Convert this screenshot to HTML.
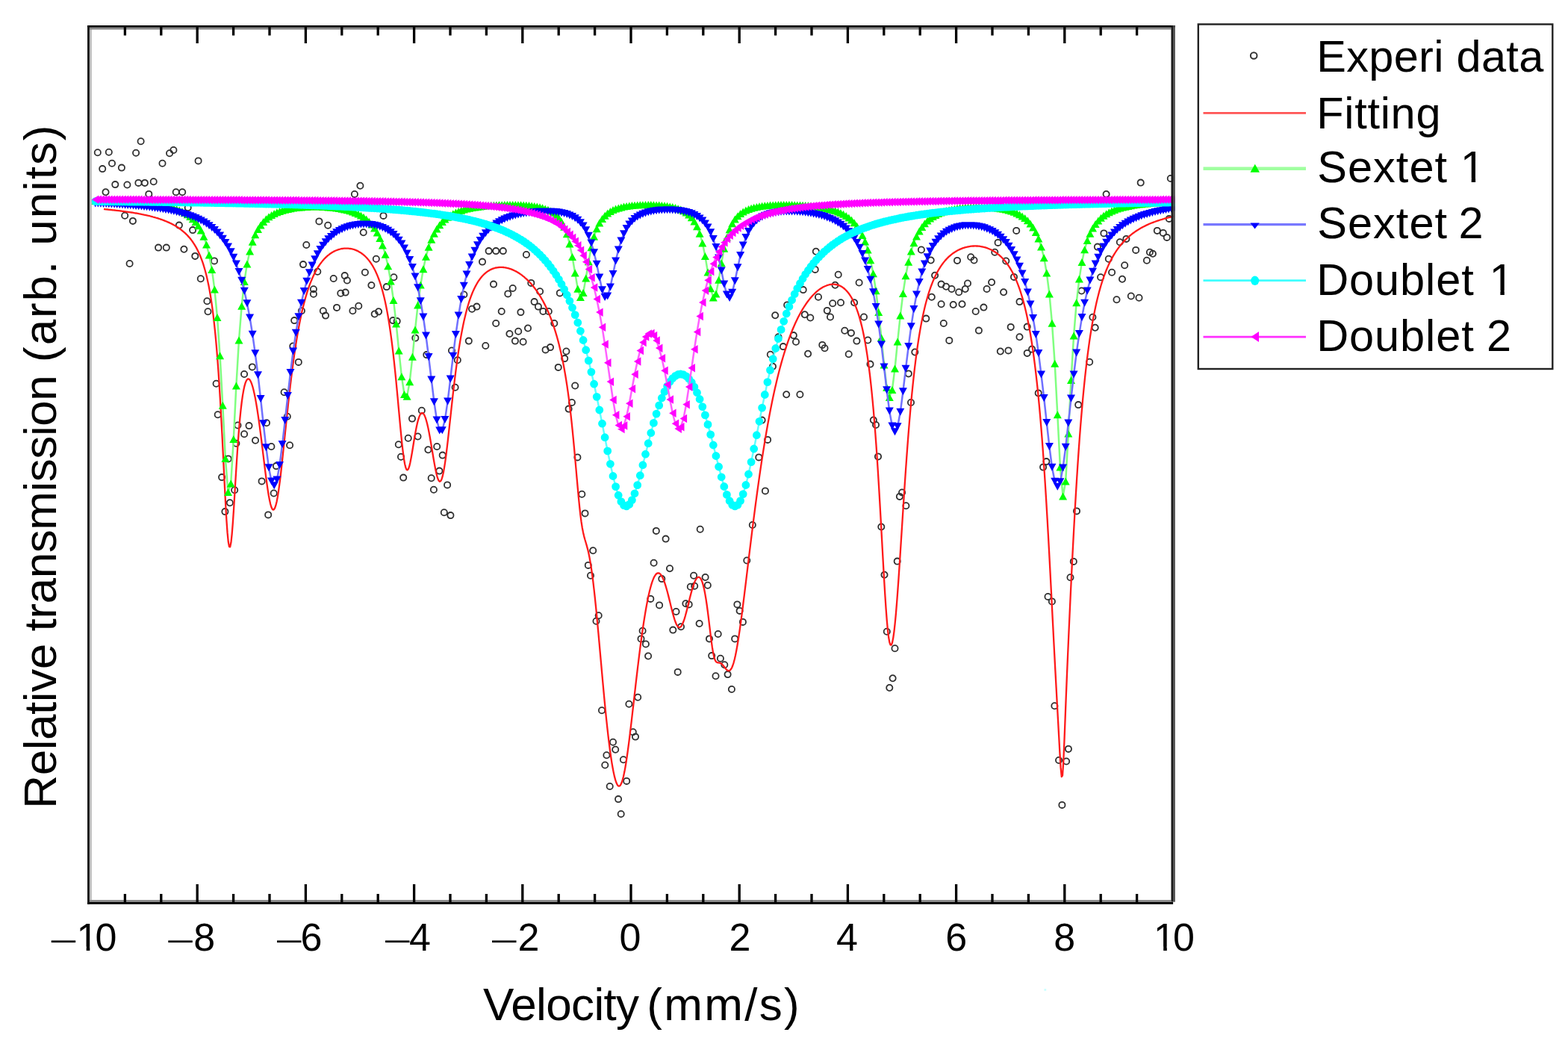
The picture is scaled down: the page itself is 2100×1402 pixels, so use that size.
<!DOCTYPE html><html><head><meta charset="utf-8"><style>html,body{margin:0;padding:0;background:#fff;}svg{display:block;}</style></head><body><svg width="2100" height="1402" viewBox="0 0 2100 1402">
<defs><clipPath id="pa"><rect x="119.8" y="36.7" width="1454" height="1171.3"/></clipPath></defs>
<rect width="100%" height="100%" fill="#fff"/>
<g clip-path="url(#pa)">
<path d="M134.9 204.2a4.1 4.1 0 1 0 -8.2 0a4.1 4.1 0 1 0 8.2 0zM149.9 203.8a4.1 4.1 0 1 0 -8.2 0a4.1 4.1 0 1 0 8.2 0zM192.7 189.3a4.1 4.1 0 1 0 -8.2 0a4.1 4.1 0 1 0 8.2 0zM186.2 204.7a4.1 4.1 0 1 0 -8.2 0a4.1 4.1 0 1 0 8.2 0zM231.2 205.3a4.1 4.1 0 1 0 -8.2 0a4.1 4.1 0 1 0 8.2 0zM236.5 201a4.1 4.1 0 1 0 -8.2 0a4.1 4.1 0 1 0 8.2 0zM221.6 218.8a4.1 4.1 0 1 0 -8.2 0a4.1 4.1 0 1 0 8.2 0zM269.7 215.4a4.1 4.1 0 1 0 -8.2 0a4.1 4.1 0 1 0 8.2 0zM154.1 218.8a4.1 4.1 0 1 0 -8.2 0a4.1 4.1 0 1 0 8.2 0zM141.3 226.1a4.1 4.1 0 1 0 -8.2 0a4.1 4.1 0 1 0 8.2 0zM167 224.6a4.1 4.1 0 1 0 -8.2 0a4.1 4.1 0 1 0 8.2 0zM158.4 247.1a4.1 4.1 0 1 0 -8.2 0a4.1 4.1 0 1 0 8.2 0zM174.5 247.5a4.1 4.1 0 1 0 -8.2 0a4.1 4.1 0 1 0 8.2 0zM189.5 244.9a4.1 4.1 0 1 0 -8.2 0a4.1 4.1 0 1 0 8.2 0zM198 244.9a4.1 4.1 0 1 0 -8.2 0a4.1 4.1 0 1 0 8.2 0zM209.8 243.2a4.1 4.1 0 1 0 -8.2 0a4.1 4.1 0 1 0 8.2 0zM145.6 257.3a4.1 4.1 0 1 0 -8.2 0a4.1 4.1 0 1 0 8.2 0zM239.8 257.3a4.1 4.1 0 1 0 -8.2 0a4.1 4.1 0 1 0 8.2 0zM248.3 257.3a4.1 4.1 0 1 0 -8.2 0a4.1 4.1 0 1 0 8.2 0zM203.4 259.9a4.1 4.1 0 1 0 -8.2 0a4.1 4.1 0 1 0 8.2 0zM171.3 288.8a4.1 4.1 0 1 0 -8.2 0a4.1 4.1 0 1 0 8.2 0zM182 295.9a4.1 4.1 0 1 0 -8.2 0a4.1 4.1 0 1 0 8.2 0zM244 301.6a4.1 4.1 0 1 0 -8.2 0a4.1 4.1 0 1 0 8.2 0zM262.2 308.1a4.1 4.1 0 1 0 -8.2 0a4.1 4.1 0 1 0 8.2 0zM255.8 278.1a4.1 4.1 0 1 0 -8.2 0a4.1 4.1 0 1 0 8.2 0zM216.2 331.6a4.1 4.1 0 1 0 -8.2 0a4.1 4.1 0 1 0 8.2 0zM226.9 331.6a4.1 4.1 0 1 0 -8.2 0a4.1 4.1 0 1 0 8.2 0zM250.5 333.7a4.1 4.1 0 1 0 -8.2 0a4.1 4.1 0 1 0 8.2 0zM265.4 342.9a4.1 4.1 0 1 0 -8.2 0a4.1 4.1 0 1 0 8.2 0zM291.1 349.4a4.1 4.1 0 1 0 -8.2 0a4.1 4.1 0 1 0 8.2 0zM177.7 353a4.1 4.1 0 1 0 -8.2 0a4.1 4.1 0 1 0 8.2 0zM272.9 373.3a4.1 4.1 0 1 0 -8.2 0a4.1 4.1 0 1 0 8.2 0zM281.5 403.3a4.1 4.1 0 1 0 -8.2 0a4.1 4.1 0 1 0 8.2 0zM282.6 417.2a4.1 4.1 0 1 0 -8.2 0a4.1 4.1 0 1 0 8.2 0zM293.7 513.8a4.1 4.1 0 1 0 -8.2 0a4.1 4.1 0 1 0 8.2 0zM295.8 555.2a4.1 4.1 0 1 0 -8.2 0a4.1 4.1 0 1 0 8.2 0zM331.2 501a4.1 4.1 0 1 0 -8.2 0a4.1 4.1 0 1 0 8.2 0zM341.9 491.4a4.1 4.1 0 1 0 -8.2 0a4.1 4.1 0 1 0 8.2 0zM396.4 463.5a4.1 4.1 0 1 0 -8.2 0a4.1 4.1 0 1 0 8.2 0zM403.9 484.9a4.1 4.1 0 1 0 -8.2 0a4.1 4.1 0 1 0 8.2 0zM384.7 525.2a4.1 4.1 0 1 0 -8.2 0a4.1 4.1 0 1 0 8.2 0zM388.9 557.7a4.1 4.1 0 1 0 -8.2 0a4.1 4.1 0 1 0 8.2 0zM322.6 569.5a4.1 4.1 0 1 0 -8.2 0a4.1 4.1 0 1 0 8.2 0zM337.6 570.1a4.1 4.1 0 1 0 -8.2 0a4.1 4.1 0 1 0 8.2 0zM331.2 581.3a4.1 4.1 0 1 0 -8.2 0a4.1 4.1 0 1 0 8.2 0zM346.1 589.8a4.1 4.1 0 1 0 -8.2 0a4.1 4.1 0 1 0 8.2 0zM320.5 593.7a4.1 4.1 0 1 0 -8.2 0a4.1 4.1 0 1 0 8.2 0zM367.5 598a4.1 4.1 0 1 0 -8.2 0a4.1 4.1 0 1 0 8.2 0zM392.2 596.2a4.1 4.1 0 1 0 -8.2 0a4.1 4.1 0 1 0 8.2 0zM361.1 566.3a4.1 4.1 0 1 0 -8.2 0a4.1 4.1 0 1 0 8.2 0zM309.8 614.4a4.1 4.1 0 1 0 -8.2 0a4.1 4.1 0 1 0 8.2 0zM301.2 639.1a4.1 4.1 0 1 0 -8.2 0a4.1 4.1 0 1 0 8.2 0zM318.3 656.2a4.1 4.1 0 1 0 -8.2 0a4.1 4.1 0 1 0 8.2 0zM311.9 673.3a4.1 4.1 0 1 0 -8.2 0a4.1 4.1 0 1 0 8.2 0zM305.5 685.1a4.1 4.1 0 1 0 -8.2 0a4.1 4.1 0 1 0 8.2 0zM354.7 644.4a4.1 4.1 0 1 0 -8.2 0a4.1 4.1 0 1 0 8.2 0zM374 624.1a4.1 4.1 0 1 0 -8.2 0a4.1 4.1 0 1 0 8.2 0zM370.8 660.5a4.1 4.1 0 1 0 -8.2 0a4.1 4.1 0 1 0 8.2 0zM363.3 689.4a4.1 4.1 0 1 0 -8.2 0a4.1 4.1 0 1 0 8.2 0zM431.5 296.4a4.1 4.1 0 1 0 -8.2 0a4.1 4.1 0 1 0 8.2 0zM443.3 301.7a4.1 4.1 0 1 0 -8.2 0a4.1 4.1 0 1 0 8.2 0zM414.4 328a4.1 4.1 0 1 0 -8.2 0a4.1 4.1 0 1 0 8.2 0zM410.1 354.1a4.1 4.1 0 1 0 -8.2 0a4.1 4.1 0 1 0 8.2 0zM429.4 363.8a4.1 4.1 0 1 0 -8.2 0a4.1 4.1 0 1 0 8.2 0zM424 387.3a4.1 4.1 0 1 0 -8.2 0a4.1 4.1 0 1 0 8.2 0zM424 393.7a4.1 4.1 0 1 0 -8.2 0a4.1 4.1 0 1 0 8.2 0zM450.8 373a4.1 4.1 0 1 0 -8.2 0a4.1 4.1 0 1 0 8.2 0zM465.8 369.1a4.1 4.1 0 1 0 -8.2 0a4.1 4.1 0 1 0 8.2 0zM469 375.5a4.1 4.1 0 1 0 -8.2 0a4.1 4.1 0 1 0 8.2 0zM460.4 392.7a4.1 4.1 0 1 0 -8.2 0a4.1 4.1 0 1 0 8.2 0zM466.8 391.6a4.1 4.1 0 1 0 -8.2 0a4.1 4.1 0 1 0 8.2 0zM436.9 416.2a4.1 4.1 0 1 0 -8.2 0a4.1 4.1 0 1 0 8.2 0zM440.1 422.6a4.1 4.1 0 1 0 -8.2 0a4.1 4.1 0 1 0 8.2 0zM455.1 411.9a4.1 4.1 0 1 0 -8.2 0a4.1 4.1 0 1 0 8.2 0zM476.5 416.2a4.1 4.1 0 1 0 -8.2 0a4.1 4.1 0 1 0 8.2 0zM408 416.2a4.1 4.1 0 1 0 -8.2 0a4.1 4.1 0 1 0 8.2 0zM398.3 429.1a4.1 4.1 0 1 0 -8.2 0a4.1 4.1 0 1 0 8.2 0zM479 260a4.1 4.1 0 1 0 -8.2 0a4.1 4.1 0 1 0 8.2 0zM486.5 248.8a4.1 4.1 0 1 0 -8.2 0a4.1 4.1 0 1 0 8.2 0zM517.6 288.9a4.1 4.1 0 1 0 -8.2 0a4.1 4.1 0 1 0 8.2 0zM490.8 311.3a4.1 4.1 0 1 0 -8.2 0a4.1 4.1 0 1 0 8.2 0zM507.9 346.7a4.1 4.1 0 1 0 -8.2 0a4.1 4.1 0 1 0 8.2 0zM531.5 371.3a4.1 4.1 0 1 0 -8.2 0a4.1 4.1 0 1 0 8.2 0zM521.9 384.1a4.1 4.1 0 1 0 -8.2 0a4.1 4.1 0 1 0 8.2 0zM493 364.8a4.1 4.1 0 1 0 -8.2 0a4.1 4.1 0 1 0 8.2 0zM501.5 382a4.1 4.1 0 1 0 -8.2 0a4.1 4.1 0 1 0 8.2 0zM484.4 409.8a4.1 4.1 0 1 0 -8.2 0a4.1 4.1 0 1 0 8.2 0zM505.8 420.5a4.1 4.1 0 1 0 -8.2 0a4.1 4.1 0 1 0 8.2 0zM511.2 417.3a4.1 4.1 0 1 0 -8.2 0a4.1 4.1 0 1 0 8.2 0zM530.4 429.1a4.1 4.1 0 1 0 -8.2 0a4.1 4.1 0 1 0 8.2 0zM535.8 430.1a4.1 4.1 0 1 0 -8.2 0a4.1 4.1 0 1 0 8.2 0zM560.4 452.6a4.1 4.1 0 1 0 -8.2 0a4.1 4.1 0 1 0 8.2 0zM575.4 475.1a4.1 4.1 0 1 0 -8.2 0a4.1 4.1 0 1 0 8.2 0zM568.9 549.7a4.1 4.1 0 1 0 -8.2 0a4.1 4.1 0 1 0 8.2 0zM556.1 560.6a4.1 4.1 0 1 0 -8.2 0a4.1 4.1 0 1 0 8.2 0zM550.8 586.7a4.1 4.1 0 1 0 -8.2 0a4.1 4.1 0 1 0 8.2 0zM563.6 584.5a4.1 4.1 0 1 0 -8.2 0a4.1 4.1 0 1 0 8.2 0zM537.9 595.2a4.1 4.1 0 1 0 -8.2 0a4.1 4.1 0 1 0 8.2 0zM541.1 611.7a4.1 4.1 0 1 0 -8.2 0a4.1 4.1 0 1 0 8.2 0zM577.5 602.3a4.1 4.1 0 1 0 -8.2 0a4.1 4.1 0 1 0 8.2 0zM589.3 598a4.1 4.1 0 1 0 -8.2 0a4.1 4.1 0 1 0 8.2 0zM596.8 609.6a4.1 4.1 0 1 0 -8.2 0a4.1 4.1 0 1 0 8.2 0zM592.5 630.6a4.1 4.1 0 1 0 -8.2 0a4.1 4.1 0 1 0 8.2 0zM581.8 640.2a4.1 4.1 0 1 0 -8.2 0a4.1 4.1 0 1 0 8.2 0zM544.3 639.6a4.1 4.1 0 1 0 -8.2 0a4.1 4.1 0 1 0 8.2 0zM585 655.8a4.1 4.1 0 1 0 -8.2 0a4.1 4.1 0 1 0 8.2 0zM603.2 649.4a4.1 4.1 0 1 0 -8.2 0a4.1 4.1 0 1 0 8.2 0zM598.9 686.2a4.1 4.1 0 1 0 -8.2 0a4.1 4.1 0 1 0 8.2 0zM607.5 690.1a4.1 4.1 0 1 0 -8.2 0a4.1 4.1 0 1 0 8.2 0zM609.1 469.5a4.1 4.1 0 1 0 -8.2 0a4.1 4.1 0 1 0 8.2 0zM613.7 518.7a4.1 4.1 0 1 0 -8.2 0a4.1 4.1 0 1 0 8.2 0zM658.7 336.1a4.1 4.1 0 1 0 -8.2 0a4.1 4.1 0 1 0 8.2 0zM668.3 336.1a4.1 4.1 0 1 0 -8.2 0a4.1 4.1 0 1 0 8.2 0zM677.9 336.1a4.1 4.1 0 1 0 -8.2 0a4.1 4.1 0 1 0 8.2 0zM709 341a4.1 4.1 0 1 0 -8.2 0a4.1 4.1 0 1 0 8.2 0zM650.1 350.6a4.1 4.1 0 1 0 -8.2 0a4.1 4.1 0 1 0 8.2 0zM665.1 380.6a4.1 4.1 0 1 0 -8.2 0a4.1 4.1 0 1 0 8.2 0zM684.4 393.4a4.1 4.1 0 1 0 -8.2 0a4.1 4.1 0 1 0 8.2 0zM690.8 386a4.1 4.1 0 1 0 -8.2 0a4.1 4.1 0 1 0 8.2 0zM715.4 378.9a4.1 4.1 0 1 0 -8.2 0a4.1 4.1 0 1 0 8.2 0zM727.2 390.2a4.1 4.1 0 1 0 -8.2 0a4.1 4.1 0 1 0 8.2 0zM719.7 404.1a4.1 4.1 0 1 0 -8.2 0a4.1 4.1 0 1 0 8.2 0zM725 410.6a4.1 4.1 0 1 0 -8.2 0a4.1 4.1 0 1 0 8.2 0zM731.5 417a4.1 4.1 0 1 0 -8.2 0a4.1 4.1 0 1 0 8.2 0zM738.9 417a4.1 4.1 0 1 0 -8.2 0a4.1 4.1 0 1 0 8.2 0zM746.4 433a4.1 4.1 0 1 0 -8.2 0a4.1 4.1 0 1 0 8.2 0zM753.9 392.4a4.1 4.1 0 1 0 -8.2 0a4.1 4.1 0 1 0 8.2 0zM636.2 413.8a4.1 4.1 0 1 0 -8.2 0a4.1 4.1 0 1 0 8.2 0zM642.6 410.6a4.1 4.1 0 1 0 -8.2 0a4.1 4.1 0 1 0 8.2 0zM625.5 394.5a4.1 4.1 0 1 0 -8.2 0a4.1 4.1 0 1 0 8.2 0zM675.8 417a4.1 4.1 0 1 0 -8.2 0a4.1 4.1 0 1 0 8.2 0zM701.5 418.1a4.1 4.1 0 1 0 -8.2 0a4.1 4.1 0 1 0 8.2 0zM668.3 433a4.1 4.1 0 1 0 -8.2 0a4.1 4.1 0 1 0 8.2 0zM686.5 447a4.1 4.1 0 1 0 -8.2 0a4.1 4.1 0 1 0 8.2 0zM698.3 443.7a4.1 4.1 0 1 0 -8.2 0a4.1 4.1 0 1 0 8.2 0zM711.1 439.5a4.1 4.1 0 1 0 -8.2 0a4.1 4.1 0 1 0 8.2 0zM694 456.6a4.1 4.1 0 1 0 -8.2 0a4.1 4.1 0 1 0 8.2 0zM704.7 457.7a4.1 4.1 0 1 0 -8.2 0a4.1 4.1 0 1 0 8.2 0zM631.9 456.6a4.1 4.1 0 1 0 -8.2 0a4.1 4.1 0 1 0 8.2 0zM654.4 463a4.1 4.1 0 1 0 -8.2 0a4.1 4.1 0 1 0 8.2 0zM734.7 468.4a4.1 4.1 0 1 0 -8.2 0a4.1 4.1 0 1 0 8.2 0zM741.1 465.1a4.1 4.1 0 1 0 -8.2 0a4.1 4.1 0 1 0 8.2 0zM762.5 470.5a4.1 4.1 0 1 0 -8.2 0a4.1 4.1 0 1 0 8.2 0zM760.3 480.1a4.1 4.1 0 1 0 -8.2 0a4.1 4.1 0 1 0 8.2 0zM751.8 491.9a4.1 4.1 0 1 0 -8.2 0a4.1 4.1 0 1 0 8.2 0zM774.3 516.5a4.1 4.1 0 1 0 -8.2 0a4.1 4.1 0 1 0 8.2 0zM770 539a4.1 4.1 0 1 0 -8.2 0a4.1 4.1 0 1 0 8.2 0zM765.7 547.6a4.1 4.1 0 1 0 -8.2 0a4.1 4.1 0 1 0 8.2 0zM616.9 482.3a4.1 4.1 0 1 0 -8.2 0a4.1 4.1 0 1 0 8.2 0zM777.5 612.4a4.1 4.1 0 1 0 -8.2 0a4.1 4.1 0 1 0 8.2 0zM783.4 661.7a4.1 4.1 0 1 0 -8.2 0a4.1 4.1 0 1 0 8.2 0zM787.6 687.4a4.1 4.1 0 1 0 -8.2 0a4.1 4.1 0 1 0 8.2 0zM798.3 737.2a4.1 4.1 0 1 0 -8.2 0a4.1 4.1 0 1 0 8.2 0zM791.9 756.9a4.1 4.1 0 1 0 -8.2 0a4.1 4.1 0 1 0 8.2 0zM795.1 770.8a4.1 4.1 0 1 0 -8.2 0a4.1 4.1 0 1 0 8.2 0zM805.8 824.3a4.1 4.1 0 1 0 -8.2 0a4.1 4.1 0 1 0 8.2 0zM802.6 831.8a4.1 4.1 0 1 0 -8.2 0a4.1 4.1 0 1 0 8.2 0zM882.9 710.9a4.1 4.1 0 1 0 -8.2 0a4.1 4.1 0 1 0 8.2 0zM895.7 721.6a4.1 4.1 0 1 0 -8.2 0a4.1 4.1 0 1 0 8.2 0zM879.7 753.7a4.1 4.1 0 1 0 -8.2 0a4.1 4.1 0 1 0 8.2 0zM901.1 761.2a4.1 4.1 0 1 0 -8.2 0a4.1 4.1 0 1 0 8.2 0zM890.4 775.1a4.1 4.1 0 1 0 -8.2 0a4.1 4.1 0 1 0 8.2 0zM933.2 770.8a4.1 4.1 0 1 0 -8.2 0a4.1 4.1 0 1 0 8.2 0zM934.3 784.7a4.1 4.1 0 1 0 -8.2 0a4.1 4.1 0 1 0 8.2 0zM928.9 785.8a4.1 4.1 0 1 0 -8.2 0a4.1 4.1 0 1 0 8.2 0zM941.8 708.8a4.1 4.1 0 1 0 -8.2 0a4.1 4.1 0 1 0 8.2 0zM875.4 801.9a4.1 4.1 0 1 0 -8.2 0a4.1 4.1 0 1 0 8.2 0zM887.2 810.4a4.1 4.1 0 1 0 -8.2 0a4.1 4.1 0 1 0 8.2 0zM922.5 808.3a4.1 4.1 0 1 0 -8.2 0a4.1 4.1 0 1 0 8.2 0zM926.8 809.4a4.1 4.1 0 1 0 -8.2 0a4.1 4.1 0 1 0 8.2 0zM909.6 819a4.1 4.1 0 1 0 -8.2 0a4.1 4.1 0 1 0 8.2 0zM905.4 843.6a4.1 4.1 0 1 0 -8.2 0a4.1 4.1 0 1 0 8.2 0zM916.1 839.3a4.1 4.1 0 1 0 -8.2 0a4.1 4.1 0 1 0 8.2 0zM940.7 835a4.1 4.1 0 1 0 -8.2 0a4.1 4.1 0 1 0 8.2 0zM864.7 844.7a4.1 4.1 0 1 0 -8.2 0a4.1 4.1 0 1 0 8.2 0zM862.6 855.4a4.1 4.1 0 1 0 -8.2 0a4.1 4.1 0 1 0 8.2 0zM869 862.5a4.1 4.1 0 1 0 -8.2 0a4.1 4.1 0 1 0 8.2 0zM872.2 878.5a4.1 4.1 0 1 0 -8.2 0a4.1 4.1 0 1 0 8.2 0zM911.8 899.9a4.1 4.1 0 1 0 -8.2 0a4.1 4.1 0 1 0 8.2 0zM858.3 933.8a4.1 4.1 0 1 0 -8.2 0a4.1 4.1 0 1 0 8.2 0zM846.5 942.7a4.1 4.1 0 1 0 -8.2 0a4.1 4.1 0 1 0 8.2 0zM810.1 951.3a4.1 4.1 0 1 0 -8.2 0a4.1 4.1 0 1 0 8.2 0zM851.9 980.2a4.1 4.1 0 1 0 -8.2 0a4.1 4.1 0 1 0 8.2 0zM855.1 986.6a4.1 4.1 0 1 0 -8.2 0a4.1 4.1 0 1 0 8.2 0zM825.1 993.7a4.1 4.1 0 1 0 -8.2 0a4.1 4.1 0 1 0 8.2 0zM828.3 1003.7a4.1 4.1 0 1 0 -8.2 0a4.1 4.1 0 1 0 8.2 0zM816.5 1011.2a4.1 4.1 0 1 0 -8.2 0a4.1 4.1 0 1 0 8.2 0zM839 1017.2a4.1 4.1 0 1 0 -8.2 0a4.1 4.1 0 1 0 8.2 0zM814.4 1024.5a4.1 4.1 0 1 0 -8.2 0a4.1 4.1 0 1 0 8.2 0zM843.3 1045.9a4.1 4.1 0 1 0 -8.2 0a4.1 4.1 0 1 0 8.2 0zM820.8 1053a4.1 4.1 0 1 0 -8.2 0a4.1 4.1 0 1 0 8.2 0zM832.2 1070.1a4.1 4.1 0 1 0 -8.2 0a4.1 4.1 0 1 0 8.2 0zM835.8 1090a4.1 4.1 0 1 0 -8.2 0a4.1 4.1 0 1 0 8.2 0zM1024.7 562.6a4.1 4.1 0 1 0 -8.2 0a4.1 4.1 0 1 0 8.2 0zM1032.2 588.9a4.1 4.1 0 1 0 -8.2 0a4.1 4.1 0 1 0 8.2 0zM1020.4 612.4a4.1 4.1 0 1 0 -8.2 0a4.1 4.1 0 1 0 8.2 0zM1029 657.4a4.1 4.1 0 1 0 -8.2 0a4.1 4.1 0 1 0 8.2 0zM1011.9 703a4.1 4.1 0 1 0 -8.2 0a4.1 4.1 0 1 0 8.2 0zM1004.4 750.5a4.1 4.1 0 1 0 -8.2 0a4.1 4.1 0 1 0 8.2 0zM948.7 773a4.1 4.1 0 1 0 -8.2 0a4.1 4.1 0 1 0 8.2 0zM951.9 783.7a4.1 4.1 0 1 0 -8.2 0a4.1 4.1 0 1 0 8.2 0zM991.5 809.4a4.1 4.1 0 1 0 -8.2 0a4.1 4.1 0 1 0 8.2 0zM994.7 817.9a4.1 4.1 0 1 0 -8.2 0a4.1 4.1 0 1 0 8.2 0zM999 832.9a4.1 4.1 0 1 0 -8.2 0a4.1 4.1 0 1 0 8.2 0zM965.8 849a4.1 4.1 0 1 0 -8.2 0a4.1 4.1 0 1 0 8.2 0zM954.1 855.4a4.1 4.1 0 1 0 -8.2 0a4.1 4.1 0 1 0 8.2 0zM988.3 855.4a4.1 4.1 0 1 0 -8.2 0a4.1 4.1 0 1 0 8.2 0zM957.3 878.1a4.1 4.1 0 1 0 -8.2 0a4.1 4.1 0 1 0 8.2 0zM969 881.7a4.1 4.1 0 1 0 -8.2 0a4.1 4.1 0 1 0 8.2 0zM974.4 890.3a4.1 4.1 0 1 0 -8.2 0a4.1 4.1 0 1 0 8.2 0zM962.6 905.3a4.1 4.1 0 1 0 -8.2 0a4.1 4.1 0 1 0 8.2 0zM978.7 903.1a4.1 4.1 0 1 0 -8.2 0a4.1 4.1 0 1 0 8.2 0zM984 923a4.1 4.1 0 1 0 -8.2 0a4.1 4.1 0 1 0 8.2 0zM1096.9 336.7a4.1 4.1 0 1 0 -8.2 0a4.1 4.1 0 1 0 8.2 0zM1095.8 360.9a4.1 4.1 0 1 0 -8.2 0a4.1 4.1 0 1 0 8.2 0zM1126.8 367.8a4.1 4.1 0 1 0 -8.2 0a4.1 4.1 0 1 0 8.2 0zM1122.6 381.7a4.1 4.1 0 1 0 -8.2 0a4.1 4.1 0 1 0 8.2 0zM1154.7 378.5a4.1 4.1 0 1 0 -8.2 0a4.1 4.1 0 1 0 8.2 0zM1079.8 388.1a4.1 4.1 0 1 0 -8.2 0a4.1 4.1 0 1 0 8.2 0zM1100.1 397.7a4.1 4.1 0 1 0 -8.2 0a4.1 4.1 0 1 0 8.2 0zM1119.3 406.3a4.1 4.1 0 1 0 -8.2 0a4.1 4.1 0 1 0 8.2 0zM1130.1 405.2a4.1 4.1 0 1 0 -8.2 0a4.1 4.1 0 1 0 8.2 0zM1111.9 415.9a4.1 4.1 0 1 0 -8.2 0a4.1 4.1 0 1 0 8.2 0zM1116.1 424.5a4.1 4.1 0 1 0 -8.2 0a4.1 4.1 0 1 0 8.2 0zM1148.2 405.2a4.1 4.1 0 1 0 -8.2 0a4.1 4.1 0 1 0 8.2 0zM1081.9 421.3a4.1 4.1 0 1 0 -8.2 0a4.1 4.1 0 1 0 8.2 0zM1089.4 425.5a4.1 4.1 0 1 0 -8.2 0a4.1 4.1 0 1 0 8.2 0zM1161.1 424.5a4.1 4.1 0 1 0 -8.2 0a4.1 4.1 0 1 0 8.2 0zM1058.3 408.4a4.1 4.1 0 1 0 -8.2 0a4.1 4.1 0 1 0 8.2 0zM1042.3 422.3a4.1 4.1 0 1 0 -8.2 0a4.1 4.1 0 1 0 8.2 0zM1135.4 442.7a4.1 4.1 0 1 0 -8.2 0a4.1 4.1 0 1 0 8.2 0zM1144 445.9a4.1 4.1 0 1 0 -8.2 0a4.1 4.1 0 1 0 8.2 0zM1151.5 456.6a4.1 4.1 0 1 0 -8.2 0a4.1 4.1 0 1 0 8.2 0zM1166.4 455.5a4.1 4.1 0 1 0 -8.2 0a4.1 4.1 0 1 0 8.2 0zM1066.9 449.1a4.1 4.1 0 1 0 -8.2 0a4.1 4.1 0 1 0 8.2 0zM1070.1 457.7a4.1 4.1 0 1 0 -8.2 0a4.1 4.1 0 1 0 8.2 0zM1046.6 451.2a4.1 4.1 0 1 0 -8.2 0a4.1 4.1 0 1 0 8.2 0zM1053 464.1a4.1 4.1 0 1 0 -8.2 0a4.1 4.1 0 1 0 8.2 0zM1105.4 461.9a4.1 4.1 0 1 0 -8.2 0a4.1 4.1 0 1 0 8.2 0zM1108.6 466.2a4.1 4.1 0 1 0 -8.2 0a4.1 4.1 0 1 0 8.2 0zM1086.2 473.7a4.1 4.1 0 1 0 -8.2 0a4.1 4.1 0 1 0 8.2 0zM1140.8 474.3a4.1 4.1 0 1 0 -8.2 0a4.1 4.1 0 1 0 8.2 0zM1035.9 474.8a4.1 4.1 0 1 0 -8.2 0a4.1 4.1 0 1 0 8.2 0zM1169.6 487.6a4.1 4.1 0 1 0 -8.2 0a4.1 4.1 0 1 0 8.2 0zM1039.1 490.8a4.1 4.1 0 1 0 -8.2 0a4.1 4.1 0 1 0 8.2 0zM1057.3 528.3a4.1 4.1 0 1 0 -8.2 0a4.1 4.1 0 1 0 8.2 0zM1075.5 528.3a4.1 4.1 0 1 0 -8.2 0a4.1 4.1 0 1 0 8.2 0zM1173.9 562.5a4.1 4.1 0 1 0 -8.2 0a4.1 4.1 0 1 0 8.2 0zM1177.1 569a4.1 4.1 0 1 0 -8.2 0a4.1 4.1 0 1 0 8.2 0zM1180.1 611.4a4.1 4.1 0 1 0 -8.2 0a4.1 4.1 0 1 0 8.2 0zM1212.2 659.5a4.1 4.1 0 1 0 -8.2 0a4.1 4.1 0 1 0 8.2 0zM1209 664.9a4.1 4.1 0 1 0 -8.2 0a4.1 4.1 0 1 0 8.2 0zM1217.5 677.3a4.1 4.1 0 1 0 -8.2 0a4.1 4.1 0 1 0 8.2 0zM1184.4 705.5a4.1 4.1 0 1 0 -8.2 0a4.1 4.1 0 1 0 8.2 0zM1205.8 751.6a4.1 4.1 0 1 0 -8.2 0a4.1 4.1 0 1 0 8.2 0zM1188.6 769.8a4.1 4.1 0 1 0 -8.2 0a4.1 4.1 0 1 0 8.2 0zM1191.9 845.7a4.1 4.1 0 1 0 -8.2 0a4.1 4.1 0 1 0 8.2 0zM1202.6 868.3a4.1 4.1 0 1 0 -8.2 0a4.1 4.1 0 1 0 8.2 0zM1199.7 908.2a4.1 4.1 0 1 0 -8.2 0a4.1 4.1 0 1 0 8.2 0zM1195.4 921a4.1 4.1 0 1 0 -8.2 0a4.1 4.1 0 1 0 8.2 0zM1238 334.5a4.1 4.1 0 1 0 -8.2 0a4.1 4.1 0 1 0 8.2 0zM1250.8 348.5a4.1 4.1 0 1 0 -8.2 0a4.1 4.1 0 1 0 8.2 0zM1286.1 348.9a4.1 4.1 0 1 0 -8.2 0a4.1 4.1 0 1 0 8.2 0zM1304.3 344.2a4.1 4.1 0 1 0 -8.2 0a4.1 4.1 0 1 0 8.2 0zM1308.6 348.5a4.1 4.1 0 1 0 -8.2 0a4.1 4.1 0 1 0 8.2 0zM1256.2 368.8a4.1 4.1 0 1 0 -8.2 0a4.1 4.1 0 1 0 8.2 0zM1264.7 380.6a4.1 4.1 0 1 0 -8.2 0a4.1 4.1 0 1 0 8.2 0zM1271.2 383.8a4.1 4.1 0 1 0 -8.2 0a4.1 4.1 0 1 0 8.2 0zM1278.6 387a4.1 4.1 0 1 0 -8.2 0a4.1 4.1 0 1 0 8.2 0zM1288.3 391.3a4.1 4.1 0 1 0 -8.2 0a4.1 4.1 0 1 0 8.2 0zM1296.8 387a4.1 4.1 0 1 0 -8.2 0a4.1 4.1 0 1 0 8.2 0zM1300.1 379.5a4.1 4.1 0 1 0 -8.2 0a4.1 4.1 0 1 0 8.2 0zM1325.7 387a4.1 4.1 0 1 0 -8.2 0a4.1 4.1 0 1 0 8.2 0zM1332.2 378a4.1 4.1 0 1 0 -8.2 0a4.1 4.1 0 1 0 8.2 0zM1348.2 391.3a4.1 4.1 0 1 0 -8.2 0a4.1 4.1 0 1 0 8.2 0zM1365.3 308.9a4.1 4.1 0 1 0 -8.2 0a4.1 4.1 0 1 0 8.2 0zM1340.7 324.9a4.1 4.1 0 1 0 -8.2 0a4.1 4.1 0 1 0 8.2 0zM1336.4 337.8a4.1 4.1 0 1 0 -8.2 0a4.1 4.1 0 1 0 8.2 0zM1351.4 349.5a4.1 4.1 0 1 0 -8.2 0a4.1 4.1 0 1 0 8.2 0zM1362.1 370.9a4.1 4.1 0 1 0 -8.2 0a4.1 4.1 0 1 0 8.2 0zM1369.6 404.1a4.1 4.1 0 1 0 -8.2 0a4.1 4.1 0 1 0 8.2 0zM1251.9 397.7a4.1 4.1 0 1 0 -8.2 0a4.1 4.1 0 1 0 8.2 0zM1264.7 407.3a4.1 4.1 0 1 0 -8.2 0a4.1 4.1 0 1 0 8.2 0zM1280.8 408a4.1 4.1 0 1 0 -8.2 0a4.1 4.1 0 1 0 8.2 0zM1292.6 407.3a4.1 4.1 0 1 0 -8.2 0a4.1 4.1 0 1 0 8.2 0zM1310.8 417a4.1 4.1 0 1 0 -8.2 0a4.1 4.1 0 1 0 8.2 0zM1321.5 411.6a4.1 4.1 0 1 0 -8.2 0a4.1 4.1 0 1 0 8.2 0zM1244.4 426.6a4.1 4.1 0 1 0 -8.2 0a4.1 4.1 0 1 0 8.2 0zM1267.9 433a4.1 4.1 0 1 0 -8.2 0a4.1 4.1 0 1 0 8.2 0zM1315 442.6a4.1 4.1 0 1 0 -8.2 0a4.1 4.1 0 1 0 8.2 0zM1357.8 437.9a4.1 4.1 0 1 0 -8.2 0a4.1 4.1 0 1 0 8.2 0zM1369.6 451.2a4.1 4.1 0 1 0 -8.2 0a4.1 4.1 0 1 0 8.2 0zM1275.4 455.9a4.1 4.1 0 1 0 -8.2 0a4.1 4.1 0 1 0 8.2 0zM1343.9 470.5a4.1 4.1 0 1 0 -8.2 0a4.1 4.1 0 1 0 8.2 0zM1354.6 469.4a4.1 4.1 0 1 0 -8.2 0a4.1 4.1 0 1 0 8.2 0zM1229.4 471.5a4.1 4.1 0 1 0 -8.2 0a4.1 4.1 0 1 0 8.2 0zM1220.9 500.4a4.1 4.1 0 1 0 -8.2 0a4.1 4.1 0 1 0 8.2 0zM1224.1 539a4.1 4.1 0 1 0 -8.2 0a4.1 4.1 0 1 0 8.2 0zM1531.8 244.6a4.1 4.1 0 1 0 -8.2 0a4.1 4.1 0 1 0 8.2 0zM1485.7 260a4.1 4.1 0 1 0 -8.2 0a4.1 4.1 0 1 0 8.2 0zM1482.5 312.4a4.1 4.1 0 1 0 -8.2 0a4.1 4.1 0 1 0 8.2 0zM1474 330.6a4.1 4.1 0 1 0 -8.2 0a4.1 4.1 0 1 0 8.2 0zM1512.5 319.9a4.1 4.1 0 1 0 -8.2 0a4.1 4.1 0 1 0 8.2 0zM1503.9 324.2a4.1 4.1 0 1 0 -8.2 0a4.1 4.1 0 1 0 8.2 0zM1525.3 334.9a4.1 4.1 0 1 0 -8.2 0a4.1 4.1 0 1 0 8.2 0zM1488.9 346.7a4.1 4.1 0 1 0 -8.2 0a4.1 4.1 0 1 0 8.2 0zM1510.3 355.2a4.1 4.1 0 1 0 -8.2 0a4.1 4.1 0 1 0 8.2 0zM1493.2 364.8a4.1 4.1 0 1 0 -8.2 0a4.1 4.1 0 1 0 8.2 0zM1478.2 371.3a4.1 4.1 0 1 0 -8.2 0a4.1 4.1 0 1 0 8.2 0zM1507.1 373.8a4.1 4.1 0 1 0 -8.2 0a4.1 4.1 0 1 0 8.2 0zM1452.6 389.5a4.1 4.1 0 1 0 -8.2 0a4.1 4.1 0 1 0 8.2 0zM1499.6 401.2a4.1 4.1 0 1 0 -8.2 0a4.1 4.1 0 1 0 8.2 0zM1518.9 396.5a4.1 4.1 0 1 0 -8.2 0a4.1 4.1 0 1 0 8.2 0zM1529.6 398.7a4.1 4.1 0 1 0 -8.2 0a4.1 4.1 0 1 0 8.2 0zM1467.5 424.8a4.1 4.1 0 1 0 -8.2 0a4.1 4.1 0 1 0 8.2 0zM1470.8 438.7a4.1 4.1 0 1 0 -8.2 0a4.1 4.1 0 1 0 8.2 0zM1379.8 437.6a4.1 4.1 0 1 0 -8.2 0a4.1 4.1 0 1 0 8.2 0zM1379.8 472.9a4.1 4.1 0 1 0 -8.2 0a4.1 4.1 0 1 0 8.2 0zM1386.2 467.6a4.1 4.1 0 1 0 -8.2 0a4.1 4.1 0 1 0 8.2 0zM1463.3 484.7a4.1 4.1 0 1 0 -8.2 0a4.1 4.1 0 1 0 8.2 0zM1394.8 526.4a4.1 4.1 0 1 0 -8.2 0a4.1 4.1 0 1 0 8.2 0zM1448.3 542.1a4.1 4.1 0 1 0 -8.2 0a4.1 4.1 0 1 0 8.2 0zM1405.5 618.1a4.1 4.1 0 1 0 -8.2 0a4.1 4.1 0 1 0 8.2 0zM1401.2 625.6a4.1 4.1 0 1 0 -8.2 0a4.1 4.1 0 1 0 8.2 0zM1446.1 684.4a4.1 4.1 0 1 0 -8.2 0a4.1 4.1 0 1 0 8.2 0zM1441.9 751.9a4.1 4.1 0 1 0 -8.2 0a4.1 4.1 0 1 0 8.2 0zM1437.6 773.3a4.1 4.1 0 1 0 -8.2 0a4.1 4.1 0 1 0 8.2 0zM1407.6 799a4.1 4.1 0 1 0 -8.2 0a4.1 4.1 0 1 0 8.2 0zM1413 805.4a4.1 4.1 0 1 0 -8.2 0a4.1 4.1 0 1 0 8.2 0zM1416.5 945.3a4.1 4.1 0 1 0 -8.2 0a4.1 4.1 0 1 0 8.2 0zM1435 1002.9a4.1 4.1 0 1 0 -8.2 0a4.1 4.1 0 1 0 8.2 0zM1422.2 1018a4.1 4.1 0 1 0 -8.2 0a4.1 4.1 0 1 0 8.2 0zM1432.2 1019.5a4.1 4.1 0 1 0 -8.2 0a4.1 4.1 0 1 0 8.2 0zM1426.5 1077.9a4.1 4.1 0 1 0 -8.2 0a4.1 4.1 0 1 0 8.2 0zM1571.9 239a4.1 4.1 0 1 0 -8.2 0a4.1 4.1 0 1 0 8.2 0zM1569.9 292.9a4.1 4.1 0 1 0 -8.2 0a4.1 4.1 0 1 0 8.2 0zM1553.9 308.9a4.1 4.1 0 1 0 -8.2 0a4.1 4.1 0 1 0 8.2 0zM1561.9 311.9a4.1 4.1 0 1 0 -8.2 0a4.1 4.1 0 1 0 8.2 0zM1566.9 317.9a4.1 4.1 0 1 0 -8.2 0a4.1 4.1 0 1 0 8.2 0zM1544 337.8a4.1 4.1 0 1 0 -8.2 0a4.1 4.1 0 1 0 8.2 0zM1548 339.8a4.1 4.1 0 1 0 -8.2 0a4.1 4.1 0 1 0 8.2 0zM1540 348.8a4.1 4.1 0 1 0 -8.2 0a4.1 4.1 0 1 0 8.2 0z" fill="none" stroke="#303030" stroke-width="1.8"/>
<polyline points="139,280.1 140.2,280.2 141.4,280.3 142.6,280.4 143.8,280.5 145,280.6 146.2,280.8 147.4,280.9 148.6,281 149.8,281.1 151,281.3 152.2,281.4 153.4,281.5 154.6,281.6 155.8,281.8 157,281.9 158.2,282.1 159.4,282.2 160.6,282.4 161.8,282.5 163,282.7 164.2,282.8 165.4,283 166.6,283.1 167.8,283.3 169,283.5 170.2,283.6 171.4,283.8 172.6,284 173.8,284.1 175,284.3 176.2,284.5 177.4,284.7 178.6,284.9 179.8,285.1 181,285.3 182.2,285.5 183.4,285.7 184.6,285.9 185.8,286.2 187,286.4 188.2,286.6 189.4,286.8 190.6,287.1 191.8,287.3 193,287.6 194.2,287.8 195.4,288.1 196.6,288.4 197.8,288.7 199,288.9 200.2,289.2 201.4,289.5 202.6,289.8 203.8,290.1 205,290.5 206.2,290.8 207.4,291.1 208.6,291.5 209.8,291.8 211,292.2 212.2,292.6 213.4,293 214.6,293.4 215.8,293.8 217,294.2 218.2,294.7 219.4,295.1 220.6,295.6 221.8,296.1 223,296.5 224.2,297.1 225.4,297.6 226.6,298.1 227.8,298.7 229,299.3 230.2,299.9 231.4,300.5 232.6,301.2 233.8,301.8 235,302.5 236.2,303.3 237.4,304 238.6,304.8 239.8,305.6 241,306.5 242.2,307.4 243.4,308.3 244.6,309.3 245.8,310.3 247,311.3 248.2,312.4 249.4,313.6 250.6,314.8 251.8,316.1 253,317.4 254.2,318.8 255.4,320.3 256.6,321.9 257.8,323.5 259,325.3 260.2,327.1 261.4,329.1 262.6,331.1 263.8,333.4 265,335.7 266.2,338.2 267.4,340.9 268.6,343.8 269.8,346.9 271,350.2 272.2,353.7 273.4,357.6 274.6,361.7 275.8,366.2 277,371.1 278.2,376.4 279.4,382.1 280.6,388.4 281.8,395.3 283,402.9 284.2,411.2 285.4,420.4 286.6,430.5 287.8,441.6 289,453.9 290.2,467.5 291.4,482.5 292.6,499 293.8,517.1 295,536.8 296.2,558.1 297.4,580.8 298.6,604.6 299.8,628.9 301,653.1 302.2,676.2 303.4,696.8 304.6,713.7 305.8,725.8 307,732.1 308.2,732.3 309.4,726.6 310.6,715.7 311.8,700.6 313,682.8 314.2,663.4 315.4,643.5 316.6,624.1 317.8,605.7 319,588.8 320.2,573.5 321.4,559.9 322.6,548.1 323.8,538 325,529.6 326.2,522.7 327.4,517.1 328.6,512.9 329.8,510 331,508.1 332.2,507.3 333.4,507.6 334.6,508.7 335.8,510.8 337,513.6 338.2,517.3 339.4,521.8 340.6,527 341.8,532.8 343,539.4 344.2,546.5 345.4,554.3 346.6,562.6 347.8,571.3 349,580.5 350.2,590 351.4,599.7 352.6,609.6 353.8,619.4 355,629.1 356.2,638.5 357.4,647.4 358.6,655.7 359.8,663.2 361,669.6 362.2,675 363.4,679 364.6,681.6 365.8,682.7 367,682.2 368.2,680.2 369.4,676.7 370.6,671.7 371.8,665.4 373,657.9 374.2,649.3 375.4,639.8 376.6,629.5 377.8,618.7 379,607.5 380.2,596.1 381.4,584.5 382.6,572.9 383.8,561.4 385,550.1 386.2,539 387.4,528.3 388.6,517.9 389.8,507.8 391,498.2 392.2,489 393.4,480.2 394.6,471.8 395.8,463.8 397,456.2 398.2,449 399.4,442.2 400.6,435.7 401.8,429.6 403,423.8 404.2,418.3 405.4,413.1 406.6,408.3 407.8,403.6 409,399.2 410.2,395.1 411.4,391.2 412.6,387.5 413.8,384 415,380.7 416.2,377.6 417.4,374.7 418.6,371.9 419.8,369.2 421,366.7 422.2,364.4 423.4,362.1 424.6,360 425.8,358 427,356.2 428.2,354.4 429.4,352.7 430.6,351.1 431.8,349.6 433,348.2 434.2,346.8 435.4,345.6 436.6,344.4 437.8,343.3 439,342.2 440.2,341.3 441.4,340.3 442.6,339.5 443.8,338.7 445,337.9 446.2,337.3 447.4,336.6 448.6,336 449.8,335.5 451,335 452.2,334.6 453.4,334.2 454.6,333.8 455.8,333.5 457,333.2 458.2,333 459.4,332.8 460.6,332.7 461.8,332.6 463,332.6 464.2,332.6 465.4,332.6 466.6,332.7 467.8,332.8 469,333 470.2,333.2 471.4,333.4 472.6,333.7 473.8,334 475,334.4 476.2,334.9 477.4,335.4 478.6,335.9 479.8,336.5 481,337.2 482.2,337.9 483.4,338.6 484.6,339.5 485.8,340.4 487,341.4 488.2,342.4 489.4,343.5 490.6,344.7 491.8,346 493,347.4 494.2,348.9 495.4,350.5 496.6,352.2 497.8,354 499,355.9 500.2,358 501.4,360.2 502.6,362.6 503.8,365.2 505,367.9 506.2,370.9 507.4,374 508.6,377.4 509.8,381 511,385 512.2,389.2 513.4,393.7 514.6,398.6 515.8,403.8 517,409.5 518.2,415.6 519.4,422.2 520.6,429.2 521.8,436.9 523,445.1 524.2,453.9 525.4,463.3 526.6,473.4 527.8,484.1 529,495.5 530.2,507.4 531.4,519.8 532.6,532.7 533.8,545.8 535,558.9 536.2,571.8 537.4,584.1 538.6,595.6 539.8,605.9 541,614.6 542.2,621.5 543.4,626.3 544.6,628.9 545.8,629.4 547,627.8 548.2,624.4 549.4,619.4 550.6,613.3 551.8,606.5 553,599.2 554.2,591.8 555.4,584.6 556.6,577.9 557.8,571.7 559,566.3 560.2,561.8 561.4,558.1 562.6,555.4 563.8,553.7 565,552.9 566.2,553.1 567.4,554.3 568.6,556.4 569.8,559.4 571,563.2 572.2,567.8 573.4,573.1 574.6,579 575.8,585.5 577,592.4 578.2,599.6 579.4,606.8 580.6,614 581.8,620.9 583,627.3 584.2,633.1 585.4,637.8 586.6,641.5 587.8,643.9 589,644.8 590.2,644.1 591.4,642 592.6,638.2 593.8,633 595,626.4 596.2,618.6 597.4,609.8 598.6,600.2 599.8,589.9 601,579.2 602.2,568.3 603.4,557.3 604.6,546.3 605.8,535.5 607,524.9 608.2,514.7 609.4,504.8 610.6,495.4 611.8,486.4 613,477.8 614.2,469.7 615.4,462.1 616.6,454.9 617.8,448.1 619,441.7 620.2,435.7 621.4,430.1 622.6,424.9 623.8,419.9 625,415.3 626.2,411 627.4,407 628.6,403.2 629.8,399.7 631,396.4 632.2,393.3 633.4,390.4 634.6,387.7 635.8,385.2 637,382.9 638.2,380.7 639.4,378.6 640.6,376.7 641.8,375 643,373.3 644.2,371.8 645.4,370.3 646.6,369 647.8,367.8 649,366.6 650.2,365.6 651.4,364.6 652.6,363.7 653.8,362.9 655,362.2 656.2,361.5 657.4,360.9 658.6,360.4 659.8,359.9 661,359.4 662.2,359.1 663.4,358.7 664.6,358.5 665.8,358.3 667,358.1 668.2,358 669.4,357.9 670.6,357.9 671.8,357.9 673,357.9 674.2,358 675.4,358.2 676.6,358.3 677.8,358.5 679,358.8 680.2,359.1 681.4,359.4 682.6,359.8 683.8,360.2 685,360.6 686.2,361.1 687.4,361.6 688.6,362.2 689.8,362.8 691,363.4 692.2,364 693.4,364.7 694.6,365.5 695.8,366.3 697,367.1 698.2,367.9 699.4,368.8 700.6,369.8 701.8,370.7 703,371.8 704.2,372.8 705.4,373.9 706.6,375.1 707.8,376.3 709,377.5 710.2,378.8 711.4,380.1 712.6,381.5 713.8,383 715,384.5 716.2,386 717.4,387.6 718.6,389.3 719.8,391 721,392.8 722.2,394.7 723.4,396.6 724.6,398.6 725.8,400.7 727,402.8 728.2,405.1 729.4,407.4 730.6,409.8 731.8,412.3 733,414.9 734.2,417.6 735.4,420.4 736.6,423.4 737.8,426.4 739,429.6 740.2,433 741.4,436.4 742.6,440.1 743.8,443.9 745,447.9 746.2,452 747.4,456.4 748.6,461 749.8,465.9 751,471 752.2,476.4 753.4,482.1 754.6,488.1 755.8,494.5 757,501.3 758.2,508.6 759.4,516.3 760.6,524.6 761.8,533.4 763,542.9 764.2,552.9 765.4,563.7 766.6,575.2 767.8,587.3 769,600.1 770.2,613.3 771.4,627 772.6,640.7 773.8,654.2 775,667.1 776.2,679.1 777.4,689.8 778.6,699 779.8,706.7 781,712.9 782.2,718.1 783.4,722.5 784.6,726.5 785.8,730.6 787,735.1 788.2,740.1 789.4,745.9 790.6,752.6 791.8,760.1 793,768.5 794.2,777.7 795.4,787.8 796.6,798.6 797.8,810.1 799,822.2 800.2,834.8 801.4,847.7 802.6,860.9 803.8,874.3 805,887.7 806.2,901.2 807.4,914.4 808.6,927.4 809.8,940.1 811,952.3 812.2,964 813.4,975.2 814.6,985.8 815.8,995.7 817,1005 818.2,1013.5 819.4,1021.3 820.6,1028.3 821.8,1034.6 823,1039.9 824.2,1044.4 825.4,1048 826.6,1050.6 827.8,1052.2 829,1052.7 830.2,1052.2 831.4,1050.6 832.6,1048 833.8,1044.4 835,1039.7 836.2,1034.1 837.4,1027.7 838.6,1020.5 839.8,1012.5 841,1003.9 842.2,994.8 843.4,985.3 844.6,975.4 845.8,965.3 847,954.9 848.2,944.5 849.4,934 850.6,923.6 851.8,913.2 853,903 854.2,892.9 855.4,883.1 856.6,873.5 857.8,864.2 859,855.3 860.2,846.6 861.4,838.4 862.6,830.5 863.8,823.1 865,816 866.2,809.4 867.4,803.2 868.6,797.5 869.8,792.3 871,787.5 872.2,783.2 873.4,779.4 874.6,776.1 875.8,773.3 877,771.1 878.2,769.4 879.4,768.1 880.6,767.5 881.8,767.3 883,767.7 884.2,768.6 885.4,770 886.6,771.9 887.8,774.3 889,777.1 890.2,780.4 891.4,784.1 892.6,788.2 893.8,792.5 895,797.1 896.2,801.9 897.4,806.8 898.6,811.7 899.8,816.5 901,821.1 902.2,825.4 903.4,829.3 904.6,832.8 905.8,835.7 907,837.9 908.2,839.4 909.4,840.1 910.6,840.1 911.8,839.2 913,837.6 914.2,835.3 915.4,832.3 916.6,828.8 917.8,824.8 919,820.4 920.2,815.7 921.4,810.9 922.6,806 923.8,801.1 925,796.4 926.2,791.9 927.4,787.8 928.6,784 929.8,780.6 931,777.8 932.2,775.6 933.4,773.9 934.6,773 935.8,772.7 937,773.2 938.2,774.5 939.4,776.6 940.6,779.7 941.8,783.7 943,788.6 944.2,794.6 945.4,801.5 946.6,809.5 947.8,818.3 949,827.8 950.2,837.8 951.4,847.8 952.6,857.5 953.8,866.2 955,873.6 956.2,879.2 957.4,883.2 958.6,885.6 959.8,886.8 961,887.3 962.2,887.4 963.4,887.5 964.6,887.8 965.8,888.5 967,889.5 968.2,890.8 969.4,892.2 970.6,893.8 971.8,895.3 973,896.7 974.2,897.6 975.4,898.2 976.6,898.2 977.8,897.5 979,896.1 980.2,894 981.4,891 982.6,887.3 983.8,882.8 985,877.5 986.2,871.5 987.4,864.8 988.6,857.5 989.8,849.7 991,841.5 992.2,832.8 993.4,823.8 994.6,814.5 995.8,805 997,795.4 998.2,785.6 999.4,775.8 1000.6,765.9 1001.8,756 1003,746.2 1004.2,736.3 1005.4,726.6 1006.6,716.9 1007.8,707.4 1009,697.9 1010.2,688.6 1011.4,679.4 1012.6,670.4 1013.8,661.5 1015,652.8 1016.2,644.3 1017.4,635.9 1018.6,627.7 1019.8,619.7 1021,611.8 1022.2,604.1 1023.4,596.7 1024.6,589.4 1025.8,582.2 1027,575.3 1028.2,568.5 1029.4,562 1030.6,555.5 1031.8,549.3 1033,543.2 1034.2,537.3 1035.4,531.6 1036.6,526 1037.8,520.6 1039,515.4 1040.2,510.3 1041.4,505.3 1042.6,500.5 1043.8,495.8 1045,491.3 1046.2,486.9 1047.4,482.6 1048.6,478.5 1049.8,474.5 1051,470.6 1052.2,466.8 1053.4,463.2 1054.6,459.6 1055.8,456.2 1057,452.8 1058.2,449.6 1059.4,446.5 1060.6,443.5 1061.8,440.5 1063,437.7 1064.2,435 1065.4,432.3 1066.6,429.7 1067.8,427.2 1069,424.8 1070.2,422.5 1071.4,420.2 1072.6,418.1 1073.8,416 1075,413.9 1076.2,412 1077.4,410.1 1078.6,408.3 1079.8,406.5 1081,404.8 1082.2,403.2 1083.4,401.6 1084.6,400.1 1085.8,398.7 1087,397.3 1088.2,395.9 1089.4,394.7 1090.6,393.5 1091.8,392.3 1093,391.2 1094.2,390.1 1095.4,389.1 1096.6,388.2 1097.8,387.3 1099,386.5 1100.2,385.7 1101.4,385 1102.6,384.3 1103.8,383.7 1105,383.2 1106.2,382.7 1107.4,382.2 1108.6,381.8 1109.8,381.5 1111,381.2 1112.2,381 1113.4,380.8 1114.6,380.7 1115.8,380.7 1117,380.7 1118.2,380.8 1119.4,381 1120.6,381.2 1121.8,381.6 1123,381.9 1124.2,382.4 1125.4,382.9 1126.6,383.6 1127.8,384.3 1129,385.1 1130.2,386 1131.4,387 1132.6,388.2 1133.8,389.4 1135,390.8 1136.2,392.2 1137.4,393.8 1138.6,395.6 1139.8,397.5 1141,399.6 1142.2,401.8 1143.4,404.3 1144.6,406.9 1145.8,409.7 1147,412.8 1148.2,416.1 1149.4,419.6 1150.6,423.5 1151.8,427.6 1153,432.1 1154.2,436.9 1155.4,442.1 1156.6,447.7 1157.8,453.8 1159,460.4 1160.2,467.5 1161.4,475.1 1162.6,483.4 1163.8,492.3 1165,502 1166.2,512.5 1167.4,523.8 1168.6,536 1169.8,549.1 1171,563.3 1172.2,578.5 1173.4,594.8 1174.6,612.2 1175.8,630.7 1177,650.2 1178.2,670.6 1179.4,691.8 1180.6,713.4 1181.8,735.3 1183,756.9 1184.2,777.8 1185.4,797.5 1186.6,815.4 1187.8,831.1 1189,844 1190.2,853.8 1191.4,860.4 1192.6,863.6 1193.8,863.6 1195,860.5 1196.2,854.6 1197.4,846.1 1198.6,835.4 1199.8,822.8 1201,808.4 1202.2,792.7 1203.4,775.9 1204.6,758.2 1205.8,740 1207,721.4 1208.2,702.7 1209.4,684 1210.6,665.6 1211.8,647.5 1213,630 1214.2,613.1 1215.4,596.8 1216.6,581.3 1217.8,566.5 1219,552.4 1220.2,539.1 1221.4,526.6 1222.6,514.8 1223.8,503.6 1225,493.2 1226.2,483.4 1227.4,474.1 1228.6,465.5 1229.8,457.4 1231,449.8 1232.2,442.6 1233.4,435.9 1234.6,429.6 1235.8,423.7 1237,418.2 1238.2,413 1239.4,408.1 1240.6,403.5 1241.8,399.2 1243,395.1 1244.2,391.2 1245.4,387.6 1246.6,384.2 1247.8,381 1249,377.9 1250.2,375 1251.4,372.3 1252.6,369.7 1253.8,367.3 1255,365 1256.2,362.8 1257.4,360.7 1258.6,358.8 1259.8,356.9 1261,355.1 1262.2,353.5 1263.4,351.9 1264.6,350.4 1265.8,348.9 1267,347.6 1268.2,346.3 1269.4,345.1 1270.6,343.9 1271.8,342.8 1273,341.8 1274.2,340.8 1275.4,339.9 1276.6,339 1277.8,338.2 1279,337.4 1280.2,336.7 1281.4,336 1282.6,335.3 1283.8,334.7 1285,334.1 1286.2,333.6 1287.4,333.1 1288.6,332.6 1289.8,332.2 1291,331.8 1292.2,331.4 1293.4,331.1 1294.6,330.8 1295.8,330.5 1297,330.3 1298.2,330.1 1299.4,329.9 1300.6,329.7 1301.8,329.6 1303,329.5 1304.2,329.5 1305.4,329.4 1306.6,329.4 1307.8,329.5 1309,329.5 1310.2,329.6 1311.4,329.7 1312.6,329.9 1313.8,330.1 1315,330.3 1316.2,330.5 1317.4,330.8 1318.6,331.1 1319.8,331.4 1321,331.8 1322.2,332.2 1323.4,332.7 1324.6,333.2 1325.8,333.7 1327,334.2 1328.2,334.8 1329.4,335.5 1330.6,336.2 1331.8,336.9 1333,337.6 1334.2,338.5 1335.4,339.3 1336.6,340.3 1337.8,341.2 1339,342.3 1340.2,343.4 1341.4,344.5 1342.6,345.7 1343.8,347 1345,348.3 1346.2,349.8 1347.4,351.3 1348.6,352.9 1349.8,354.5 1351,356.3 1352.2,358.1 1353.4,360.1 1354.6,362.2 1355.8,364.3 1357,366.6 1358.2,369 1359.4,371.6 1360.6,374.3 1361.8,377.1 1363,380.1 1364.2,383.3 1365.4,386.7 1366.6,390.2 1367.8,394 1369,397.9 1370.2,402.1 1371.4,406.6 1372.6,411.3 1373.8,416.3 1375,421.6 1376.2,427.2 1377.4,433.2 1378.6,439.6 1379.8,446.3 1381,453.5 1382.2,461.1 1383.4,469.2 1384.6,477.9 1385.8,487.1 1387,496.8 1388.2,507.3 1389.4,518.3 1390.6,530.1 1391.8,542.7 1393,556 1394.2,570.1 1395.4,585.2 1396.6,601 1397.8,617.9 1399,635.6 1400.2,654.2 1401.4,673.8 1402.6,694.2 1403.8,715.4 1405,737.3 1406.2,759.9 1407.4,782.9 1408.6,806.2 1409.8,829.6 1411,853 1412.2,876 1413.4,898.6 1414.6,920.8 1415.8,942.7 1417,964.4 1418.2,986.3 1419.4,1008.2 1420.6,1027.9 1421.8,1040.2 1423,1038.4 1424.2,1020.9 1425.4,993.3 1426.6,962.4 1427.8,931.9 1429,902.6 1430.2,874.7 1431.4,847.7 1432.6,821.5 1433.8,796 1435,771.3 1436.2,747.3 1437.4,724.1 1438.6,701.8 1439.8,680.4 1441,659.9 1442.2,640.4 1443.4,621.9 1444.6,604.3 1445.8,587.7 1447,572 1448.2,557.3 1449.4,543.3 1450.6,530.2 1451.8,517.9 1453,506.2 1454.2,495.3 1455.4,485 1456.6,475.4 1457.8,466.3 1459,457.7 1460.2,449.7 1461.4,442.1 1462.6,434.9 1463.8,428.2 1465,421.9 1466.2,415.9 1467.4,410.2 1468.6,404.8 1469.8,399.8 1471,395 1472.2,390.4 1473.4,386.1 1474.6,382 1475.8,378.2 1477,374.5 1478.2,371 1479.4,367.7 1480.6,364.5 1481.8,361.5 1483,358.6 1484.2,355.9 1485.4,353.3 1486.6,350.8 1487.8,348.4 1489,346.1 1490.2,343.9 1491.4,341.9 1492.6,339.9 1493.8,338 1495,336.1 1496.2,334.4 1497.4,332.7 1498.6,331.1 1499.8,329.5 1501,328 1502.2,326.6 1503.4,325.2 1504.6,323.9 1505.8,322.6 1507,321.4 1508.2,320.2 1509.4,319 1510.6,317.9 1511.8,316.8 1513,315.8 1514.2,314.8 1515.4,313.9 1516.6,312.9 1517.8,312 1519,311.2 1520.2,310.3 1521.4,309.5 1522.6,308.7 1523.8,307.9 1525,307.2 1526.2,306.5 1527.4,305.8 1528.6,305.1 1529.8,304.4 1531,303.8 1532.2,303.2 1533.4,302.6 1534.6,302 1535.8,301.4 1537,300.9 1538.2,300.3 1539.4,299.8 1540.6,299.3 1541.8,298.8 1543,298.3 1544.2,297.9 1545.4,297.4 1546.6,297 1547.8,296.5 1549,296.1 1550.2,295.7 1551.4,295.3 1552.6,294.9 1553.8,294.5 1555,294.1 1556.2,293.8 1557.4,293.4 1558.6,293.1 1559.8,292.7 1561,292.4 1562.2,292.1 1563.4,291.7 1564.6,291.4 1565.8,291.1 1567,290.8 1568.2,290.5 1569.4,290.3 1570.6,290 1571.8,289.7" fill="none" stroke="#ff1a1a" stroke-width="2.3" stroke-linejoin="round"/>
<polyline points="127.7,269.1 131.3,269.2 134.9,269.3 138.6,269.4 142.2,269.5 145.8,269.6 149.4,269.8 153.1,269.9 156.7,270 160.3,270.2 164,270.3 167.6,270.5 171.2,270.7 174.8,270.9 178.5,271.1 182.1,271.4 185.7,271.6 189.4,271.9 193,272.2 196.6,272.6 200.3,272.9 203.9,273.3 207.5,273.8 211.1,274.3 214.8,274.9 218.4,275.5 222,276.2 225.7,277 229.3,277.9 232.9,278.9 236.6,280.1 240.2,281.5 243.8,283.1 247.4,285 251.1,287.3 254.7,290 258.3,293.3 262,297.3 265.6,302.3 269.2,308.6 272.9,316.8 276.5,327.4 280.1,341.6 283.8,360.9 287.4,387.6 291,424.9 294.6,476.3 298.3,542.7 301.9,613.8 305.5,659.1 309.2,647.5 312.8,588.1 316.4,516.4 320,455.4 323.7,409.7 327.3,376.9 330.9,353.4 334.6,336.4 338.2,323.8 341.8,314.3 345.5,307 349.1,301.4 352.7,296.9 356.4,293.3 360,290.3 363.6,287.9 367.2,285.9 370.9,284.3 374.5,282.9 378.1,281.7 381.8,280.8 385.4,279.9 389,279.2 392.6,278.6 396.3,278.1 399.9,277.7 403.5,277.4 407.2,277.1 410.8,277 414.4,276.8 418.1,276.7 421.7,276.7 425.3,276.7 428.9,276.8 432.6,277 436.2,277.1 439.8,277.4 443.5,277.7 447.1,278.1 450.7,278.5 454.4,279.1 458,279.7 461.6,280.5 465.2,281.3 468.9,282.3 472.5,283.5 476.1,284.9 479.8,286.5 483.4,288.4 487,290.7 490.7,293.4 494.3,296.7 497.9,300.6 501.5,305.5 505.2,311.5 508.8,319 512.4,328.5 516.1,340.7 519.7,356.3 523.3,376.4 527,401.9 530.6,433.4 534.2,469.4 537.9,504.2 541.5,528 545.1,530.8 548.7,511.2 552.4,477.8 556,441.5 559.6,408.6 563.3,381.6 566.9,360.3 570.5,343.7 574.1,330.8 577.8,320.7 581.4,312.7 585,306.4 588.7,301.2 592.3,297 595.9,293.6 599.6,290.7 603.2,288.3 606.8,286.2 610.4,284.5 614.1,283 617.7,281.7 621.3,280.6 625,279.6 628.6,278.8 632.2,278.1 635.9,277.4 639.5,276.9 643.1,276.4 646.8,275.9 650.4,275.6 654,275.2 657.6,274.9 661.3,274.7 664.9,274.5 668.5,274.3 672.2,274.2 675.8,274.1 679.4,274.1 683,274 686.7,274 690.3,274.1 693.9,274.2 697.6,274.3 701.2,274.5 704.8,274.8 708.5,275.1 712.1,275.5 715.7,276 719.3,276.6 723,277.3 726.6,278.2 730.2,279.4 733.9,280.8 737.5,282.6 741.1,284.8 744.8,287.8 748.4,291.6 752,296.8 755.6,303.7 759.3,313.3 762.9,326.4 766.5,344 770.2,365.6 773.8,386.8 777.4,398.1 781.1,391.9 784.7,372.5 788.3,350.3 791.9,331.3 795.6,316.8 799.2,306.3 802.8,298.6 806.5,292.9 810.1,288.7 813.7,285.5 817.4,283.1 821,281.1 824.6,279.6 828.2,278.4 831.9,277.4 835.5,276.6 839.1,276 842.8,275.5 846.4,275 850,274.7 853.7,274.5 857.3,274.3 860.9,274.2 864.5,274.1 868.2,274.1 871.8,274.1 875.4,274.2 879.1,274.4 882.7,274.6 886.3,274.9 890,275.3 893.6,275.8 897.2,276.4 900.8,277.1 904.5,278 908.1,279.2 911.7,280.6 915.4,282.3 919,284.6 922.6,287.5 926.3,291.3 929.9,296.4 933.5,303.3 937.1,312.7 940.8,325.6 944.4,343 948,364.5 951.7,386.2 955.3,398.5 958.9,393.5 962.6,374.7 966.2,352.3 969.8,332.8 973.4,318 977.1,307.2 980.7,299.3 984.3,293.5 988,289.2 991.6,285.9 995.2,283.4 998.9,281.4 1002.5,279.9 1006.1,278.7 1009.7,277.7 1013.4,276.9 1017,276.2 1020.6,275.7 1024.3,275.2 1027.9,274.9 1031.5,274.6 1035.2,274.4 1038.8,274.2 1042.4,274.1 1046,274 1049.7,274 1053.3,274 1056.9,274 1060.6,274.1 1064.2,274.2 1067.8,274.4 1071.5,274.5 1075.1,274.7 1078.7,275 1082.3,275.3 1086,275.6 1089.6,276 1093.2,276.5 1096.9,277 1100.5,277.6 1104.1,278.3 1107.8,279 1111.4,279.9 1115,280.9 1118.7,282.1 1122.3,283.4 1125.9,285 1129.5,286.8 1133.2,289 1136.8,291.5 1140.4,294.6 1144.1,298.2 1147.7,302.7 1151.3,308.2 1155,315 1158.6,323.5 1162.2,334.4 1165.8,348.3 1169.5,366.3 1173.1,389.2 1176.7,418.1 1180.4,452.3 1184,488.6 1187.6,518.8 1191.2,531.9 1194.9,521.9 1198.5,493.5 1202.1,457.5 1205.8,422.6 1209.4,393 1213,369.3 1216.7,350.8 1220.3,336.4 1223.9,325.2 1227.5,316.4 1231.2,309.5 1234.8,303.9 1238.4,299.3 1242.1,295.6 1245.7,292.5 1249.3,290 1253,287.9 1256.6,286.1 1260.2,284.5 1263.9,283.2 1267.5,282.1 1271.1,281.2 1274.7,280.4 1278.4,279.7 1282,279.1 1285.6,278.6 1289.3,278.2 1292.9,277.8 1296.5,277.6 1300.2,277.4 1303.8,277.2 1307.4,277.1 1311,277.1 1314.7,277.1 1318.3,277.2 1321.9,277.4 1325.6,277.6 1329.2,277.9 1332.8,278.2 1336.5,278.7 1340.1,279.2 1343.7,279.8 1347.3,280.6 1351,281.5 1354.6,282.6 1358.2,283.8 1361.9,285.4 1365.5,287.2 1369.1,289.4 1372.8,292.1 1376.4,295.3 1380,299.4 1383.6,304.5 1387.3,311 1390.9,319.4 1394.5,330.4 1398.2,345.2 1401.8,365.5 1405.4,393.5 1409,432.8 1412.7,486.8 1416.3,555.3 1419.9,625.5 1423.6,664.5 1427.2,644.6 1430.8,580.6 1434.5,508.9 1438.1,449.4 1441.7,405.3 1445.4,373.6 1449,350.9 1452.6,334.3 1456.2,322 1459.9,312.7 1463.5,305.5 1467.1,299.9 1470.8,295.4 1474.4,291.7 1478,288.7 1481.7,286.3 1485.3,284.2 1488.9,282.4 1492.5,280.9 1496.2,279.6 1499.8,278.5 1503.4,277.5 1507.1,276.7 1510.7,275.9 1514.3,275.2 1518,274.6 1521.6,274.1 1525.2,273.6 1528.8,273.2 1532.5,272.8 1536.1,272.4 1539.7,272.1 1543.4,271.8 1547,271.5 1550.6,271.3 1554.2,271.1 1557.9,270.8 1561.5,270.7 1565.1,270.5 1568.8,270.3 1572.4,270.1" fill="none" stroke="#80ff80" stroke-width="2.5"/><path d="M122.2 274.1h11l-5.5 -10zM125.8 274.2h11l-5.5 -10zM129.4 274.3h11l-5.5 -10zM133.1 274.4h11l-5.5 -10zM136.7 274.5h11l-5.5 -10zM140.3 274.6h11l-5.5 -10zM143.9 274.8h11l-5.5 -10zM147.6 274.9h11l-5.5 -10zM151.2 275h11l-5.5 -10zM154.8 275.2h11l-5.5 -10zM158.5 275.3h11l-5.5 -10zM162.1 275.5h11l-5.5 -10zM165.7 275.7h11l-5.5 -10zM169.3 275.9h11l-5.5 -10zM173 276.1h11l-5.5 -10zM176.6 276.4h11l-5.5 -10zM180.2 276.6h11l-5.5 -10zM183.9 276.9h11l-5.5 -10zM187.5 277.2h11l-5.5 -10zM191.1 277.6h11l-5.5 -10zM194.8 277.9h11l-5.5 -10zM198.4 278.3h11l-5.5 -10zM202 278.8h11l-5.5 -10zM205.6 279.3h11l-5.5 -10zM209.3 279.9h11l-5.5 -10zM212.9 280.5h11l-5.5 -10zM216.5 281.2h11l-5.5 -10zM220.2 282h11l-5.5 -10zM223.8 282.9h11l-5.5 -10zM227.4 283.9h11l-5.5 -10zM231.1 285.1h11l-5.5 -10zM234.7 286.5h11l-5.5 -10zM238.3 288.1h11l-5.5 -10zM241.9 290h11l-5.5 -10zM245.6 292.3h11l-5.5 -10zM249.2 295h11l-5.5 -10zM252.8 298.3h11l-5.5 -10zM256.5 302.3h11l-5.5 -10zM260.1 307.3h11l-5.5 -10zM263.7 313.6h11l-5.5 -10zM267.4 321.8h11l-5.5 -10zM271 332.4h11l-5.5 -10zM274.6 346.6h11l-5.5 -10zM278.2 365.9h11l-5.5 -10zM281.9 392.6h11l-5.5 -10zM285.5 429.9h11l-5.5 -10zM289.1 481.3h11l-5.5 -10zM292.8 547.7h11l-5.5 -10zM296.4 618.8h11l-5.5 -10zM300 664.1h11l-5.5 -10zM303.7 652.5h11l-5.5 -10zM307.3 593.1h11l-5.5 -10zM310.9 521.4h11l-5.5 -10zM314.5 460.4h11l-5.5 -10zM318.2 414.7h11l-5.5 -10zM321.8 381.9h11l-5.5 -10zM325.4 358.4h11l-5.5 -10zM329.1 341.4h11l-5.5 -10zM332.7 328.8h11l-5.5 -10zM336.3 319.3h11l-5.5 -10zM340 312h11l-5.5 -10zM343.6 306.4h11l-5.5 -10zM347.2 301.9h11l-5.5 -10zM350.9 298.3h11l-5.5 -10zM354.5 295.3h11l-5.5 -10zM358.1 292.9h11l-5.5 -10zM361.7 290.9h11l-5.5 -10zM365.4 289.3h11l-5.5 -10zM369 287.9h11l-5.5 -10zM372.6 286.7h11l-5.5 -10zM376.3 285.8h11l-5.5 -10zM379.9 284.9h11l-5.5 -10zM383.5 284.2h11l-5.5 -10zM387.1 283.6h11l-5.5 -10zM390.8 283.1h11l-5.5 -10zM394.4 282.7h11l-5.5 -10zM398 282.4h11l-5.5 -10zM401.7 282.1h11l-5.5 -10zM405.3 282h11l-5.5 -10zM408.9 281.8h11l-5.5 -10zM412.6 281.7h11l-5.5 -10zM416.2 281.7h11l-5.5 -10zM419.8 281.7h11l-5.5 -10zM423.4 281.8h11l-5.5 -10zM427.1 282h11l-5.5 -10zM430.7 282.1h11l-5.5 -10zM434.3 282.4h11l-5.5 -10zM438 282.7h11l-5.5 -10zM441.6 283.1h11l-5.5 -10zM445.2 283.5h11l-5.5 -10zM448.9 284.1h11l-5.5 -10zM452.5 284.7h11l-5.5 -10zM456.1 285.5h11l-5.5 -10zM459.8 286.3h11l-5.5 -10zM463.4 287.3h11l-5.5 -10zM467 288.5h11l-5.5 -10zM470.6 289.9h11l-5.5 -10zM474.3 291.5h11l-5.5 -10zM477.9 293.4h11l-5.5 -10zM481.5 295.7h11l-5.5 -10zM485.2 298.4h11l-5.5 -10zM488.8 301.7h11l-5.5 -10zM492.4 305.6h11l-5.5 -10zM496 310.5h11l-5.5 -10zM499.7 316.5h11l-5.5 -10zM503.3 324h11l-5.5 -10zM506.9 333.5h11l-5.5 -10zM510.6 345.7h11l-5.5 -10zM514.2 361.3h11l-5.5 -10zM517.8 381.4h11l-5.5 -10zM521.5 406.9h11l-5.5 -10zM525.1 438.4h11l-5.5 -10zM528.7 474.4h11l-5.5 -10zM532.4 509.2h11l-5.5 -10zM536 533h11l-5.5 -10zM539.6 535.8h11l-5.5 -10zM543.2 516.2h11l-5.5 -10zM546.9 482.8h11l-5.5 -10zM550.5 446.5h11l-5.5 -10zM554.1 413.6h11l-5.5 -10zM557.8 386.6h11l-5.5 -10zM561.4 365.3h11l-5.5 -10zM565 348.7h11l-5.5 -10zM568.6 335.8h11l-5.5 -10zM572.3 325.7h11l-5.5 -10zM575.9 317.7h11l-5.5 -10zM579.5 311.4h11l-5.5 -10zM583.2 306.2h11l-5.5 -10zM586.8 302h11l-5.5 -10zM590.4 298.6h11l-5.5 -10zM594.1 295.7h11l-5.5 -10zM597.7 293.3h11l-5.5 -10zM601.3 291.2h11l-5.5 -10zM604.9 289.5h11l-5.5 -10zM608.6 288h11l-5.5 -10zM612.2 286.7h11l-5.5 -10zM615.8 285.6h11l-5.5 -10zM619.5 284.6h11l-5.5 -10zM623.1 283.8h11l-5.5 -10zM626.7 283.1h11l-5.5 -10zM630.4 282.4h11l-5.5 -10zM634 281.9h11l-5.5 -10zM637.6 281.4h11l-5.5 -10zM641.2 280.9h11l-5.5 -10zM644.9 280.6h11l-5.5 -10zM648.5 280.2h11l-5.5 -10zM652.1 279.9h11l-5.5 -10zM655.8 279.7h11l-5.5 -10zM659.4 279.5h11l-5.5 -10zM663 279.3h11l-5.5 -10zM666.7 279.2h11l-5.5 -10zM670.3 279.1h11l-5.5 -10zM673.9 279.1h11l-5.5 -10zM677.5 279h11l-5.5 -10zM681.2 279h11l-5.5 -10zM684.8 279.1h11l-5.5 -10zM688.4 279.2h11l-5.5 -10zM692.1 279.3h11l-5.5 -10zM695.7 279.5h11l-5.5 -10zM699.3 279.8h11l-5.5 -10zM703 280.1h11l-5.5 -10zM706.6 280.5h11l-5.5 -10zM710.2 281h11l-5.5 -10zM713.8 281.6h11l-5.5 -10zM717.5 282.3h11l-5.5 -10zM721.1 283.2h11l-5.5 -10zM724.7 284.4h11l-5.5 -10zM728.4 285.8h11l-5.5 -10zM732 287.6h11l-5.5 -10zM735.6 289.8h11l-5.5 -10zM739.3 292.8h11l-5.5 -10zM742.9 296.6h11l-5.5 -10zM746.5 301.8h11l-5.5 -10zM750.1 308.7h11l-5.5 -10zM753.8 318.3h11l-5.5 -10zM757.4 331.4h11l-5.5 -10zM761 349h11l-5.5 -10zM764.7 370.6h11l-5.5 -10zM768.3 391.8h11l-5.5 -10zM771.9 403.1h11l-5.5 -10zM775.6 396.9h11l-5.5 -10zM779.2 377.5h11l-5.5 -10zM782.8 355.3h11l-5.5 -10zM786.4 336.3h11l-5.5 -10zM790.1 321.8h11l-5.5 -10zM793.7 311.3h11l-5.5 -10zM797.3 303.6h11l-5.5 -10zM801 297.9h11l-5.5 -10zM804.6 293.7h11l-5.5 -10zM808.2 290.5h11l-5.5 -10zM811.9 288.1h11l-5.5 -10zM815.5 286.1h11l-5.5 -10zM819.1 284.6h11l-5.5 -10zM822.8 283.4h11l-5.5 -10zM826.4 282.4h11l-5.5 -10zM830 281.6h11l-5.5 -10zM833.6 281h11l-5.5 -10zM837.3 280.5h11l-5.5 -10zM840.9 280h11l-5.5 -10zM844.5 279.7h11l-5.5 -10zM848.2 279.5h11l-5.5 -10zM851.8 279.3h11l-5.5 -10zM855.4 279.2h11l-5.5 -10zM859 279.1h11l-5.5 -10zM862.7 279.1h11l-5.5 -10zM866.3 279.1h11l-5.5 -10zM869.9 279.2h11l-5.5 -10zM873.6 279.4h11l-5.5 -10zM877.2 279.6h11l-5.5 -10zM880.8 279.9h11l-5.5 -10zM884.5 280.3h11l-5.5 -10zM888.1 280.8h11l-5.5 -10zM891.7 281.4h11l-5.5 -10zM895.3 282.1h11l-5.5 -10zM899 283h11l-5.5 -10zM902.6 284.2h11l-5.5 -10zM906.2 285.6h11l-5.5 -10zM909.9 287.3h11l-5.5 -10zM913.5 289.6h11l-5.5 -10zM917.1 292.5h11l-5.5 -10zM920.8 296.3h11l-5.5 -10zM924.4 301.4h11l-5.5 -10zM928 308.3h11l-5.5 -10zM931.6 317.7h11l-5.5 -10zM935.3 330.6h11l-5.5 -10zM938.9 348h11l-5.5 -10zM942.5 369.5h11l-5.5 -10zM946.2 391.2h11l-5.5 -10zM949.8 403.5h11l-5.5 -10zM953.4 398.5h11l-5.5 -10zM957.1 379.7h11l-5.5 -10zM960.7 357.3h11l-5.5 -10zM964.3 337.8h11l-5.5 -10zM967.9 323h11l-5.5 -10zM971.6 312.2h11l-5.5 -10zM975.2 304.3h11l-5.5 -10zM978.8 298.5h11l-5.5 -10zM982.5 294.2h11l-5.5 -10zM986.1 290.9h11l-5.5 -10zM989.7 288.4h11l-5.5 -10zM993.4 286.4h11l-5.5 -10zM997 284.9h11l-5.5 -10zM1000.6 283.7h11l-5.5 -10zM1004.2 282.7h11l-5.5 -10zM1007.9 281.9h11l-5.5 -10zM1011.5 281.2h11l-5.5 -10zM1015.1 280.7h11l-5.5 -10zM1018.8 280.2h11l-5.5 -10zM1022.4 279.9h11l-5.5 -10zM1026 279.6h11l-5.5 -10zM1029.7 279.4h11l-5.5 -10zM1033.3 279.2h11l-5.5 -10zM1036.9 279.1h11l-5.5 -10zM1040.5 279h11l-5.5 -10zM1044.2 279h11l-5.5 -10zM1047.8 279h11l-5.5 -10zM1051.4 279h11l-5.5 -10zM1055.1 279.1h11l-5.5 -10zM1058.7 279.2h11l-5.5 -10zM1062.3 279.4h11l-5.5 -10zM1066 279.5h11l-5.5 -10zM1069.6 279.7h11l-5.5 -10zM1073.2 280h11l-5.5 -10zM1076.8 280.3h11l-5.5 -10zM1080.5 280.6h11l-5.5 -10zM1084.1 281h11l-5.5 -10zM1087.7 281.5h11l-5.5 -10zM1091.4 282h11l-5.5 -10zM1095 282.6h11l-5.5 -10zM1098.6 283.3h11l-5.5 -10zM1102.3 284h11l-5.5 -10zM1105.9 284.9h11l-5.5 -10zM1109.5 285.9h11l-5.5 -10zM1113.2 287.1h11l-5.5 -10zM1116.8 288.4h11l-5.5 -10zM1120.4 290h11l-5.5 -10zM1124 291.8h11l-5.5 -10zM1127.7 294h11l-5.5 -10zM1131.3 296.5h11l-5.5 -10zM1134.9 299.6h11l-5.5 -10zM1138.6 303.2h11l-5.5 -10zM1142.2 307.7h11l-5.5 -10zM1145.8 313.2h11l-5.5 -10zM1149.5 320h11l-5.5 -10zM1153.1 328.5h11l-5.5 -10zM1156.7 339.4h11l-5.5 -10zM1160.3 353.3h11l-5.5 -10zM1164 371.3h11l-5.5 -10zM1167.6 394.2h11l-5.5 -10zM1171.2 423.1h11l-5.5 -10zM1174.9 457.3h11l-5.5 -10zM1178.5 493.6h11l-5.5 -10zM1182.1 523.8h11l-5.5 -10zM1185.8 536.9h11l-5.5 -10zM1189.4 526.9h11l-5.5 -10zM1193 498.5h11l-5.5 -10zM1196.6 462.5h11l-5.5 -10zM1200.3 427.6h11l-5.5 -10zM1203.9 398h11l-5.5 -10zM1207.5 374.3h11l-5.5 -10zM1211.2 355.8h11l-5.5 -10zM1214.8 341.4h11l-5.5 -10zM1218.4 330.2h11l-5.5 -10zM1222 321.4h11l-5.5 -10zM1225.7 314.5h11l-5.5 -10zM1229.3 308.9h11l-5.5 -10zM1232.9 304.3h11l-5.5 -10zM1236.6 300.6h11l-5.5 -10zM1240.2 297.5h11l-5.5 -10zM1243.8 295h11l-5.5 -10zM1247.5 292.9h11l-5.5 -10zM1251.1 291.1h11l-5.5 -10zM1254.7 289.5h11l-5.5 -10zM1258.4 288.2h11l-5.5 -10zM1262 287.1h11l-5.5 -10zM1265.6 286.2h11l-5.5 -10zM1269.2 285.4h11l-5.5 -10zM1272.9 284.7h11l-5.5 -10zM1276.5 284.1h11l-5.5 -10zM1280.1 283.6h11l-5.5 -10zM1283.8 283.2h11l-5.5 -10zM1287.4 282.8h11l-5.5 -10zM1291 282.6h11l-5.5 -10zM1294.7 282.4h11l-5.5 -10zM1298.3 282.2h11l-5.5 -10zM1301.9 282.1h11l-5.5 -10zM1305.5 282.1h11l-5.5 -10zM1309.2 282.1h11l-5.5 -10zM1312.8 282.2h11l-5.5 -10zM1316.4 282.4h11l-5.5 -10zM1320.1 282.6h11l-5.5 -10zM1323.7 282.9h11l-5.5 -10zM1327.3 283.2h11l-5.5 -10zM1331 283.7h11l-5.5 -10zM1334.6 284.2h11l-5.5 -10zM1338.2 284.8h11l-5.5 -10zM1341.8 285.6h11l-5.5 -10zM1345.5 286.5h11l-5.5 -10zM1349.1 287.6h11l-5.5 -10zM1352.7 288.8h11l-5.5 -10zM1356.4 290.4h11l-5.5 -10zM1360 292.2h11l-5.5 -10zM1363.6 294.4h11l-5.5 -10zM1367.2 297.1h11l-5.5 -10zM1370.9 300.3h11l-5.5 -10zM1374.5 304.4h11l-5.5 -10zM1378.1 309.5h11l-5.5 -10zM1381.8 316h11l-5.5 -10zM1385.4 324.4h11l-5.5 -10zM1389 335.4h11l-5.5 -10zM1392.7 350.2h11l-5.5 -10zM1396.3 370.5h11l-5.5 -10zM1399.9 398.5h11l-5.5 -10zM1403.5 437.8h11l-5.5 -10zM1407.2 491.8h11l-5.5 -10zM1410.8 560.3h11l-5.5 -10zM1414.4 630.5h11l-5.5 -10zM1418.1 669.5h11l-5.5 -10zM1421.7 649.6h11l-5.5 -10zM1425.3 585.6h11l-5.5 -10zM1429 513.9h11l-5.5 -10zM1432.6 454.4h11l-5.5 -10zM1436.2 410.3h11l-5.5 -10zM1439.9 378.6h11l-5.5 -10zM1443.5 355.9h11l-5.5 -10zM1447.1 339.3h11l-5.5 -10zM1450.7 327h11l-5.5 -10zM1454.4 317.7h11l-5.5 -10zM1458 310.5h11l-5.5 -10zM1461.6 304.9h11l-5.5 -10zM1465.3 300.4h11l-5.5 -10zM1468.9 296.7h11l-5.5 -10zM1472.5 293.7h11l-5.5 -10zM1476.2 291.3h11l-5.5 -10zM1479.8 289.2h11l-5.5 -10zM1483.4 287.4h11l-5.5 -10zM1487 285.9h11l-5.5 -10zM1490.7 284.6h11l-5.5 -10zM1494.3 283.5h11l-5.5 -10zM1497.9 282.5h11l-5.5 -10zM1501.6 281.7h11l-5.5 -10zM1505.2 280.9h11l-5.5 -10zM1508.8 280.2h11l-5.5 -10zM1512.5 279.6h11l-5.5 -10zM1516.1 279.1h11l-5.5 -10zM1519.7 278.6h11l-5.5 -10zM1523.3 278.2h11l-5.5 -10zM1527 277.8h11l-5.5 -10zM1530.6 277.4h11l-5.5 -10zM1534.2 277.1h11l-5.5 -10zM1537.9 276.8h11l-5.5 -10zM1541.5 276.5h11l-5.5 -10zM1545.1 276.3h11l-5.5 -10zM1548.8 276.1h11l-5.5 -10zM1552.4 275.8h11l-5.5 -10zM1556 275.7h11l-5.5 -10zM1559.6 275.5h11l-5.5 -10zM1563.3 275.3h11l-5.5 -10zM1566.9 275.1h11l-5.5 -10z" fill="#00ff00"/>
<polyline points="127.7,272.5 131.3,272.6 134.9,272.8 138.6,273 142.2,273.1 145.8,273.3 149.4,273.5 153.1,273.8 156.7,274 160.3,274.2 164,274.5 167.6,274.7 171.2,275 174.8,275.3 178.5,275.6 182.1,275.9 185.7,276.2 189.4,276.6 193,276.9 196.6,277.3 200.3,277.8 203.9,278.2 207.5,278.7 211.1,279.2 214.8,279.8 218.4,280.3 222,281 225.7,281.6 229.3,282.3 232.9,283.1 236.6,283.9 240.2,284.8 243.8,285.8 247.4,286.9 251.1,288 254.7,289.3 258.3,290.6 262,292.1 265.6,293.8 269.2,295.6 272.9,297.6 276.5,299.8 280.1,302.2 283.8,305 287.4,308.1 291,311.5 294.6,315.4 298.3,319.8 301.9,324.9 305.5,330.6 309.2,337.2 312.8,344.8 316.4,353.6 320,363.9 323.7,375.8 327.3,389.8 330.9,406.2 334.6,425.4 338.2,447.7 341.8,473.3 345.5,502.3 349.1,534.1 352.7,567.3 356.4,599.2 360,626.3 363.6,644.5 367.2,650.3 370.9,642.6 374.5,623 378.1,595 381.8,562.9 385.4,530.1 389,498.9 392.6,470.6 396.3,445.7 399.9,424.2 403.5,405.8 407.2,390.1 410.8,376.7 414.4,365.3 418.1,355.6 421.7,347.3 425.3,340.2 428.9,334.1 432.6,328.8 436.2,324.2 439.8,320.3 443.5,316.9 447.1,313.9 450.7,311.3 454.4,309.1 458,307.2 461.6,305.6 465.2,304.2 468.9,303.1 472.5,302.2 476.1,301.5 479.8,300.9 483.4,300.6 487,300.4 490.7,300.5 494.3,300.7 497.9,301.1 501.5,301.7 505.2,302.6 508.8,303.7 512.4,305.1 516.1,306.7 519.7,308.8 523.3,311.2 527,314.1 530.6,317.6 534.2,321.7 537.9,326.6 541.5,332.5 545.1,339.5 548.7,348 552.4,358.1 556,370.4 559.6,385.3 563.3,403.2 566.9,424.5 570.5,449.6 574.1,478 577.8,508.5 581.4,538.2 585,562.5 588.7,576.4 592.3,576.3 595.9,562.1 599.6,537.4 603.2,507.5 606.8,476.7 610.4,448 614.1,422.6 617.7,401 621.3,382.8 625,367.6 628.6,355 632.2,344.5 635.9,335.7 639.5,328.3 643.1,322.1 646.8,316.7 650.4,312.2 654,308.3 657.6,304.9 661.3,302 664.9,299.5 668.5,297.2 672.2,295.3 675.8,293.6 679.4,292.1 683,290.7 686.7,289.5 690.3,288.5 693.9,287.6 697.6,286.8 701.2,286 704.8,285.4 708.5,284.9 712.1,284.5 715.7,284.1 719.3,283.8 723,283.6 726.6,283.5 730.2,283.4 733.9,283.4 737.5,283.6 741.1,283.8 744.8,284.1 748.4,284.6 752,285.2 755.6,286.1 759.3,287.1 762.9,288.4 766.5,290.1 770.2,292.2 773.8,294.8 777.4,298.2 781.1,302.6 784.7,308.3 788.3,315.8 791.9,325.6 795.6,338.2 799.2,353.8 802.8,371.5 806.5,388.2 810.1,398.1 813.7,396.6 817.4,384.4 821,367 824.6,349.4 828.2,334.4 831.9,322.4 835.5,313.2 839.1,306.1 842.8,300.6 846.4,296.4 850,293.1 853.7,290.5 857.3,288.4 860.9,286.7 864.5,285.4 868.2,284.3 871.8,283.4 875.4,282.7 879.1,282.2 882.7,281.8 886.3,281.5 890,281.4 893.6,281.3 897.2,281.3 900.8,281.5 904.5,281.7 908.1,282.1 911.7,282.6 915.4,283.2 919,284.1 922.6,285.1 926.3,286.3 929.9,287.9 933.5,289.9 937.1,292.4 940.8,295.5 944.4,299.5 948,304.6 951.7,311.2 955.3,319.9 958.9,331.1 962.6,345.4 966.2,362.5 969.8,380.4 973.4,394.5 977.1,399.1 980.7,391.8 984.3,376.3 988,358.3 991.6,342 995.2,328.6 998.9,318.1 1002.5,310.1 1006.1,304 1009.7,299.3 1013.4,295.6 1017,292.8 1020.6,290.6 1024.3,288.8 1027.9,287.4 1031.5,286.3 1035.2,285.4 1038.8,284.7 1042.4,284.2 1046,283.8 1049.7,283.6 1053.3,283.4 1056.9,283.4 1060.6,283.4 1064.2,283.5 1067.8,283.7 1071.5,283.9 1075.1,284.3 1078.7,284.7 1082.3,285.2 1086,285.7 1089.6,286.4 1093.2,287.2 1096.9,288 1100.5,289 1104.1,290.1 1107.8,291.4 1111.4,292.8 1115,294.4 1118.7,296.3 1122.3,298.4 1125.9,300.7 1129.5,303.5 1133.2,306.6 1136.8,310.2 1140.4,314.4 1144.1,319.3 1147.7,325 1151.3,331.8 1155,339.9 1158.6,349.4 1162.2,360.9 1165.8,374.7 1169.5,391.3 1173.1,411.1 1176.7,434.5 1180.4,461.6 1184,491.5 1187.6,522.3 1191.2,550.4 1194.9,570.5 1198.5,578.2 1202.1,571.3 1205.8,551.8 1209.4,524.3 1213,493.8 1216.7,464.1 1220.3,437.2 1223.9,414 1227.5,394.4 1231.2,378.1 1234.8,364.6 1238.4,353.4 1242.1,344.2 1245.7,336.5 1249.3,330.1 1253,324.8 1256.6,320.3 1260.2,316.6 1263.9,313.4 1267.5,310.8 1271.1,308.7 1274.7,306.9 1278.4,305.4 1282,304.3 1285.6,303.4 1289.3,302.8 1292.9,302.3 1296.5,302.2 1300.2,302.2 1303.8,302.4 1307.4,302.8 1311,303.4 1314.7,304.3 1318.3,305.3 1321.9,306.7 1325.6,308.2 1329.2,310.1 1332.8,312.3 1336.5,314.8 1340.1,317.8 1343.7,321.2 1347.3,325.1 1351,329.7 1354.6,335 1358.2,341.2 1361.9,348.4 1365.5,356.8 1369.1,366.6 1372.8,378.1 1376.4,391.6 1380,407.5 1383.6,426.1 1387.3,447.9 1390.9,473 1394.5,501.6 1398.2,533 1401.8,565.9 1405.4,598 1409,625.7 1412.7,644.8 1416.3,651.8 1419.9,645.2 1423.6,626.4 1427.2,598.8 1430.8,566.6 1434.5,533.4 1438.1,501.6 1441.7,472.6 1445.4,447.1 1449,424.9 1452.6,405.8 1456.2,389.5 1459.9,375.6 1463.5,363.7 1467.1,353.5 1470.8,344.7 1474.4,337.1 1478,330.6 1481.7,324.8 1485.3,319.8 1488.9,315.4 1492.5,311.5 1496.2,308.1 1499.8,305 1503.4,302.3 1507.1,299.8 1510.7,297.6 1514.3,295.6 1518,293.8 1521.6,292.2 1525.2,290.7 1528.8,289.3 1532.5,288.1 1536.1,286.9 1539.7,285.9 1543.4,284.9 1547,284 1550.6,283.2 1554.2,282.4 1557.9,281.7 1561.5,281 1565.1,280.4 1568.8,279.8 1572.4,279.3" fill="none" stroke="#7070ff" stroke-width="2.5"/><path d="M122.2 267.5h11l-5.5 10zM125.8 267.6h11l-5.5 10zM129.4 267.8h11l-5.5 10zM133.1 268h11l-5.5 10zM136.7 268.1h11l-5.5 10zM140.3 268.3h11l-5.5 10zM143.9 268.5h11l-5.5 10zM147.6 268.8h11l-5.5 10zM151.2 269h11l-5.5 10zM154.8 269.2h11l-5.5 10zM158.5 269.5h11l-5.5 10zM162.1 269.7h11l-5.5 10zM165.7 270h11l-5.5 10zM169.3 270.3h11l-5.5 10zM173 270.6h11l-5.5 10zM176.6 270.9h11l-5.5 10zM180.2 271.2h11l-5.5 10zM183.9 271.6h11l-5.5 10zM187.5 271.9h11l-5.5 10zM191.1 272.3h11l-5.5 10zM194.8 272.8h11l-5.5 10zM198.4 273.2h11l-5.5 10zM202 273.7h11l-5.5 10zM205.6 274.2h11l-5.5 10zM209.3 274.8h11l-5.5 10zM212.9 275.3h11l-5.5 10zM216.5 276h11l-5.5 10zM220.2 276.6h11l-5.5 10zM223.8 277.3h11l-5.5 10zM227.4 278.1h11l-5.5 10zM231.1 278.9h11l-5.5 10zM234.7 279.8h11l-5.5 10zM238.3 280.8h11l-5.5 10zM241.9 281.9h11l-5.5 10zM245.6 283h11l-5.5 10zM249.2 284.3h11l-5.5 10zM252.8 285.6h11l-5.5 10zM256.5 287.1h11l-5.5 10zM260.1 288.8h11l-5.5 10zM263.7 290.6h11l-5.5 10zM267.4 292.6h11l-5.5 10zM271 294.8h11l-5.5 10zM274.6 297.2h11l-5.5 10zM278.2 300h11l-5.5 10zM281.9 303.1h11l-5.5 10zM285.5 306.5h11l-5.5 10zM289.1 310.4h11l-5.5 10zM292.8 314.8h11l-5.5 10zM296.4 319.9h11l-5.5 10zM300 325.6h11l-5.5 10zM303.7 332.2h11l-5.5 10zM307.3 339.8h11l-5.5 10zM310.9 348.6h11l-5.5 10zM314.5 358.9h11l-5.5 10zM318.2 370.8h11l-5.5 10zM321.8 384.8h11l-5.5 10zM325.4 401.2h11l-5.5 10zM329.1 420.4h11l-5.5 10zM332.7 442.7h11l-5.5 10zM336.3 468.3h11l-5.5 10zM340 497.3h11l-5.5 10zM343.6 529.1h11l-5.5 10zM347.2 562.3h11l-5.5 10zM350.9 594.2h11l-5.5 10zM354.5 621.3h11l-5.5 10zM358.1 639.5h11l-5.5 10zM361.7 645.3h11l-5.5 10zM365.4 637.6h11l-5.5 10zM369 618h11l-5.5 10zM372.6 590h11l-5.5 10zM376.3 557.9h11l-5.5 10zM379.9 525.1h11l-5.5 10zM383.5 493.9h11l-5.5 10zM387.1 465.6h11l-5.5 10zM390.8 440.7h11l-5.5 10zM394.4 419.2h11l-5.5 10zM398 400.8h11l-5.5 10zM401.7 385.1h11l-5.5 10zM405.3 371.7h11l-5.5 10zM408.9 360.3h11l-5.5 10zM412.6 350.6h11l-5.5 10zM416.2 342.3h11l-5.5 10zM419.8 335.2h11l-5.5 10zM423.4 329.1h11l-5.5 10zM427.1 323.8h11l-5.5 10zM430.7 319.2h11l-5.5 10zM434.3 315.3h11l-5.5 10zM438 311.9h11l-5.5 10zM441.6 308.9h11l-5.5 10zM445.2 306.3h11l-5.5 10zM448.9 304.1h11l-5.5 10zM452.5 302.2h11l-5.5 10zM456.1 300.6h11l-5.5 10zM459.8 299.2h11l-5.5 10zM463.4 298.1h11l-5.5 10zM467 297.2h11l-5.5 10zM470.6 296.5h11l-5.5 10zM474.3 295.9h11l-5.5 10zM477.9 295.6h11l-5.5 10zM481.5 295.4h11l-5.5 10zM485.2 295.5h11l-5.5 10zM488.8 295.7h11l-5.5 10zM492.4 296.1h11l-5.5 10zM496 296.7h11l-5.5 10zM499.7 297.6h11l-5.5 10zM503.3 298.7h11l-5.5 10zM506.9 300.1h11l-5.5 10zM510.6 301.7h11l-5.5 10zM514.2 303.8h11l-5.5 10zM517.8 306.2h11l-5.5 10zM521.5 309.1h11l-5.5 10zM525.1 312.6h11l-5.5 10zM528.7 316.7h11l-5.5 10zM532.4 321.6h11l-5.5 10zM536 327.5h11l-5.5 10zM539.6 334.5h11l-5.5 10zM543.2 343h11l-5.5 10zM546.9 353.1h11l-5.5 10zM550.5 365.4h11l-5.5 10zM554.1 380.3h11l-5.5 10zM557.8 398.2h11l-5.5 10zM561.4 419.5h11l-5.5 10zM565 444.6h11l-5.5 10zM568.6 473h11l-5.5 10zM572.3 503.5h11l-5.5 10zM575.9 533.2h11l-5.5 10zM579.5 557.5h11l-5.5 10zM583.2 571.4h11l-5.5 10zM586.8 571.3h11l-5.5 10zM590.4 557.1h11l-5.5 10zM594.1 532.4h11l-5.5 10zM597.7 502.5h11l-5.5 10zM601.3 471.7h11l-5.5 10zM604.9 443h11l-5.5 10zM608.6 417.6h11l-5.5 10zM612.2 396h11l-5.5 10zM615.8 377.8h11l-5.5 10zM619.5 362.6h11l-5.5 10zM623.1 350h11l-5.5 10zM626.7 339.5h11l-5.5 10zM630.4 330.7h11l-5.5 10zM634 323.3h11l-5.5 10zM637.6 317.1h11l-5.5 10zM641.2 311.7h11l-5.5 10zM644.9 307.2h11l-5.5 10zM648.5 303.3h11l-5.5 10zM652.1 299.9h11l-5.5 10zM655.8 297h11l-5.5 10zM659.4 294.5h11l-5.5 10zM663 292.2h11l-5.5 10zM666.7 290.3h11l-5.5 10zM670.3 288.6h11l-5.5 10zM673.9 287.1h11l-5.5 10zM677.5 285.7h11l-5.5 10zM681.2 284.5h11l-5.5 10zM684.8 283.5h11l-5.5 10zM688.4 282.6h11l-5.5 10zM692.1 281.8h11l-5.5 10zM695.7 281h11l-5.5 10zM699.3 280.4h11l-5.5 10zM703 279.9h11l-5.5 10zM706.6 279.5h11l-5.5 10zM710.2 279.1h11l-5.5 10zM713.8 278.8h11l-5.5 10zM717.5 278.6h11l-5.5 10zM721.1 278.5h11l-5.5 10zM724.7 278.4h11l-5.5 10zM728.4 278.4h11l-5.5 10zM732 278.6h11l-5.5 10zM735.6 278.8h11l-5.5 10zM739.3 279.1h11l-5.5 10zM742.9 279.6h11l-5.5 10zM746.5 280.2h11l-5.5 10zM750.1 281.1h11l-5.5 10zM753.8 282.1h11l-5.5 10zM757.4 283.4h11l-5.5 10zM761 285.1h11l-5.5 10zM764.7 287.2h11l-5.5 10zM768.3 289.8h11l-5.5 10zM771.9 293.2h11l-5.5 10zM775.6 297.6h11l-5.5 10zM779.2 303.3h11l-5.5 10zM782.8 310.8h11l-5.5 10zM786.4 320.6h11l-5.5 10zM790.1 333.2h11l-5.5 10zM793.7 348.8h11l-5.5 10zM797.3 366.5h11l-5.5 10zM801 383.2h11l-5.5 10zM804.6 393.1h11l-5.5 10zM808.2 391.6h11l-5.5 10zM811.9 379.4h11l-5.5 10zM815.5 362h11l-5.5 10zM819.1 344.4h11l-5.5 10zM822.8 329.4h11l-5.5 10zM826.4 317.4h11l-5.5 10zM830 308.2h11l-5.5 10zM833.6 301.1h11l-5.5 10zM837.3 295.6h11l-5.5 10zM840.9 291.4h11l-5.5 10zM844.5 288.1h11l-5.5 10zM848.2 285.5h11l-5.5 10zM851.8 283.4h11l-5.5 10zM855.4 281.7h11l-5.5 10zM859 280.4h11l-5.5 10zM862.7 279.3h11l-5.5 10zM866.3 278.4h11l-5.5 10zM869.9 277.7h11l-5.5 10zM873.6 277.2h11l-5.5 10zM877.2 276.8h11l-5.5 10zM880.8 276.5h11l-5.5 10zM884.5 276.4h11l-5.5 10zM888.1 276.3h11l-5.5 10zM891.7 276.3h11l-5.5 10zM895.3 276.5h11l-5.5 10zM899 276.7h11l-5.5 10zM902.6 277.1h11l-5.5 10zM906.2 277.6h11l-5.5 10zM909.9 278.2h11l-5.5 10zM913.5 279.1h11l-5.5 10zM917.1 280.1h11l-5.5 10zM920.8 281.3h11l-5.5 10zM924.4 282.9h11l-5.5 10zM928 284.9h11l-5.5 10zM931.6 287.4h11l-5.5 10zM935.3 290.5h11l-5.5 10zM938.9 294.5h11l-5.5 10zM942.5 299.6h11l-5.5 10zM946.2 306.2h11l-5.5 10zM949.8 314.9h11l-5.5 10zM953.4 326.1h11l-5.5 10zM957.1 340.4h11l-5.5 10zM960.7 357.5h11l-5.5 10zM964.3 375.4h11l-5.5 10zM967.9 389.5h11l-5.5 10zM971.6 394.1h11l-5.5 10zM975.2 386.8h11l-5.5 10zM978.8 371.3h11l-5.5 10zM982.5 353.3h11l-5.5 10zM986.1 337h11l-5.5 10zM989.7 323.6h11l-5.5 10zM993.4 313.1h11l-5.5 10zM997 305.1h11l-5.5 10zM1000.6 299h11l-5.5 10zM1004.2 294.3h11l-5.5 10zM1007.9 290.6h11l-5.5 10zM1011.5 287.8h11l-5.5 10zM1015.1 285.6h11l-5.5 10zM1018.8 283.8h11l-5.5 10zM1022.4 282.4h11l-5.5 10zM1026 281.3h11l-5.5 10zM1029.7 280.4h11l-5.5 10zM1033.3 279.7h11l-5.5 10zM1036.9 279.2h11l-5.5 10zM1040.5 278.8h11l-5.5 10zM1044.2 278.6h11l-5.5 10zM1047.8 278.4h11l-5.5 10zM1051.4 278.4h11l-5.5 10zM1055.1 278.4h11l-5.5 10zM1058.7 278.5h11l-5.5 10zM1062.3 278.7h11l-5.5 10zM1066 278.9h11l-5.5 10zM1069.6 279.3h11l-5.5 10zM1073.2 279.7h11l-5.5 10zM1076.8 280.2h11l-5.5 10zM1080.5 280.7h11l-5.5 10zM1084.1 281.4h11l-5.5 10zM1087.7 282.2h11l-5.5 10zM1091.4 283h11l-5.5 10zM1095 284h11l-5.5 10zM1098.6 285.1h11l-5.5 10zM1102.3 286.4h11l-5.5 10zM1105.9 287.8h11l-5.5 10zM1109.5 289.4h11l-5.5 10zM1113.2 291.3h11l-5.5 10zM1116.8 293.4h11l-5.5 10zM1120.4 295.7h11l-5.5 10zM1124 298.5h11l-5.5 10zM1127.7 301.6h11l-5.5 10zM1131.3 305.2h11l-5.5 10zM1134.9 309.4h11l-5.5 10zM1138.6 314.3h11l-5.5 10zM1142.2 320h11l-5.5 10zM1145.8 326.8h11l-5.5 10zM1149.5 334.9h11l-5.5 10zM1153.1 344.4h11l-5.5 10zM1156.7 355.9h11l-5.5 10zM1160.3 369.7h11l-5.5 10zM1164 386.3h11l-5.5 10zM1167.6 406.1h11l-5.5 10zM1171.2 429.5h11l-5.5 10zM1174.9 456.6h11l-5.5 10zM1178.5 486.5h11l-5.5 10zM1182.1 517.3h11l-5.5 10zM1185.8 545.4h11l-5.5 10zM1189.4 565.5h11l-5.5 10zM1193 573.2h11l-5.5 10zM1196.6 566.3h11l-5.5 10zM1200.3 546.8h11l-5.5 10zM1203.9 519.3h11l-5.5 10zM1207.5 488.8h11l-5.5 10zM1211.2 459.1h11l-5.5 10zM1214.8 432.2h11l-5.5 10zM1218.4 409h11l-5.5 10zM1222 389.4h11l-5.5 10zM1225.7 373.1h11l-5.5 10zM1229.3 359.6h11l-5.5 10zM1232.9 348.4h11l-5.5 10zM1236.6 339.2h11l-5.5 10zM1240.2 331.5h11l-5.5 10zM1243.8 325.1h11l-5.5 10zM1247.5 319.8h11l-5.5 10zM1251.1 315.3h11l-5.5 10zM1254.7 311.6h11l-5.5 10zM1258.4 308.4h11l-5.5 10zM1262 305.8h11l-5.5 10zM1265.6 303.7h11l-5.5 10zM1269.2 301.9h11l-5.5 10zM1272.9 300.4h11l-5.5 10zM1276.5 299.3h11l-5.5 10zM1280.1 298.4h11l-5.5 10zM1283.8 297.8h11l-5.5 10zM1287.4 297.3h11l-5.5 10zM1291 297.2h11l-5.5 10zM1294.7 297.2h11l-5.5 10zM1298.3 297.4h11l-5.5 10zM1301.9 297.8h11l-5.5 10zM1305.5 298.4h11l-5.5 10zM1309.2 299.3h11l-5.5 10zM1312.8 300.3h11l-5.5 10zM1316.4 301.7h11l-5.5 10zM1320.1 303.2h11l-5.5 10zM1323.7 305.1h11l-5.5 10zM1327.3 307.3h11l-5.5 10zM1331 309.8h11l-5.5 10zM1334.6 312.8h11l-5.5 10zM1338.2 316.2h11l-5.5 10zM1341.8 320.1h11l-5.5 10zM1345.5 324.7h11l-5.5 10zM1349.1 330h11l-5.5 10zM1352.7 336.2h11l-5.5 10zM1356.4 343.4h11l-5.5 10zM1360 351.8h11l-5.5 10zM1363.6 361.6h11l-5.5 10zM1367.2 373.1h11l-5.5 10zM1370.9 386.6h11l-5.5 10zM1374.5 402.5h11l-5.5 10zM1378.1 421.1h11l-5.5 10zM1381.8 442.9h11l-5.5 10zM1385.4 468h11l-5.5 10zM1389 496.6h11l-5.5 10zM1392.7 528h11l-5.5 10zM1396.3 560.9h11l-5.5 10zM1399.9 593h11l-5.5 10zM1403.5 620.7h11l-5.5 10zM1407.2 639.8h11l-5.5 10zM1410.8 646.8h11l-5.5 10zM1414.4 640.2h11l-5.5 10zM1418.1 621.4h11l-5.5 10zM1421.7 593.8h11l-5.5 10zM1425.3 561.6h11l-5.5 10zM1429 528.4h11l-5.5 10zM1432.6 496.6h11l-5.5 10zM1436.2 467.6h11l-5.5 10zM1439.9 442.1h11l-5.5 10zM1443.5 419.9h11l-5.5 10zM1447.1 400.8h11l-5.5 10zM1450.7 384.5h11l-5.5 10zM1454.4 370.6h11l-5.5 10zM1458 358.7h11l-5.5 10zM1461.6 348.5h11l-5.5 10zM1465.3 339.7h11l-5.5 10zM1468.9 332.1h11l-5.5 10zM1472.5 325.6h11l-5.5 10zM1476.2 319.8h11l-5.5 10zM1479.8 314.8h11l-5.5 10zM1483.4 310.4h11l-5.5 10zM1487 306.5h11l-5.5 10zM1490.7 303.1h11l-5.5 10zM1494.3 300h11l-5.5 10zM1497.9 297.3h11l-5.5 10zM1501.6 294.8h11l-5.5 10zM1505.2 292.6h11l-5.5 10zM1508.8 290.6h11l-5.5 10zM1512.5 288.8h11l-5.5 10zM1516.1 287.2h11l-5.5 10zM1519.7 285.7h11l-5.5 10zM1523.3 284.3h11l-5.5 10zM1527 283.1h11l-5.5 10zM1530.6 281.9h11l-5.5 10zM1534.2 280.9h11l-5.5 10zM1537.9 279.9h11l-5.5 10zM1541.5 279h11l-5.5 10zM1545.1 278.2h11l-5.5 10zM1548.8 277.4h11l-5.5 10zM1552.4 276.7h11l-5.5 10zM1556 276h11l-5.5 10zM1559.6 275.4h11l-5.5 10zM1563.3 274.8h11l-5.5 10zM1566.9 274.3h11l-5.5 10z" fill="#0000ff"/>
<polyline points="127.7,269.7 131.3,269.7 134.9,269.7 138.6,269.8 142.2,269.8 145.8,269.8 149.4,269.9 153.1,269.9 156.7,269.9 160.3,270 164,270 167.6,270 171.2,270.1 174.8,270.1 178.5,270.1 182.1,270.2 185.7,270.2 189.4,270.2 193,270.3 196.6,270.3 200.3,270.4 203.9,270.4 207.5,270.4 211.1,270.5 214.8,270.5 218.4,270.6 222,270.6 225.7,270.7 229.3,270.7 232.9,270.8 236.6,270.8 240.2,270.9 243.8,270.9 247.4,271 251.1,271 254.7,271.1 258.3,271.1 262,271.2 265.6,271.2 269.2,271.3 272.9,271.3 276.5,271.4 280.1,271.4 283.8,271.5 287.4,271.6 291,271.6 294.6,271.7 298.3,271.7 301.9,271.8 305.5,271.9 309.2,271.9 312.8,272 316.4,272.1 320,272.2 323.7,272.2 327.3,272.3 330.9,272.4 334.6,272.5 338.2,272.5 341.8,272.6 345.5,272.7 349.1,272.8 352.7,272.9 356.4,273 360,273 363.6,273.1 367.2,273.2 370.9,273.3 374.5,273.4 378.1,273.5 381.8,273.6 385.4,273.7 389,273.8 392.6,273.9 396.3,274 399.9,274.2 403.5,274.3 407.2,274.4 410.8,274.5 414.4,274.6 418.1,274.8 421.7,274.9 425.3,275 428.9,275.2 432.6,275.3 436.2,275.4 439.8,275.6 443.5,275.7 447.1,275.9 450.7,276.1 454.4,276.2 458,276.4 461.6,276.6 465.2,276.7 468.9,276.9 472.5,277.1 476.1,277.3 479.8,277.5 483.4,277.7 487,277.9 490.7,278.1 494.3,278.3 497.9,278.5 501.5,278.8 505.2,279 508.8,279.3 512.4,279.5 516.1,279.8 519.7,280 523.3,280.3 527,280.6 530.6,280.9 534.2,281.2 537.9,281.5 541.5,281.8 545.1,282.2 548.7,282.5 552.4,282.9 556,283.2 559.6,283.6 563.3,284 566.9,284.4 570.5,284.9 574.1,285.3 577.8,285.8 581.4,286.2 585,286.7 588.7,287.2 592.3,287.8 595.9,288.3 599.6,288.9 603.2,289.5 606.8,290.1 610.4,290.8 614.1,291.5 617.7,292.2 621.3,292.9 625,293.7 628.6,294.5 632.2,295.3 635.9,296.2 639.5,297.1 643.1,298.1 646.8,299.1 650.4,300.2 654,301.3 657.6,302.5 661.3,303.8 664.9,305.1 668.5,306.5 672.2,307.9 675.8,309.5 679.4,311.1 683,312.8 686.7,314.7 690.3,316.6 693.9,318.7 697.6,320.9 701.2,323.2 704.8,325.7 708.5,328.3 712.1,331.2 715.7,334.2 719.3,337.5 723,341 726.6,344.7 730.2,348.7 733.9,353.1 737.5,357.7 741.1,362.8 744.8,368.2 748.4,374.1 752,380.5 755.6,387.4 759.3,395 762.9,403.1 766.5,412 770.2,421.6 773.8,432 777.4,443.3 781.1,455.5 784.7,468.7 788.3,482.9 791.9,498.1 795.6,514.2 799.2,531.3 802.8,549 806.5,567.2 810.1,585.7 813.7,603.9 817.4,621.3 821,637.5 824.6,651.6 828.2,663.2 831.9,671.7 835.5,676.6 839.1,677.9 842.8,675.4 846.4,669.6 850,660.8 853.7,649.6 857.3,636.7 860.9,622.7 864.5,608.2 868.2,593.7 871.8,579.7 875.4,566.4 879.1,554.1 882.7,542.9 886.3,533 890,524.4 893.6,517.1 897.2,511.2 900.8,506.6 904.5,503.4 908.1,501.5 911.7,501 915.4,501.7 919,503.8 922.6,507.3 926.3,512 929.9,518.2 933.5,525.7 937.1,534.5 940.8,544.6 944.4,555.9 948,568.4 951.7,581.9 955.3,596 958.9,610.5 962.6,625 966.2,638.8 969.8,651.5 973.4,662.4 977.1,670.7 980.7,676.1 984.3,677.9 988,676.1 991.6,670.6 995.2,661.6 998.9,649.5 1002.5,635 1006.1,618.6 1009.7,601 1013.4,582.7 1017,564.3 1020.6,546.1 1024.3,528.5 1027.9,511.6 1031.5,495.6 1035.2,480.6 1038.8,466.5 1042.4,453.5 1046,441.4 1049.7,430.3 1053.3,420 1056.9,410.5 1060.6,401.8 1064.2,393.7 1067.8,386.3 1071.5,379.5 1075.1,373.2 1078.7,367.3 1082.3,362 1086,357 1089.6,352.4 1093.2,348.1 1096.9,344.1 1100.5,340.4 1104.1,336.9 1107.8,333.7 1111.4,330.7 1115,327.9 1118.7,325.3 1122.3,322.8 1125.9,320.5 1129.5,318.3 1133.2,316.3 1136.8,314.4 1140.4,312.5 1144.1,310.8 1147.7,309.2 1151.3,307.7 1155,306.2 1158.6,304.9 1162.2,303.6 1165.8,302.3 1169.5,301.1 1173.1,300 1176.7,299 1180.4,298 1184,297 1187.6,296.1 1191.2,295.2 1194.9,294.4 1198.5,293.6 1202.1,292.8 1205.8,292 1209.4,291.3 1213,290.7 1216.7,290 1220.3,289.4 1223.9,288.8 1227.5,288.2 1231.2,287.7 1234.8,287.2 1238.4,286.6 1242.1,286.2 1245.7,285.7 1249.3,285.2 1253,284.8 1256.6,284.4 1260.2,284 1263.9,283.6 1267.5,283.2 1271.1,282.8 1274.7,282.5 1278.4,282.1 1282,281.8 1285.6,281.5 1289.3,281.1 1292.9,280.8 1296.5,280.5 1300.2,280.3 1303.8,280 1307.4,279.7 1311,279.5 1314.7,279.2 1318.3,279 1321.9,278.7 1325.6,278.5 1329.2,278.3 1332.8,278.1 1336.5,277.9 1340.1,277.6 1343.7,277.4 1347.3,277.3 1351,277.1 1354.6,276.9 1358.2,276.7 1361.9,276.5 1365.5,276.4 1369.1,276.2 1372.8,276 1376.4,275.9 1380,275.7 1383.6,275.6 1387.3,275.4 1390.9,275.3 1394.5,275.1 1398.2,275 1401.8,274.9 1405.4,274.7 1409,274.6 1412.7,274.5 1416.3,274.4 1419.9,274.3 1423.6,274.1 1427.2,274 1430.8,273.9 1434.5,273.8 1438.1,273.7 1441.7,273.6 1445.4,273.5 1449,273.4 1452.6,273.3 1456.2,273.2 1459.9,273.1 1463.5,273 1467.1,272.9 1470.8,272.9 1474.4,272.8 1478,272.7 1481.7,272.6 1485.3,272.5 1488.9,272.4 1492.5,272.4 1496.2,272.3 1499.8,272.2 1503.4,272.1 1507.1,272.1 1510.7,272 1514.3,271.9 1518,271.9 1521.6,271.8 1525.2,271.7 1528.8,271.7 1532.5,271.6 1536.1,271.5 1539.7,271.5 1543.4,271.4 1547,271.4 1550.6,271.3 1554.2,271.3 1557.9,271.2 1561.5,271.1 1565.1,271.1 1568.8,271 1572.4,271" fill="none" stroke="#60ffff" stroke-width="2.5"/><path d="M133.1 269.7a5.4 5.4 0 1 0 -10.8 0a5.4 5.4 0 1 0 10.8 0zM136.7 269.7a5.4 5.4 0 1 0 -10.8 0a5.4 5.4 0 1 0 10.8 0zM140.3 269.7a5.4 5.4 0 1 0 -10.8 0a5.4 5.4 0 1 0 10.8 0zM144 269.8a5.4 5.4 0 1 0 -10.8 0a5.4 5.4 0 1 0 10.8 0zM147.6 269.8a5.4 5.4 0 1 0 -10.8 0a5.4 5.4 0 1 0 10.8 0zM151.2 269.8a5.4 5.4 0 1 0 -10.8 0a5.4 5.4 0 1 0 10.8 0zM154.8 269.9a5.4 5.4 0 1 0 -10.8 0a5.4 5.4 0 1 0 10.8 0zM158.5 269.9a5.4 5.4 0 1 0 -10.8 0a5.4 5.4 0 1 0 10.8 0zM162.1 269.9a5.4 5.4 0 1 0 -10.8 0a5.4 5.4 0 1 0 10.8 0zM165.7 270a5.4 5.4 0 1 0 -10.8 0a5.4 5.4 0 1 0 10.8 0zM169.4 270a5.4 5.4 0 1 0 -10.8 0a5.4 5.4 0 1 0 10.8 0zM173 270a5.4 5.4 0 1 0 -10.8 0a5.4 5.4 0 1 0 10.8 0zM176.6 270.1a5.4 5.4 0 1 0 -10.8 0a5.4 5.4 0 1 0 10.8 0zM180.2 270.1a5.4 5.4 0 1 0 -10.8 0a5.4 5.4 0 1 0 10.8 0zM183.9 270.1a5.4 5.4 0 1 0 -10.8 0a5.4 5.4 0 1 0 10.8 0zM187.5 270.2a5.4 5.4 0 1 0 -10.8 0a5.4 5.4 0 1 0 10.8 0zM191.1 270.2a5.4 5.4 0 1 0 -10.8 0a5.4 5.4 0 1 0 10.8 0zM194.8 270.2a5.4 5.4 0 1 0 -10.8 0a5.4 5.4 0 1 0 10.8 0zM198.4 270.3a5.4 5.4 0 1 0 -10.8 0a5.4 5.4 0 1 0 10.8 0zM202 270.3a5.4 5.4 0 1 0 -10.8 0a5.4 5.4 0 1 0 10.8 0zM205.7 270.4a5.4 5.4 0 1 0 -10.8 0a5.4 5.4 0 1 0 10.8 0zM209.3 270.4a5.4 5.4 0 1 0 -10.8 0a5.4 5.4 0 1 0 10.8 0zM212.9 270.4a5.4 5.4 0 1 0 -10.8 0a5.4 5.4 0 1 0 10.8 0zM216.5 270.5a5.4 5.4 0 1 0 -10.8 0a5.4 5.4 0 1 0 10.8 0zM220.2 270.5a5.4 5.4 0 1 0 -10.8 0a5.4 5.4 0 1 0 10.8 0zM223.8 270.6a5.4 5.4 0 1 0 -10.8 0a5.4 5.4 0 1 0 10.8 0zM227.4 270.6a5.4 5.4 0 1 0 -10.8 0a5.4 5.4 0 1 0 10.8 0zM231.1 270.7a5.4 5.4 0 1 0 -10.8 0a5.4 5.4 0 1 0 10.8 0zM234.7 270.7a5.4 5.4 0 1 0 -10.8 0a5.4 5.4 0 1 0 10.8 0zM238.3 270.8a5.4 5.4 0 1 0 -10.8 0a5.4 5.4 0 1 0 10.8 0zM242 270.8a5.4 5.4 0 1 0 -10.8 0a5.4 5.4 0 1 0 10.8 0zM245.6 270.9a5.4 5.4 0 1 0 -10.8 0a5.4 5.4 0 1 0 10.8 0zM249.2 270.9a5.4 5.4 0 1 0 -10.8 0a5.4 5.4 0 1 0 10.8 0zM252.8 271a5.4 5.4 0 1 0 -10.8 0a5.4 5.4 0 1 0 10.8 0zM256.5 271a5.4 5.4 0 1 0 -10.8 0a5.4 5.4 0 1 0 10.8 0zM260.1 271.1a5.4 5.4 0 1 0 -10.8 0a5.4 5.4 0 1 0 10.8 0zM263.7 271.1a5.4 5.4 0 1 0 -10.8 0a5.4 5.4 0 1 0 10.8 0zM267.4 271.2a5.4 5.4 0 1 0 -10.8 0a5.4 5.4 0 1 0 10.8 0zM271 271.2a5.4 5.4 0 1 0 -10.8 0a5.4 5.4 0 1 0 10.8 0zM274.6 271.3a5.4 5.4 0 1 0 -10.8 0a5.4 5.4 0 1 0 10.8 0zM278.3 271.3a5.4 5.4 0 1 0 -10.8 0a5.4 5.4 0 1 0 10.8 0zM281.9 271.4a5.4 5.4 0 1 0 -10.8 0a5.4 5.4 0 1 0 10.8 0zM285.5 271.4a5.4 5.4 0 1 0 -10.8 0a5.4 5.4 0 1 0 10.8 0zM289.1 271.5a5.4 5.4 0 1 0 -10.8 0a5.4 5.4 0 1 0 10.8 0zM292.8 271.6a5.4 5.4 0 1 0 -10.8 0a5.4 5.4 0 1 0 10.8 0zM296.4 271.6a5.4 5.4 0 1 0 -10.8 0a5.4 5.4 0 1 0 10.8 0zM300 271.7a5.4 5.4 0 1 0 -10.8 0a5.4 5.4 0 1 0 10.8 0zM303.7 271.7a5.4 5.4 0 1 0 -10.8 0a5.4 5.4 0 1 0 10.8 0zM307.3 271.8a5.4 5.4 0 1 0 -10.8 0a5.4 5.4 0 1 0 10.8 0zM310.9 271.9a5.4 5.4 0 1 0 -10.8 0a5.4 5.4 0 1 0 10.8 0zM314.6 271.9a5.4 5.4 0 1 0 -10.8 0a5.4 5.4 0 1 0 10.8 0zM318.2 272a5.4 5.4 0 1 0 -10.8 0a5.4 5.4 0 1 0 10.8 0zM321.8 272.1a5.4 5.4 0 1 0 -10.8 0a5.4 5.4 0 1 0 10.8 0zM325.4 272.2a5.4 5.4 0 1 0 -10.8 0a5.4 5.4 0 1 0 10.8 0zM329.1 272.2a5.4 5.4 0 1 0 -10.8 0a5.4 5.4 0 1 0 10.8 0zM332.7 272.3a5.4 5.4 0 1 0 -10.8 0a5.4 5.4 0 1 0 10.8 0zM336.3 272.4a5.4 5.4 0 1 0 -10.8 0a5.4 5.4 0 1 0 10.8 0zM340 272.5a5.4 5.4 0 1 0 -10.8 0a5.4 5.4 0 1 0 10.8 0zM343.6 272.5a5.4 5.4 0 1 0 -10.8 0a5.4 5.4 0 1 0 10.8 0zM347.2 272.6a5.4 5.4 0 1 0 -10.8 0a5.4 5.4 0 1 0 10.8 0zM350.9 272.7a5.4 5.4 0 1 0 -10.8 0a5.4 5.4 0 1 0 10.8 0zM354.5 272.8a5.4 5.4 0 1 0 -10.8 0a5.4 5.4 0 1 0 10.8 0zM358.1 272.9a5.4 5.4 0 1 0 -10.8 0a5.4 5.4 0 1 0 10.8 0zM361.8 273a5.4 5.4 0 1 0 -10.8 0a5.4 5.4 0 1 0 10.8 0zM365.4 273a5.4 5.4 0 1 0 -10.8 0a5.4 5.4 0 1 0 10.8 0zM369 273.1a5.4 5.4 0 1 0 -10.8 0a5.4 5.4 0 1 0 10.8 0zM372.6 273.2a5.4 5.4 0 1 0 -10.8 0a5.4 5.4 0 1 0 10.8 0zM376.3 273.3a5.4 5.4 0 1 0 -10.8 0a5.4 5.4 0 1 0 10.8 0zM379.9 273.4a5.4 5.4 0 1 0 -10.8 0a5.4 5.4 0 1 0 10.8 0zM383.5 273.5a5.4 5.4 0 1 0 -10.8 0a5.4 5.4 0 1 0 10.8 0zM387.2 273.6a5.4 5.4 0 1 0 -10.8 0a5.4 5.4 0 1 0 10.8 0zM390.8 273.7a5.4 5.4 0 1 0 -10.8 0a5.4 5.4 0 1 0 10.8 0zM394.4 273.8a5.4 5.4 0 1 0 -10.8 0a5.4 5.4 0 1 0 10.8 0zM398 273.9a5.4 5.4 0 1 0 -10.8 0a5.4 5.4 0 1 0 10.8 0zM401.7 274a5.4 5.4 0 1 0 -10.8 0a5.4 5.4 0 1 0 10.8 0zM405.3 274.2a5.4 5.4 0 1 0 -10.8 0a5.4 5.4 0 1 0 10.8 0zM408.9 274.3a5.4 5.4 0 1 0 -10.8 0a5.4 5.4 0 1 0 10.8 0zM412.6 274.4a5.4 5.4 0 1 0 -10.8 0a5.4 5.4 0 1 0 10.8 0zM416.2 274.5a5.4 5.4 0 1 0 -10.8 0a5.4 5.4 0 1 0 10.8 0zM419.8 274.6a5.4 5.4 0 1 0 -10.8 0a5.4 5.4 0 1 0 10.8 0zM423.5 274.8a5.4 5.4 0 1 0 -10.8 0a5.4 5.4 0 1 0 10.8 0zM427.1 274.9a5.4 5.4 0 1 0 -10.8 0a5.4 5.4 0 1 0 10.8 0zM430.7 275a5.4 5.4 0 1 0 -10.8 0a5.4 5.4 0 1 0 10.8 0zM434.3 275.2a5.4 5.4 0 1 0 -10.8 0a5.4 5.4 0 1 0 10.8 0zM438 275.3a5.4 5.4 0 1 0 -10.8 0a5.4 5.4 0 1 0 10.8 0zM441.6 275.4a5.4 5.4 0 1 0 -10.8 0a5.4 5.4 0 1 0 10.8 0zM445.2 275.6a5.4 5.4 0 1 0 -10.8 0a5.4 5.4 0 1 0 10.8 0zM448.9 275.7a5.4 5.4 0 1 0 -10.8 0a5.4 5.4 0 1 0 10.8 0zM452.5 275.9a5.4 5.4 0 1 0 -10.8 0a5.4 5.4 0 1 0 10.8 0zM456.1 276.1a5.4 5.4 0 1 0 -10.8 0a5.4 5.4 0 1 0 10.8 0zM459.8 276.2a5.4 5.4 0 1 0 -10.8 0a5.4 5.4 0 1 0 10.8 0zM463.4 276.4a5.4 5.4 0 1 0 -10.8 0a5.4 5.4 0 1 0 10.8 0zM467 276.6a5.4 5.4 0 1 0 -10.8 0a5.4 5.4 0 1 0 10.8 0zM470.6 276.7a5.4 5.4 0 1 0 -10.8 0a5.4 5.4 0 1 0 10.8 0zM474.3 276.9a5.4 5.4 0 1 0 -10.8 0a5.4 5.4 0 1 0 10.8 0zM477.9 277.1a5.4 5.4 0 1 0 -10.8 0a5.4 5.4 0 1 0 10.8 0zM481.5 277.3a5.4 5.4 0 1 0 -10.8 0a5.4 5.4 0 1 0 10.8 0zM485.2 277.5a5.4 5.4 0 1 0 -10.8 0a5.4 5.4 0 1 0 10.8 0zM488.8 277.7a5.4 5.4 0 1 0 -10.8 0a5.4 5.4 0 1 0 10.8 0zM492.4 277.9a5.4 5.4 0 1 0 -10.8 0a5.4 5.4 0 1 0 10.8 0zM496.1 278.1a5.4 5.4 0 1 0 -10.8 0a5.4 5.4 0 1 0 10.8 0zM499.7 278.3a5.4 5.4 0 1 0 -10.8 0a5.4 5.4 0 1 0 10.8 0zM503.3 278.5a5.4 5.4 0 1 0 -10.8 0a5.4 5.4 0 1 0 10.8 0zM506.9 278.8a5.4 5.4 0 1 0 -10.8 0a5.4 5.4 0 1 0 10.8 0zM510.6 279a5.4 5.4 0 1 0 -10.8 0a5.4 5.4 0 1 0 10.8 0zM514.2 279.3a5.4 5.4 0 1 0 -10.8 0a5.4 5.4 0 1 0 10.8 0zM517.8 279.5a5.4 5.4 0 1 0 -10.8 0a5.4 5.4 0 1 0 10.8 0zM521.5 279.8a5.4 5.4 0 1 0 -10.8 0a5.4 5.4 0 1 0 10.8 0zM525.1 280a5.4 5.4 0 1 0 -10.8 0a5.4 5.4 0 1 0 10.8 0zM528.7 280.3a5.4 5.4 0 1 0 -10.8 0a5.4 5.4 0 1 0 10.8 0zM532.4 280.6a5.4 5.4 0 1 0 -10.8 0a5.4 5.4 0 1 0 10.8 0zM536 280.9a5.4 5.4 0 1 0 -10.8 0a5.4 5.4 0 1 0 10.8 0zM539.6 281.2a5.4 5.4 0 1 0 -10.8 0a5.4 5.4 0 1 0 10.8 0zM543.2 281.5a5.4 5.4 0 1 0 -10.8 0a5.4 5.4 0 1 0 10.8 0zM546.9 281.8a5.4 5.4 0 1 0 -10.8 0a5.4 5.4 0 1 0 10.8 0zM550.5 282.2a5.4 5.4 0 1 0 -10.8 0a5.4 5.4 0 1 0 10.8 0zM554.1 282.5a5.4 5.4 0 1 0 -10.8 0a5.4 5.4 0 1 0 10.8 0zM557.8 282.9a5.4 5.4 0 1 0 -10.8 0a5.4 5.4 0 1 0 10.8 0zM561.4 283.2a5.4 5.4 0 1 0 -10.8 0a5.4 5.4 0 1 0 10.8 0zM565 283.6a5.4 5.4 0 1 0 -10.8 0a5.4 5.4 0 1 0 10.8 0zM568.7 284a5.4 5.4 0 1 0 -10.8 0a5.4 5.4 0 1 0 10.8 0zM572.3 284.4a5.4 5.4 0 1 0 -10.8 0a5.4 5.4 0 1 0 10.8 0zM575.9 284.9a5.4 5.4 0 1 0 -10.8 0a5.4 5.4 0 1 0 10.8 0zM579.5 285.3a5.4 5.4 0 1 0 -10.8 0a5.4 5.4 0 1 0 10.8 0zM583.2 285.8a5.4 5.4 0 1 0 -10.8 0a5.4 5.4 0 1 0 10.8 0zM586.8 286.2a5.4 5.4 0 1 0 -10.8 0a5.4 5.4 0 1 0 10.8 0zM590.4 286.7a5.4 5.4 0 1 0 -10.8 0a5.4 5.4 0 1 0 10.8 0zM594.1 287.2a5.4 5.4 0 1 0 -10.8 0a5.4 5.4 0 1 0 10.8 0zM597.7 287.8a5.4 5.4 0 1 0 -10.8 0a5.4 5.4 0 1 0 10.8 0zM601.3 288.3a5.4 5.4 0 1 0 -10.8 0a5.4 5.4 0 1 0 10.8 0zM605 288.9a5.4 5.4 0 1 0 -10.8 0a5.4 5.4 0 1 0 10.8 0zM608.6 289.5a5.4 5.4 0 1 0 -10.8 0a5.4 5.4 0 1 0 10.8 0zM612.2 290.1a5.4 5.4 0 1 0 -10.8 0a5.4 5.4 0 1 0 10.8 0zM615.8 290.8a5.4 5.4 0 1 0 -10.8 0a5.4 5.4 0 1 0 10.8 0zM619.5 291.5a5.4 5.4 0 1 0 -10.8 0a5.4 5.4 0 1 0 10.8 0zM623.1 292.2a5.4 5.4 0 1 0 -10.8 0a5.4 5.4 0 1 0 10.8 0zM626.7 292.9a5.4 5.4 0 1 0 -10.8 0a5.4 5.4 0 1 0 10.8 0zM630.4 293.7a5.4 5.4 0 1 0 -10.8 0a5.4 5.4 0 1 0 10.8 0zM634 294.5a5.4 5.4 0 1 0 -10.8 0a5.4 5.4 0 1 0 10.8 0zM637.6 295.3a5.4 5.4 0 1 0 -10.8 0a5.4 5.4 0 1 0 10.8 0zM641.3 296.2a5.4 5.4 0 1 0 -10.8 0a5.4 5.4 0 1 0 10.8 0zM644.9 297.1a5.4 5.4 0 1 0 -10.8 0a5.4 5.4 0 1 0 10.8 0zM648.5 298.1a5.4 5.4 0 1 0 -10.8 0a5.4 5.4 0 1 0 10.8 0zM652.1 299.1a5.4 5.4 0 1 0 -10.8 0a5.4 5.4 0 1 0 10.8 0zM655.8 300.2a5.4 5.4 0 1 0 -10.8 0a5.4 5.4 0 1 0 10.8 0zM659.4 301.3a5.4 5.4 0 1 0 -10.8 0a5.4 5.4 0 1 0 10.8 0zM663 302.5a5.4 5.4 0 1 0 -10.8 0a5.4 5.4 0 1 0 10.8 0zM666.7 303.8a5.4 5.4 0 1 0 -10.8 0a5.4 5.4 0 1 0 10.8 0zM670.3 305.1a5.4 5.4 0 1 0 -10.8 0a5.4 5.4 0 1 0 10.8 0zM673.9 306.5a5.4 5.4 0 1 0 -10.8 0a5.4 5.4 0 1 0 10.8 0zM677.6 307.9a5.4 5.4 0 1 0 -10.8 0a5.4 5.4 0 1 0 10.8 0zM681.2 309.5a5.4 5.4 0 1 0 -10.8 0a5.4 5.4 0 1 0 10.8 0zM684.8 311.1a5.4 5.4 0 1 0 -10.8 0a5.4 5.4 0 1 0 10.8 0zM688.4 312.8a5.4 5.4 0 1 0 -10.8 0a5.4 5.4 0 1 0 10.8 0zM692.1 314.7a5.4 5.4 0 1 0 -10.8 0a5.4 5.4 0 1 0 10.8 0zM695.7 316.6a5.4 5.4 0 1 0 -10.8 0a5.4 5.4 0 1 0 10.8 0zM699.3 318.7a5.4 5.4 0 1 0 -10.8 0a5.4 5.4 0 1 0 10.8 0zM703 320.9a5.4 5.4 0 1 0 -10.8 0a5.4 5.4 0 1 0 10.8 0zM706.6 323.2a5.4 5.4 0 1 0 -10.8 0a5.4 5.4 0 1 0 10.8 0zM710.2 325.7a5.4 5.4 0 1 0 -10.8 0a5.4 5.4 0 1 0 10.8 0zM713.9 328.3a5.4 5.4 0 1 0 -10.8 0a5.4 5.4 0 1 0 10.8 0zM717.5 331.2a5.4 5.4 0 1 0 -10.8 0a5.4 5.4 0 1 0 10.8 0zM721.1 334.2a5.4 5.4 0 1 0 -10.8 0a5.4 5.4 0 1 0 10.8 0zM724.7 337.5a5.4 5.4 0 1 0 -10.8 0a5.4 5.4 0 1 0 10.8 0zM728.4 341a5.4 5.4 0 1 0 -10.8 0a5.4 5.4 0 1 0 10.8 0zM732 344.7a5.4 5.4 0 1 0 -10.8 0a5.4 5.4 0 1 0 10.8 0zM735.6 348.7a5.4 5.4 0 1 0 -10.8 0a5.4 5.4 0 1 0 10.8 0zM739.3 353.1a5.4 5.4 0 1 0 -10.8 0a5.4 5.4 0 1 0 10.8 0zM742.9 357.7a5.4 5.4 0 1 0 -10.8 0a5.4 5.4 0 1 0 10.8 0zM746.5 362.8a5.4 5.4 0 1 0 -10.8 0a5.4 5.4 0 1 0 10.8 0zM750.2 368.2a5.4 5.4 0 1 0 -10.8 0a5.4 5.4 0 1 0 10.8 0zM753.8 374.1a5.4 5.4 0 1 0 -10.8 0a5.4 5.4 0 1 0 10.8 0zM757.4 380.5a5.4 5.4 0 1 0 -10.8 0a5.4 5.4 0 1 0 10.8 0zM761 387.4a5.4 5.4 0 1 0 -10.8 0a5.4 5.4 0 1 0 10.8 0zM764.7 395a5.4 5.4 0 1 0 -10.8 0a5.4 5.4 0 1 0 10.8 0zM768.3 403.1a5.4 5.4 0 1 0 -10.8 0a5.4 5.4 0 1 0 10.8 0zM771.9 412a5.4 5.4 0 1 0 -10.8 0a5.4 5.4 0 1 0 10.8 0zM775.6 421.6a5.4 5.4 0 1 0 -10.8 0a5.4 5.4 0 1 0 10.8 0zM779.2 432a5.4 5.4 0 1 0 -10.8 0a5.4 5.4 0 1 0 10.8 0zM782.8 443.3a5.4 5.4 0 1 0 -10.8 0a5.4 5.4 0 1 0 10.8 0zM786.5 455.5a5.4 5.4 0 1 0 -10.8 0a5.4 5.4 0 1 0 10.8 0zM790.1 468.7a5.4 5.4 0 1 0 -10.8 0a5.4 5.4 0 1 0 10.8 0zM793.7 482.9a5.4 5.4 0 1 0 -10.8 0a5.4 5.4 0 1 0 10.8 0zM797.3 498.1a5.4 5.4 0 1 0 -10.8 0a5.4 5.4 0 1 0 10.8 0zM801 514.2a5.4 5.4 0 1 0 -10.8 0a5.4 5.4 0 1 0 10.8 0zM804.6 531.3a5.4 5.4 0 1 0 -10.8 0a5.4 5.4 0 1 0 10.8 0zM808.2 549a5.4 5.4 0 1 0 -10.8 0a5.4 5.4 0 1 0 10.8 0zM811.9 567.2a5.4 5.4 0 1 0 -10.8 0a5.4 5.4 0 1 0 10.8 0zM815.5 585.7a5.4 5.4 0 1 0 -10.8 0a5.4 5.4 0 1 0 10.8 0zM819.1 603.9a5.4 5.4 0 1 0 -10.8 0a5.4 5.4 0 1 0 10.8 0zM822.8 621.3a5.4 5.4 0 1 0 -10.8 0a5.4 5.4 0 1 0 10.8 0zM826.4 637.5a5.4 5.4 0 1 0 -10.8 0a5.4 5.4 0 1 0 10.8 0zM830 651.6a5.4 5.4 0 1 0 -10.8 0a5.4 5.4 0 1 0 10.8 0zM833.6 663.2a5.4 5.4 0 1 0 -10.8 0a5.4 5.4 0 1 0 10.8 0zM837.3 671.7a5.4 5.4 0 1 0 -10.8 0a5.4 5.4 0 1 0 10.8 0zM840.9 676.6a5.4 5.4 0 1 0 -10.8 0a5.4 5.4 0 1 0 10.8 0zM844.5 677.9a5.4 5.4 0 1 0 -10.8 0a5.4 5.4 0 1 0 10.8 0zM848.2 675.4a5.4 5.4 0 1 0 -10.8 0a5.4 5.4 0 1 0 10.8 0zM851.8 669.6a5.4 5.4 0 1 0 -10.8 0a5.4 5.4 0 1 0 10.8 0zM855.4 660.8a5.4 5.4 0 1 0 -10.8 0a5.4 5.4 0 1 0 10.8 0zM859.1 649.6a5.4 5.4 0 1 0 -10.8 0a5.4 5.4 0 1 0 10.8 0zM862.7 636.7a5.4 5.4 0 1 0 -10.8 0a5.4 5.4 0 1 0 10.8 0zM866.3 622.7a5.4 5.4 0 1 0 -10.8 0a5.4 5.4 0 1 0 10.8 0zM869.9 608.2a5.4 5.4 0 1 0 -10.8 0a5.4 5.4 0 1 0 10.8 0zM873.6 593.7a5.4 5.4 0 1 0 -10.8 0a5.4 5.4 0 1 0 10.8 0zM877.2 579.7a5.4 5.4 0 1 0 -10.8 0a5.4 5.4 0 1 0 10.8 0zM880.8 566.4a5.4 5.4 0 1 0 -10.8 0a5.4 5.4 0 1 0 10.8 0zM884.5 554.1a5.4 5.4 0 1 0 -10.8 0a5.4 5.4 0 1 0 10.8 0zM888.1 542.9a5.4 5.4 0 1 0 -10.8 0a5.4 5.4 0 1 0 10.8 0zM891.7 533a5.4 5.4 0 1 0 -10.8 0a5.4 5.4 0 1 0 10.8 0zM895.4 524.4a5.4 5.4 0 1 0 -10.8 0a5.4 5.4 0 1 0 10.8 0zM899 517.1a5.4 5.4 0 1 0 -10.8 0a5.4 5.4 0 1 0 10.8 0zM902.6 511.2a5.4 5.4 0 1 0 -10.8 0a5.4 5.4 0 1 0 10.8 0zM906.2 506.6a5.4 5.4 0 1 0 -10.8 0a5.4 5.4 0 1 0 10.8 0zM909.9 503.4a5.4 5.4 0 1 0 -10.8 0a5.4 5.4 0 1 0 10.8 0zM913.5 501.5a5.4 5.4 0 1 0 -10.8 0a5.4 5.4 0 1 0 10.8 0zM917.1 501a5.4 5.4 0 1 0 -10.8 0a5.4 5.4 0 1 0 10.8 0zM920.8 501.7a5.4 5.4 0 1 0 -10.8 0a5.4 5.4 0 1 0 10.8 0zM924.4 503.8a5.4 5.4 0 1 0 -10.8 0a5.4 5.4 0 1 0 10.8 0zM928 507.3a5.4 5.4 0 1 0 -10.8 0a5.4 5.4 0 1 0 10.8 0zM931.7 512a5.4 5.4 0 1 0 -10.8 0a5.4 5.4 0 1 0 10.8 0zM935.3 518.2a5.4 5.4 0 1 0 -10.8 0a5.4 5.4 0 1 0 10.8 0zM938.9 525.7a5.4 5.4 0 1 0 -10.8 0a5.4 5.4 0 1 0 10.8 0zM942.5 534.5a5.4 5.4 0 1 0 -10.8 0a5.4 5.4 0 1 0 10.8 0zM946.2 544.6a5.4 5.4 0 1 0 -10.8 0a5.4 5.4 0 1 0 10.8 0zM949.8 555.9a5.4 5.4 0 1 0 -10.8 0a5.4 5.4 0 1 0 10.8 0zM953.4 568.4a5.4 5.4 0 1 0 -10.8 0a5.4 5.4 0 1 0 10.8 0zM957.1 581.9a5.4 5.4 0 1 0 -10.8 0a5.4 5.4 0 1 0 10.8 0zM960.7 596a5.4 5.4 0 1 0 -10.8 0a5.4 5.4 0 1 0 10.8 0zM964.3 610.5a5.4 5.4 0 1 0 -10.8 0a5.4 5.4 0 1 0 10.8 0zM968 625a5.4 5.4 0 1 0 -10.8 0a5.4 5.4 0 1 0 10.8 0zM971.6 638.8a5.4 5.4 0 1 0 -10.8 0a5.4 5.4 0 1 0 10.8 0zM975.2 651.5a5.4 5.4 0 1 0 -10.8 0a5.4 5.4 0 1 0 10.8 0zM978.8 662.4a5.4 5.4 0 1 0 -10.8 0a5.4 5.4 0 1 0 10.8 0zM982.5 670.7a5.4 5.4 0 1 0 -10.8 0a5.4 5.4 0 1 0 10.8 0zM986.1 676.1a5.4 5.4 0 1 0 -10.8 0a5.4 5.4 0 1 0 10.8 0zM989.7 677.9a5.4 5.4 0 1 0 -10.8 0a5.4 5.4 0 1 0 10.8 0zM993.4 676.1a5.4 5.4 0 1 0 -10.8 0a5.4 5.4 0 1 0 10.8 0zM997 670.6a5.4 5.4 0 1 0 -10.8 0a5.4 5.4 0 1 0 10.8 0zM1000.6 661.6a5.4 5.4 0 1 0 -10.8 0a5.4 5.4 0 1 0 10.8 0zM1004.3 649.5a5.4 5.4 0 1 0 -10.8 0a5.4 5.4 0 1 0 10.8 0zM1007.9 635a5.4 5.4 0 1 0 -10.8 0a5.4 5.4 0 1 0 10.8 0zM1011.5 618.6a5.4 5.4 0 1 0 -10.8 0a5.4 5.4 0 1 0 10.8 0zM1015.1 601a5.4 5.4 0 1 0 -10.8 0a5.4 5.4 0 1 0 10.8 0zM1018.8 582.7a5.4 5.4 0 1 0 -10.8 0a5.4 5.4 0 1 0 10.8 0zM1022.4 564.3a5.4 5.4 0 1 0 -10.8 0a5.4 5.4 0 1 0 10.8 0zM1026 546.1a5.4 5.4 0 1 0 -10.8 0a5.4 5.4 0 1 0 10.8 0zM1029.7 528.5a5.4 5.4 0 1 0 -10.8 0a5.4 5.4 0 1 0 10.8 0zM1033.3 511.6a5.4 5.4 0 1 0 -10.8 0a5.4 5.4 0 1 0 10.8 0zM1036.9 495.6a5.4 5.4 0 1 0 -10.8 0a5.4 5.4 0 1 0 10.8 0zM1040.6 480.6a5.4 5.4 0 1 0 -10.8 0a5.4 5.4 0 1 0 10.8 0zM1044.2 466.5a5.4 5.4 0 1 0 -10.8 0a5.4 5.4 0 1 0 10.8 0zM1047.8 453.5a5.4 5.4 0 1 0 -10.8 0a5.4 5.4 0 1 0 10.8 0zM1051.5 441.4a5.4 5.4 0 1 0 -10.8 0a5.4 5.4 0 1 0 10.8 0zM1055.1 430.3a5.4 5.4 0 1 0 -10.8 0a5.4 5.4 0 1 0 10.8 0zM1058.7 420a5.4 5.4 0 1 0 -10.8 0a5.4 5.4 0 1 0 10.8 0zM1062.3 410.5a5.4 5.4 0 1 0 -10.8 0a5.4 5.4 0 1 0 10.8 0zM1066 401.8a5.4 5.4 0 1 0 -10.8 0a5.4 5.4 0 1 0 10.8 0zM1069.6 393.7a5.4 5.4 0 1 0 -10.8 0a5.4 5.4 0 1 0 10.8 0zM1073.2 386.3a5.4 5.4 0 1 0 -10.8 0a5.4 5.4 0 1 0 10.8 0zM1076.9 379.5a5.4 5.4 0 1 0 -10.8 0a5.4 5.4 0 1 0 10.8 0zM1080.5 373.2a5.4 5.4 0 1 0 -10.8 0a5.4 5.4 0 1 0 10.8 0zM1084.1 367.3a5.4 5.4 0 1 0 -10.8 0a5.4 5.4 0 1 0 10.8 0zM1087.8 362a5.4 5.4 0 1 0 -10.8 0a5.4 5.4 0 1 0 10.8 0zM1091.4 357a5.4 5.4 0 1 0 -10.8 0a5.4 5.4 0 1 0 10.8 0zM1095 352.4a5.4 5.4 0 1 0 -10.8 0a5.4 5.4 0 1 0 10.8 0zM1098.6 348.1a5.4 5.4 0 1 0 -10.8 0a5.4 5.4 0 1 0 10.8 0zM1102.3 344.1a5.4 5.4 0 1 0 -10.8 0a5.4 5.4 0 1 0 10.8 0zM1105.9 340.4a5.4 5.4 0 1 0 -10.8 0a5.4 5.4 0 1 0 10.8 0zM1109.5 336.9a5.4 5.4 0 1 0 -10.8 0a5.4 5.4 0 1 0 10.8 0zM1113.2 333.7a5.4 5.4 0 1 0 -10.8 0a5.4 5.4 0 1 0 10.8 0zM1116.8 330.7a5.4 5.4 0 1 0 -10.8 0a5.4 5.4 0 1 0 10.8 0zM1120.4 327.9a5.4 5.4 0 1 0 -10.8 0a5.4 5.4 0 1 0 10.8 0zM1124.1 325.3a5.4 5.4 0 1 0 -10.8 0a5.4 5.4 0 1 0 10.8 0zM1127.7 322.8a5.4 5.4 0 1 0 -10.8 0a5.4 5.4 0 1 0 10.8 0zM1131.3 320.5a5.4 5.4 0 1 0 -10.8 0a5.4 5.4 0 1 0 10.8 0zM1134.9 318.3a5.4 5.4 0 1 0 -10.8 0a5.4 5.4 0 1 0 10.8 0zM1138.6 316.3a5.4 5.4 0 1 0 -10.8 0a5.4 5.4 0 1 0 10.8 0zM1142.2 314.4a5.4 5.4 0 1 0 -10.8 0a5.4 5.4 0 1 0 10.8 0zM1145.8 312.5a5.4 5.4 0 1 0 -10.8 0a5.4 5.4 0 1 0 10.8 0zM1149.5 310.8a5.4 5.4 0 1 0 -10.8 0a5.4 5.4 0 1 0 10.8 0zM1153.1 309.2a5.4 5.4 0 1 0 -10.8 0a5.4 5.4 0 1 0 10.8 0zM1156.7 307.7a5.4 5.4 0 1 0 -10.8 0a5.4 5.4 0 1 0 10.8 0zM1160.4 306.2a5.4 5.4 0 1 0 -10.8 0a5.4 5.4 0 1 0 10.8 0zM1164 304.9a5.4 5.4 0 1 0 -10.8 0a5.4 5.4 0 1 0 10.8 0zM1167.6 303.6a5.4 5.4 0 1 0 -10.8 0a5.4 5.4 0 1 0 10.8 0zM1171.2 302.3a5.4 5.4 0 1 0 -10.8 0a5.4 5.4 0 1 0 10.8 0zM1174.9 301.1a5.4 5.4 0 1 0 -10.8 0a5.4 5.4 0 1 0 10.8 0zM1178.5 300a5.4 5.4 0 1 0 -10.8 0a5.4 5.4 0 1 0 10.8 0zM1182.1 299a5.4 5.4 0 1 0 -10.8 0a5.4 5.4 0 1 0 10.8 0zM1185.8 298a5.4 5.4 0 1 0 -10.8 0a5.4 5.4 0 1 0 10.8 0zM1189.4 297a5.4 5.4 0 1 0 -10.8 0a5.4 5.4 0 1 0 10.8 0zM1193 296.1a5.4 5.4 0 1 0 -10.8 0a5.4 5.4 0 1 0 10.8 0zM1196.7 295.2a5.4 5.4 0 1 0 -10.8 0a5.4 5.4 0 1 0 10.8 0zM1200.3 294.4a5.4 5.4 0 1 0 -10.8 0a5.4 5.4 0 1 0 10.8 0zM1203.9 293.6a5.4 5.4 0 1 0 -10.8 0a5.4 5.4 0 1 0 10.8 0zM1207.5 292.8a5.4 5.4 0 1 0 -10.8 0a5.4 5.4 0 1 0 10.8 0zM1211.2 292a5.4 5.4 0 1 0 -10.8 0a5.4 5.4 0 1 0 10.8 0zM1214.8 291.3a5.4 5.4 0 1 0 -10.8 0a5.4 5.4 0 1 0 10.8 0zM1218.4 290.7a5.4 5.4 0 1 0 -10.8 0a5.4 5.4 0 1 0 10.8 0zM1222.1 290a5.4 5.4 0 1 0 -10.8 0a5.4 5.4 0 1 0 10.8 0zM1225.7 289.4a5.4 5.4 0 1 0 -10.8 0a5.4 5.4 0 1 0 10.8 0zM1229.3 288.8a5.4 5.4 0 1 0 -10.8 0a5.4 5.4 0 1 0 10.8 0zM1233 288.2a5.4 5.4 0 1 0 -10.8 0a5.4 5.4 0 1 0 10.8 0zM1236.6 287.7a5.4 5.4 0 1 0 -10.8 0a5.4 5.4 0 1 0 10.8 0zM1240.2 287.2a5.4 5.4 0 1 0 -10.8 0a5.4 5.4 0 1 0 10.8 0zM1243.8 286.6a5.4 5.4 0 1 0 -10.8 0a5.4 5.4 0 1 0 10.8 0zM1247.5 286.2a5.4 5.4 0 1 0 -10.8 0a5.4 5.4 0 1 0 10.8 0zM1251.1 285.7a5.4 5.4 0 1 0 -10.8 0a5.4 5.4 0 1 0 10.8 0zM1254.7 285.2a5.4 5.4 0 1 0 -10.8 0a5.4 5.4 0 1 0 10.8 0zM1258.4 284.8a5.4 5.4 0 1 0 -10.8 0a5.4 5.4 0 1 0 10.8 0zM1262 284.4a5.4 5.4 0 1 0 -10.8 0a5.4 5.4 0 1 0 10.8 0zM1265.6 284a5.4 5.4 0 1 0 -10.8 0a5.4 5.4 0 1 0 10.8 0zM1269.3 283.6a5.4 5.4 0 1 0 -10.8 0a5.4 5.4 0 1 0 10.8 0zM1272.9 283.2a5.4 5.4 0 1 0 -10.8 0a5.4 5.4 0 1 0 10.8 0zM1276.5 282.8a5.4 5.4 0 1 0 -10.8 0a5.4 5.4 0 1 0 10.8 0zM1280.1 282.5a5.4 5.4 0 1 0 -10.8 0a5.4 5.4 0 1 0 10.8 0zM1283.8 282.1a5.4 5.4 0 1 0 -10.8 0a5.4 5.4 0 1 0 10.8 0zM1287.4 281.8a5.4 5.4 0 1 0 -10.8 0a5.4 5.4 0 1 0 10.8 0zM1291 281.5a5.4 5.4 0 1 0 -10.8 0a5.4 5.4 0 1 0 10.8 0zM1294.7 281.1a5.4 5.4 0 1 0 -10.8 0a5.4 5.4 0 1 0 10.8 0zM1298.3 280.8a5.4 5.4 0 1 0 -10.8 0a5.4 5.4 0 1 0 10.8 0zM1301.9 280.5a5.4 5.4 0 1 0 -10.8 0a5.4 5.4 0 1 0 10.8 0zM1305.6 280.3a5.4 5.4 0 1 0 -10.8 0a5.4 5.4 0 1 0 10.8 0zM1309.2 280a5.4 5.4 0 1 0 -10.8 0a5.4 5.4 0 1 0 10.8 0zM1312.8 279.7a5.4 5.4 0 1 0 -10.8 0a5.4 5.4 0 1 0 10.8 0zM1316.4 279.5a5.4 5.4 0 1 0 -10.8 0a5.4 5.4 0 1 0 10.8 0zM1320.1 279.2a5.4 5.4 0 1 0 -10.8 0a5.4 5.4 0 1 0 10.8 0zM1323.7 279a5.4 5.4 0 1 0 -10.8 0a5.4 5.4 0 1 0 10.8 0zM1327.3 278.7a5.4 5.4 0 1 0 -10.8 0a5.4 5.4 0 1 0 10.8 0zM1331 278.5a5.4 5.4 0 1 0 -10.8 0a5.4 5.4 0 1 0 10.8 0zM1334.6 278.3a5.4 5.4 0 1 0 -10.8 0a5.4 5.4 0 1 0 10.8 0zM1338.2 278.1a5.4 5.4 0 1 0 -10.8 0a5.4 5.4 0 1 0 10.8 0zM1341.9 277.9a5.4 5.4 0 1 0 -10.8 0a5.4 5.4 0 1 0 10.8 0zM1345.5 277.6a5.4 5.4 0 1 0 -10.8 0a5.4 5.4 0 1 0 10.8 0zM1349.1 277.4a5.4 5.4 0 1 0 -10.8 0a5.4 5.4 0 1 0 10.8 0zM1352.7 277.3a5.4 5.4 0 1 0 -10.8 0a5.4 5.4 0 1 0 10.8 0zM1356.4 277.1a5.4 5.4 0 1 0 -10.8 0a5.4 5.4 0 1 0 10.8 0zM1360 276.9a5.4 5.4 0 1 0 -10.8 0a5.4 5.4 0 1 0 10.8 0zM1363.6 276.7a5.4 5.4 0 1 0 -10.8 0a5.4 5.4 0 1 0 10.8 0zM1367.3 276.5a5.4 5.4 0 1 0 -10.8 0a5.4 5.4 0 1 0 10.8 0zM1370.9 276.4a5.4 5.4 0 1 0 -10.8 0a5.4 5.4 0 1 0 10.8 0zM1374.5 276.2a5.4 5.4 0 1 0 -10.8 0a5.4 5.4 0 1 0 10.8 0zM1378.2 276a5.4 5.4 0 1 0 -10.8 0a5.4 5.4 0 1 0 10.8 0zM1381.8 275.9a5.4 5.4 0 1 0 -10.8 0a5.4 5.4 0 1 0 10.8 0zM1385.4 275.7a5.4 5.4 0 1 0 -10.8 0a5.4 5.4 0 1 0 10.8 0zM1389 275.6a5.4 5.4 0 1 0 -10.8 0a5.4 5.4 0 1 0 10.8 0zM1392.7 275.4a5.4 5.4 0 1 0 -10.8 0a5.4 5.4 0 1 0 10.8 0zM1396.3 275.3a5.4 5.4 0 1 0 -10.8 0a5.4 5.4 0 1 0 10.8 0zM1399.9 275.1a5.4 5.4 0 1 0 -10.8 0a5.4 5.4 0 1 0 10.8 0zM1403.6 275a5.4 5.4 0 1 0 -10.8 0a5.4 5.4 0 1 0 10.8 0zM1407.2 274.9a5.4 5.4 0 1 0 -10.8 0a5.4 5.4 0 1 0 10.8 0zM1410.8 274.7a5.4 5.4 0 1 0 -10.8 0a5.4 5.4 0 1 0 10.8 0zM1414.5 274.6a5.4 5.4 0 1 0 -10.8 0a5.4 5.4 0 1 0 10.8 0zM1418.1 274.5a5.4 5.4 0 1 0 -10.8 0a5.4 5.4 0 1 0 10.8 0zM1421.7 274.4a5.4 5.4 0 1 0 -10.8 0a5.4 5.4 0 1 0 10.8 0zM1425.3 274.3a5.4 5.4 0 1 0 -10.8 0a5.4 5.4 0 1 0 10.8 0zM1429 274.1a5.4 5.4 0 1 0 -10.8 0a5.4 5.4 0 1 0 10.8 0zM1432.6 274a5.4 5.4 0 1 0 -10.8 0a5.4 5.4 0 1 0 10.8 0zM1436.2 273.9a5.4 5.4 0 1 0 -10.8 0a5.4 5.4 0 1 0 10.8 0zM1439.9 273.8a5.4 5.4 0 1 0 -10.8 0a5.4 5.4 0 1 0 10.8 0zM1443.5 273.7a5.4 5.4 0 1 0 -10.8 0a5.4 5.4 0 1 0 10.8 0zM1447.1 273.6a5.4 5.4 0 1 0 -10.8 0a5.4 5.4 0 1 0 10.8 0zM1450.8 273.5a5.4 5.4 0 1 0 -10.8 0a5.4 5.4 0 1 0 10.8 0zM1454.4 273.4a5.4 5.4 0 1 0 -10.8 0a5.4 5.4 0 1 0 10.8 0zM1458 273.3a5.4 5.4 0 1 0 -10.8 0a5.4 5.4 0 1 0 10.8 0zM1461.6 273.2a5.4 5.4 0 1 0 -10.8 0a5.4 5.4 0 1 0 10.8 0zM1465.3 273.1a5.4 5.4 0 1 0 -10.8 0a5.4 5.4 0 1 0 10.8 0zM1468.9 273a5.4 5.4 0 1 0 -10.8 0a5.4 5.4 0 1 0 10.8 0zM1472.5 272.9a5.4 5.4 0 1 0 -10.8 0a5.4 5.4 0 1 0 10.8 0zM1476.2 272.9a5.4 5.4 0 1 0 -10.8 0a5.4 5.4 0 1 0 10.8 0zM1479.8 272.8a5.4 5.4 0 1 0 -10.8 0a5.4 5.4 0 1 0 10.8 0zM1483.4 272.7a5.4 5.4 0 1 0 -10.8 0a5.4 5.4 0 1 0 10.8 0zM1487.1 272.6a5.4 5.4 0 1 0 -10.8 0a5.4 5.4 0 1 0 10.8 0zM1490.7 272.5a5.4 5.4 0 1 0 -10.8 0a5.4 5.4 0 1 0 10.8 0zM1494.3 272.4a5.4 5.4 0 1 0 -10.8 0a5.4 5.4 0 1 0 10.8 0zM1497.9 272.4a5.4 5.4 0 1 0 -10.8 0a5.4 5.4 0 1 0 10.8 0zM1501.6 272.3a5.4 5.4 0 1 0 -10.8 0a5.4 5.4 0 1 0 10.8 0zM1505.2 272.2a5.4 5.4 0 1 0 -10.8 0a5.4 5.4 0 1 0 10.8 0zM1508.8 272.1a5.4 5.4 0 1 0 -10.8 0a5.4 5.4 0 1 0 10.8 0zM1512.5 272.1a5.4 5.4 0 1 0 -10.8 0a5.4 5.4 0 1 0 10.8 0zM1516.1 272a5.4 5.4 0 1 0 -10.8 0a5.4 5.4 0 1 0 10.8 0zM1519.7 271.9a5.4 5.4 0 1 0 -10.8 0a5.4 5.4 0 1 0 10.8 0zM1523.4 271.9a5.4 5.4 0 1 0 -10.8 0a5.4 5.4 0 1 0 10.8 0zM1527 271.8a5.4 5.4 0 1 0 -10.8 0a5.4 5.4 0 1 0 10.8 0zM1530.6 271.7a5.4 5.4 0 1 0 -10.8 0a5.4 5.4 0 1 0 10.8 0zM1534.2 271.7a5.4 5.4 0 1 0 -10.8 0a5.4 5.4 0 1 0 10.8 0zM1537.9 271.6a5.4 5.4 0 1 0 -10.8 0a5.4 5.4 0 1 0 10.8 0zM1541.5 271.5a5.4 5.4 0 1 0 -10.8 0a5.4 5.4 0 1 0 10.8 0zM1545.1 271.5a5.4 5.4 0 1 0 -10.8 0a5.4 5.4 0 1 0 10.8 0zM1548.8 271.4a5.4 5.4 0 1 0 -10.8 0a5.4 5.4 0 1 0 10.8 0zM1552.4 271.4a5.4 5.4 0 1 0 -10.8 0a5.4 5.4 0 1 0 10.8 0zM1556 271.3a5.4 5.4 0 1 0 -10.8 0a5.4 5.4 0 1 0 10.8 0zM1559.7 271.3a5.4 5.4 0 1 0 -10.8 0a5.4 5.4 0 1 0 10.8 0zM1563.3 271.2a5.4 5.4 0 1 0 -10.8 0a5.4 5.4 0 1 0 10.8 0zM1566.9 271.1a5.4 5.4 0 1 0 -10.8 0a5.4 5.4 0 1 0 10.8 0zM1570.5 271.1a5.4 5.4 0 1 0 -10.8 0a5.4 5.4 0 1 0 10.8 0zM1574.2 271a5.4 5.4 0 1 0 -10.8 0a5.4 5.4 0 1 0 10.8 0zM1577.8 271a5.4 5.4 0 1 0 -10.8 0a5.4 5.4 0 1 0 10.8 0z" fill="#00ffff"/>
<polyline points="127.7,267.3 131.3,267.3 134.9,267.3 138.6,267.3 142.2,267.3 145.8,267.3 149.4,267.3 153.1,267.3 156.7,267.3 160.3,267.3 164,267.3 167.6,267.3 171.2,267.4 174.8,267.4 178.5,267.4 182.1,267.4 185.7,267.4 189.4,267.4 193,267.4 196.6,267.4 200.3,267.4 203.9,267.4 207.5,267.5 211.1,267.5 214.8,267.5 218.4,267.5 222,267.5 225.7,267.5 229.3,267.5 232.9,267.5 236.6,267.5 240.2,267.6 243.8,267.6 247.4,267.6 251.1,267.6 254.7,267.6 258.3,267.6 262,267.6 265.6,267.6 269.2,267.7 272.9,267.7 276.5,267.7 280.1,267.7 283.8,267.7 287.4,267.7 291,267.7 294.6,267.8 298.3,267.8 301.9,267.8 305.5,267.8 309.2,267.8 312.8,267.8 316.4,267.9 320,267.9 323.7,267.9 327.3,267.9 330.9,267.9 334.6,268 338.2,268 341.8,268 345.5,268 349.1,268 352.7,268.1 356.4,268.1 360,268.1 363.6,268.1 367.2,268.2 370.9,268.2 374.5,268.2 378.1,268.2 381.8,268.3 385.4,268.3 389,268.3 392.6,268.3 396.3,268.4 399.9,268.4 403.5,268.4 407.2,268.5 410.8,268.5 414.4,268.5 418.1,268.6 421.7,268.6 425.3,268.6 428.9,268.7 432.6,268.7 436.2,268.7 439.8,268.8 443.5,268.8 447.1,268.9 450.7,268.9 454.4,268.9 458,269 461.6,269 465.2,269.1 468.9,269.1 472.5,269.2 476.1,269.2 479.8,269.3 483.4,269.3 487,269.4 490.7,269.5 494.3,269.5 497.9,269.6 501.5,269.6 505.2,269.7 508.8,269.8 512.4,269.8 516.1,269.9 519.7,270 523.3,270.1 527,270.1 530.6,270.2 534.2,270.3 537.9,270.4 541.5,270.5 545.1,270.6 548.7,270.7 552.4,270.8 556,270.9 559.6,271 563.3,271.1 566.9,271.2 570.5,271.3 574.1,271.4 577.8,271.6 581.4,271.7 585,271.8 588.7,272 592.3,272.1 595.9,272.3 599.6,272.4 603.2,272.6 606.8,272.8 610.4,273 614.1,273.2 617.7,273.4 621.3,273.6 625,273.8 628.6,274.1 632.2,274.3 635.9,274.6 639.5,274.8 643.1,275.1 646.8,275.4 650.4,275.7 654,276.1 657.6,276.4 661.3,276.8 664.9,277.2 668.5,277.6 672.2,278.1 675.8,278.6 679.4,279.1 683,279.6 686.7,280.2 690.3,280.8 693.9,281.5 697.6,282.2 701.2,282.9 704.8,283.8 708.5,284.7 712.1,285.6 715.7,286.6 719.3,287.8 723,289 726.6,290.3 730.2,291.8 733.9,293.4 737.5,295.1 741.1,297.1 744.8,299.2 748.4,301.6 752,304.2 755.6,307.2 759.3,310.5 762.9,314.3 766.5,318.5 770.2,323.3 773.8,328.8 777.4,335.1 781.1,342.4 784.7,350.8 788.3,360.5 791.9,371.9 795.6,385.1 799.2,400.4 802.8,418.1 806.5,438.4 810.1,461.1 813.7,485.7 817.4,511.2 821,535.5 824.6,555.9 828.2,569.6 831.9,574.5 835.5,570 839.1,557.7 842.8,540.3 846.4,520.6 850,501.3 853.7,484 857.3,469.5 860.9,458.5 864.5,451 868.2,446.9 871.8,446.5 875.4,449.5 879.1,456 882.7,466.1 886.3,479.6 890,496.2 893.6,515.1 897.2,534.9 900.8,553.3 904.5,567.3 908.1,574.1 911.7,571.9 915.4,560.5 919,541.7 922.6,518.2 926.3,492.8 929.9,467.8 933.5,444.5 937.1,423.5 940.8,405.1 944.4,389.1 948,375.4 951.7,363.5 955.3,353.4 958.9,344.6 962.6,337 966.2,330.5 969.8,324.8 973.4,319.8 977.1,315.4 980.7,311.5 984.3,308.1 988,305 991.6,302.3 995.2,299.8 998.9,297.6 1002.5,295.7 1006.1,293.8 1009.7,292.2 1013.4,290.7 1017,289.3 1020.6,288.1 1024.3,286.9 1027.9,285.9 1031.5,284.9 1035.2,284 1038.8,283.2 1042.4,282.4 1046,281.7 1049.7,281 1053.3,280.4 1056.9,279.8 1060.6,279.2 1064.2,278.7 1067.8,278.2 1071.5,277.8 1075.1,277.3 1078.7,276.9 1082.3,276.5 1086,276.2 1089.6,275.8 1093.2,275.5 1096.9,275.2 1100.5,274.9 1104.1,274.6 1107.8,274.4 1111.4,274.1 1115,273.9 1118.7,273.7 1122.3,273.4 1125.9,273.2 1129.5,273 1133.2,272.8 1136.8,272.7 1140.4,272.5 1144.1,272.3 1147.7,272.2 1151.3,272 1155,271.9 1158.6,271.7 1162.2,271.6 1165.8,271.5 1169.5,271.3 1173.1,271.2 1176.7,271.1 1180.4,271 1184,270.9 1187.6,270.8 1191.2,270.7 1194.9,270.6 1198.5,270.5 1202.1,270.4 1205.8,270.3 1209.4,270.2 1213,270.2 1216.7,270.1 1220.3,270 1223.9,269.9 1227.5,269.9 1231.2,269.8 1234.8,269.7 1238.4,269.7 1242.1,269.6 1245.7,269.5 1249.3,269.5 1253,269.4 1256.6,269.4 1260.2,269.3 1263.9,269.2 1267.5,269.2 1271.1,269.1 1274.7,269.1 1278.4,269 1282,269 1285.6,269 1289.3,268.9 1292.9,268.9 1296.5,268.8 1300.2,268.8 1303.8,268.8 1307.4,268.7 1311,268.7 1314.7,268.6 1318.3,268.6 1321.9,268.6 1325.6,268.5 1329.2,268.5 1332.8,268.5 1336.5,268.4 1340.1,268.4 1343.7,268.4 1347.3,268.4 1351,268.3 1354.6,268.3 1358.2,268.3 1361.9,268.2 1365.5,268.2 1369.1,268.2 1372.8,268.2 1376.4,268.1 1380,268.1 1383.6,268.1 1387.3,268.1 1390.9,268.1 1394.5,268 1398.2,268 1401.8,268 1405.4,268 1409,267.9 1412.7,267.9 1416.3,267.9 1419.9,267.9 1423.6,267.9 1427.2,267.9 1430.8,267.8 1434.5,267.8 1438.1,267.8 1441.7,267.8 1445.4,267.8 1449,267.8 1452.6,267.7 1456.2,267.7 1459.9,267.7 1463.5,267.7 1467.1,267.7 1470.8,267.7 1474.4,267.6 1478,267.6 1481.7,267.6 1485.3,267.6 1488.9,267.6 1492.5,267.6 1496.2,267.6 1499.8,267.6 1503.4,267.5 1507.1,267.5 1510.7,267.5 1514.3,267.5 1518,267.5 1521.6,267.5 1525.2,267.5 1528.8,267.5 1532.5,267.5 1536.1,267.4 1539.7,267.4 1543.4,267.4 1547,267.4 1550.6,267.4 1554.2,267.4 1557.9,267.4 1561.5,267.4 1565.1,267.4 1568.8,267.4 1572.4,267.3" fill="none" stroke="#ff60ff" stroke-width="2.5"/><path d="M132.4 261.5v11.5l-9.5 -5.8zM136 261.5v11.5l-9.5 -5.8zM139.7 261.5v11.5l-9.5 -5.8zM143.3 261.5v11.5l-9.5 -5.8zM146.9 261.5v11.5l-9.5 -5.8zM150.6 261.5v11.5l-9.5 -5.8zM154.2 261.6v11.5l-9.5 -5.8zM157.8 261.6v11.5l-9.5 -5.8zM161.4 261.6v11.5l-9.5 -5.8zM165.1 261.6v11.5l-9.5 -5.8zM168.7 261.6v11.5l-9.5 -5.8zM172.3 261.6v11.5l-9.5 -5.8zM176 261.6v11.5l-9.5 -5.8zM179.6 261.6v11.5l-9.5 -5.8zM183.2 261.6v11.5l-9.5 -5.8zM186.9 261.6v11.5l-9.5 -5.8zM190.5 261.6v11.5l-9.5 -5.8zM194.1 261.7v11.5l-9.5 -5.8zM197.8 261.7v11.5l-9.5 -5.8zM201.4 261.7v11.5l-9.5 -5.8zM205 261.7v11.5l-9.5 -5.8zM208.6 261.7v11.5l-9.5 -5.8zM212.3 261.7v11.5l-9.5 -5.8zM215.9 261.7v11.5l-9.5 -5.8zM219.5 261.7v11.5l-9.5 -5.8zM223.2 261.7v11.5l-9.5 -5.8zM226.8 261.7v11.5l-9.5 -5.8zM230.4 261.8v11.5l-9.5 -5.8zM234.1 261.8v11.5l-9.5 -5.8zM237.7 261.8v11.5l-9.5 -5.8zM241.3 261.8v11.5l-9.5 -5.8zM244.9 261.8v11.5l-9.5 -5.8zM248.6 261.8v11.5l-9.5 -5.8zM252.2 261.8v11.5l-9.5 -5.8zM255.8 261.8v11.5l-9.5 -5.8zM259.5 261.9v11.5l-9.5 -5.8zM263.1 261.9v11.5l-9.5 -5.8zM266.7 261.9v11.5l-9.5 -5.8zM270.4 261.9v11.5l-9.5 -5.8zM274 261.9v11.5l-9.5 -5.8zM277.6 261.9v11.5l-9.5 -5.8zM281.2 261.9v11.5l-9.5 -5.8zM284.9 262v11.5l-9.5 -5.8zM288.5 262v11.5l-9.5 -5.8zM292.1 262v11.5l-9.5 -5.8zM295.8 262v11.5l-9.5 -5.8zM299.4 262v11.5l-9.5 -5.8zM303 262v11.5l-9.5 -5.8zM306.6 262v11.5l-9.5 -5.8zM310.3 262.1v11.5l-9.5 -5.8zM313.9 262.1v11.5l-9.5 -5.8zM317.5 262.1v11.5l-9.5 -5.8zM321.2 262.1v11.5l-9.5 -5.8zM324.8 262.1v11.5l-9.5 -5.8zM328.4 262.2v11.5l-9.5 -5.8zM332.1 262.2v11.5l-9.5 -5.8zM335.7 262.2v11.5l-9.5 -5.8zM339.3 262.2v11.5l-9.5 -5.8zM342.9 262.2v11.5l-9.5 -5.8zM346.6 262.3v11.5l-9.5 -5.8zM350.2 262.3v11.5l-9.5 -5.8zM353.8 262.3v11.5l-9.5 -5.8zM357.5 262.3v11.5l-9.5 -5.8zM361.1 262.3v11.5l-9.5 -5.8zM364.7 262.4v11.5l-9.5 -5.8zM368.4 262.4v11.5l-9.5 -5.8zM372 262.4v11.5l-9.5 -5.8zM375.6 262.4v11.5l-9.5 -5.8zM379.2 262.5v11.5l-9.5 -5.8zM382.9 262.5v11.5l-9.5 -5.8zM386.5 262.5v11.5l-9.5 -5.8zM390.1 262.5v11.5l-9.5 -5.8zM393.8 262.6v11.5l-9.5 -5.8zM397.4 262.6v11.5l-9.5 -5.8zM401 262.6v11.5l-9.5 -5.8zM404.7 262.7v11.5l-9.5 -5.8zM408.3 262.7v11.5l-9.5 -5.8zM411.9 262.7v11.5l-9.5 -5.8zM415.5 262.7v11.5l-9.5 -5.8zM419.2 262.8v11.5l-9.5 -5.8zM422.8 262.8v11.5l-9.5 -5.8zM426.4 262.8v11.5l-9.5 -5.8zM430.1 262.9v11.5l-9.5 -5.8zM433.7 262.9v11.5l-9.5 -5.8zM437.3 263v11.5l-9.5 -5.8zM441 263v11.5l-9.5 -5.8zM444.6 263v11.5l-9.5 -5.8zM448.2 263.1v11.5l-9.5 -5.8zM451.9 263.1v11.5l-9.5 -5.8zM455.5 263.2v11.5l-9.5 -5.8zM459.1 263.2v11.5l-9.5 -5.8zM462.7 263.2v11.5l-9.5 -5.8zM466.4 263.3v11.5l-9.5 -5.8zM470 263.3v11.5l-9.5 -5.8zM473.6 263.4v11.5l-9.5 -5.8zM477.3 263.4v11.5l-9.5 -5.8zM480.9 263.5v11.5l-9.5 -5.8zM484.5 263.5v11.5l-9.5 -5.8zM488.1 263.6v11.5l-9.5 -5.8zM491.8 263.6v11.5l-9.5 -5.8zM495.4 263.7v11.5l-9.5 -5.8zM499 263.8v11.5l-9.5 -5.8zM502.7 263.8v11.5l-9.5 -5.8zM506.3 263.9v11.5l-9.5 -5.8zM509.9 263.9v11.5l-9.5 -5.8zM513.6 264v11.5l-9.5 -5.8zM517.2 264.1v11.5l-9.5 -5.8zM520.8 264.2v11.5l-9.5 -5.8zM524.4 264.2v11.5l-9.5 -5.8zM528.1 264.3v11.5l-9.5 -5.8zM531.7 264.4v11.5l-9.5 -5.8zM535.3 264.5v11.5l-9.5 -5.8zM539 264.5v11.5l-9.5 -5.8zM542.6 264.6v11.5l-9.5 -5.8zM546.2 264.7v11.5l-9.5 -5.8zM549.9 264.8v11.5l-9.5 -5.8zM553.5 264.9v11.5l-9.5 -5.8zM557.1 265v11.5l-9.5 -5.8zM560.8 265.1v11.5l-9.5 -5.8zM564.4 265.2v11.5l-9.5 -5.8zM568 265.3v11.5l-9.5 -5.8zM571.6 265.4v11.5l-9.5 -5.8zM575.3 265.6v11.5l-9.5 -5.8zM578.9 265.7v11.5l-9.5 -5.8zM582.5 265.8v11.5l-9.5 -5.8zM586.2 265.9v11.5l-9.5 -5.8zM589.8 266.1v11.5l-9.5 -5.8zM593.4 266.2v11.5l-9.5 -5.8zM597 266.4v11.5l-9.5 -5.8zM600.7 266.5v11.5l-9.5 -5.8zM604.3 266.7v11.5l-9.5 -5.8zM607.9 266.9v11.5l-9.5 -5.8zM611.6 267v11.5l-9.5 -5.8zM615.2 267.2v11.5l-9.5 -5.8zM618.8 267.4v11.5l-9.5 -5.8zM622.5 267.6v11.5l-9.5 -5.8zM626.1 267.8v11.5l-9.5 -5.8zM629.7 268.1v11.5l-9.5 -5.8zM633.4 268.3v11.5l-9.5 -5.8zM637 268.6v11.5l-9.5 -5.8zM640.6 268.8v11.5l-9.5 -5.8zM644.2 269.1v11.5l-9.5 -5.8zM647.9 269.4v11.5l-9.5 -5.8zM651.5 269.7v11.5l-9.5 -5.8zM655.1 270v11.5l-9.5 -5.8zM658.8 270.3v11.5l-9.5 -5.8zM662.4 270.7v11.5l-9.5 -5.8zM666 271.1v11.5l-9.5 -5.8zM669.6 271.5v11.5l-9.5 -5.8zM673.3 271.9v11.5l-9.5 -5.8zM676.9 272.3v11.5l-9.5 -5.8zM680.5 272.8v11.5l-9.5 -5.8zM684.2 273.3v11.5l-9.5 -5.8zM687.8 273.9v11.5l-9.5 -5.8zM691.4 274.4v11.5l-9.5 -5.8zM695.1 275.1v11.5l-9.5 -5.8zM698.7 275.7v11.5l-9.5 -5.8zM702.3 276.4v11.5l-9.5 -5.8zM705.9 277.2v11.5l-9.5 -5.8zM709.6 278v11.5l-9.5 -5.8zM713.2 278.9v11.5l-9.5 -5.8zM716.8 279.9v11.5l-9.5 -5.8zM720.5 280.9v11.5l-9.5 -5.8zM724.1 282v11.5l-9.5 -5.8zM727.7 283.2v11.5l-9.5 -5.8zM731.4 284.6v11.5l-9.5 -5.8zM735 286v11.5l-9.5 -5.8zM738.6 287.6v11.5l-9.5 -5.8zM742.2 289.4v11.5l-9.5 -5.8zM745.9 291.3v11.5l-9.5 -5.8zM749.5 293.5v11.5l-9.5 -5.8zM753.1 295.8v11.5l-9.5 -5.8zM756.8 298.5v11.5l-9.5 -5.8zM760.4 301.4v11.5l-9.5 -5.8zM764 304.8v11.5l-9.5 -5.8zM767.7 308.5v11.5l-9.5 -5.8zM771.3 312.7v11.5l-9.5 -5.8zM774.9 317.6v11.5l-9.5 -5.8zM778.5 323.1v11.5l-9.5 -5.8zM782.2 329.4v11.5l-9.5 -5.8zM785.8 336.6v11.5l-9.5 -5.8zM789.4 345v11.5l-9.5 -5.8zM793.1 354.8v11.5l-9.5 -5.8zM796.7 366.1v11.5l-9.5 -5.8zM800.3 379.3v11.5l-9.5 -5.8zM804 394.7v11.5l-9.5 -5.8zM807.6 412.4v11.5l-9.5 -5.8zM811.2 432.6v11.5l-9.5 -5.8zM814.8 455.3v11.5l-9.5 -5.8zM818.5 480v11.5l-9.5 -5.8zM822.1 505.4v11.5l-9.5 -5.8zM825.7 529.7v11.5l-9.5 -5.8zM829.4 550.1v11.5l-9.5 -5.8zM833 563.8v11.5l-9.5 -5.8zM836.6 568.7v11.5l-9.5 -5.8zM840.3 564.3v11.5l-9.5 -5.8zM843.9 552v11.5l-9.5 -5.8zM847.5 534.5v11.5l-9.5 -5.8zM851.1 514.9v11.5l-9.5 -5.8zM854.8 495.6v11.5l-9.5 -5.8zM858.4 478.2v11.5l-9.5 -5.8zM862 463.8v11.5l-9.5 -5.8zM865.7 452.7v11.5l-9.5 -5.8zM869.3 445.2v11.5l-9.5 -5.8zM872.9 441.2v11.5l-9.5 -5.8zM876.6 440.7v11.5l-9.5 -5.8zM880.2 443.7v11.5l-9.5 -5.8zM883.8 450.3v11.5l-9.5 -5.8zM887.4 460.4v11.5l-9.5 -5.8zM891.1 473.9v11.5l-9.5 -5.8zM894.7 490.5v11.5l-9.5 -5.8zM898.3 509.4v11.5l-9.5 -5.8zM902 529.2v11.5l-9.5 -5.8zM905.6 547.5v11.5l-9.5 -5.8zM909.2 561.5v11.5l-9.5 -5.8zM912.9 568.4v11.5l-9.5 -5.8zM916.5 566.1v11.5l-9.5 -5.8zM920.1 554.7v11.5l-9.5 -5.8zM923.8 535.9v11.5l-9.5 -5.8zM927.4 512.4v11.5l-9.5 -5.8zM931 487.1v11.5l-9.5 -5.8zM934.6 462v11.5l-9.5 -5.8zM938.3 438.7v11.5l-9.5 -5.8zM941.9 417.8v11.5l-9.5 -5.8zM945.5 399.3v11.5l-9.5 -5.8zM949.2 383.4v11.5l-9.5 -5.8zM952.8 369.6v11.5l-9.5 -5.8zM956.4 357.8v11.5l-9.5 -5.8zM960 347.6v11.5l-9.5 -5.8zM963.7 338.9v11.5l-9.5 -5.8zM967.3 331.3v11.5l-9.5 -5.8zM970.9 324.7v11.5l-9.5 -5.8zM974.6 319v11.5l-9.5 -5.8zM978.2 314v11.5l-9.5 -5.8zM981.8 309.6v11.5l-9.5 -5.8zM985.5 305.8v11.5l-9.5 -5.8zM989.1 302.3v11.5l-9.5 -5.8zM992.7 299.3v11.5l-9.5 -5.8zM996.3 296.5v11.5l-9.5 -5.8zM1000 294.1v11.5l-9.5 -5.8zM1003.6 291.9v11.5l-9.5 -5.8zM1007.2 289.9v11.5l-9.5 -5.8zM1010.9 288.1v11.5l-9.5 -5.8zM1014.5 286.5v11.5l-9.5 -5.8zM1018.1 285v11.5l-9.5 -5.8zM1021.8 283.6v11.5l-9.5 -5.8zM1025.4 282.3v11.5l-9.5 -5.8zM1029 281.2v11.5l-9.5 -5.8zM1032.7 280.1v11.5l-9.5 -5.8zM1036.3 279.2v11.5l-9.5 -5.8zM1039.9 278.3v11.5l-9.5 -5.8zM1043.5 277.4v11.5l-9.5 -5.8zM1047.2 276.6v11.5l-9.5 -5.8zM1050.8 275.9v11.5l-9.5 -5.8zM1054.4 275.2v11.5l-9.5 -5.8zM1058.1 274.6v11.5l-9.5 -5.8zM1061.7 274v11.5l-9.5 -5.8zM1065.3 273.5v11.5l-9.5 -5.8zM1069 273v11.5l-9.5 -5.8zM1072.6 272.5v11.5l-9.5 -5.8zM1076.2 272v11.5l-9.5 -5.8zM1079.8 271.6v11.5l-9.5 -5.8zM1083.5 271.2v11.5l-9.5 -5.8zM1087.1 270.8v11.5l-9.5 -5.8zM1090.7 270.4v11.5l-9.5 -5.8zM1094.4 270.1v11.5l-9.5 -5.8zM1098 269.8v11.5l-9.5 -5.8zM1101.6 269.5v11.5l-9.5 -5.8zM1105.2 269.2v11.5l-9.5 -5.8zM1108.9 268.9v11.5l-9.5 -5.8zM1112.5 268.6v11.5l-9.5 -5.8zM1116.1 268.4v11.5l-9.5 -5.8zM1119.8 268.1v11.5l-9.5 -5.8zM1123.4 267.9v11.5l-9.5 -5.8zM1127 267.7v11.5l-9.5 -5.8zM1130.7 267.5v11.5l-9.5 -5.8zM1134.3 267.3v11.5l-9.5 -5.8zM1137.9 267.1v11.5l-9.5 -5.8zM1141.5 266.9v11.5l-9.5 -5.8zM1145.2 266.7v11.5l-9.5 -5.8zM1148.8 266.6v11.5l-9.5 -5.8zM1152.4 266.4v11.5l-9.5 -5.8zM1156.1 266.3v11.5l-9.5 -5.8zM1159.7 266.1v11.5l-9.5 -5.8zM1163.3 266v11.5l-9.5 -5.8zM1167 265.8v11.5l-9.5 -5.8zM1170.6 265.7v11.5l-9.5 -5.8zM1174.2 265.6v11.5l-9.5 -5.8zM1177.9 265.5v11.5l-9.5 -5.8zM1181.5 265.4v11.5l-9.5 -5.8zM1185.1 265.2v11.5l-9.5 -5.8zM1188.7 265.1v11.5l-9.5 -5.8zM1192.4 265v11.5l-9.5 -5.8zM1196 264.9v11.5l-9.5 -5.8zM1199.6 264.8v11.5l-9.5 -5.8zM1203.3 264.7v11.5l-9.5 -5.8zM1206.9 264.7v11.5l-9.5 -5.8zM1210.5 264.6v11.5l-9.5 -5.8zM1214.2 264.5v11.5l-9.5 -5.8zM1217.8 264.4v11.5l-9.5 -5.8zM1221.4 264.3v11.5l-9.5 -5.8zM1225 264.2v11.5l-9.5 -5.8zM1228.7 264.2v11.5l-9.5 -5.8zM1232.3 264.1v11.5l-9.5 -5.8zM1235.9 264v11.5l-9.5 -5.8zM1239.6 264v11.5l-9.5 -5.8zM1243.2 263.9v11.5l-9.5 -5.8zM1246.8 263.8v11.5l-9.5 -5.8zM1250.5 263.8v11.5l-9.5 -5.8zM1254.1 263.7v11.5l-9.5 -5.8zM1257.7 263.7v11.5l-9.5 -5.8zM1261.3 263.6v11.5l-9.5 -5.8zM1265 263.5v11.5l-9.5 -5.8zM1268.6 263.5v11.5l-9.5 -5.8zM1272.2 263.4v11.5l-9.5 -5.8zM1275.9 263.4v11.5l-9.5 -5.8zM1279.5 263.3v11.5l-9.5 -5.8zM1283.1 263.3v11.5l-9.5 -5.8zM1286.8 263.3v11.5l-9.5 -5.8zM1290.4 263.2v11.5l-9.5 -5.8zM1294 263.2v11.5l-9.5 -5.8zM1297.6 263.1v11.5l-9.5 -5.8zM1301.3 263.1v11.5l-9.5 -5.8zM1304.9 263v11.5l-9.5 -5.8zM1308.5 263v11.5l-9.5 -5.8zM1312.2 263v11.5l-9.5 -5.8zM1315.8 262.9v11.5l-9.5 -5.8zM1319.4 262.9v11.5l-9.5 -5.8zM1323 262.9v11.5l-9.5 -5.8zM1326.7 262.8v11.5l-9.5 -5.8zM1330.3 262.8v11.5l-9.5 -5.8zM1333.9 262.8v11.5l-9.5 -5.8zM1337.6 262.7v11.5l-9.5 -5.8zM1341.2 262.7v11.5l-9.5 -5.8zM1344.8 262.7v11.5l-9.5 -5.8zM1348.5 262.6v11.5l-9.5 -5.8zM1352.1 262.6v11.5l-9.5 -5.8zM1355.7 262.6v11.5l-9.5 -5.8zM1359.4 262.5v11.5l-9.5 -5.8zM1363 262.5v11.5l-9.5 -5.8zM1366.6 262.5v11.5l-9.5 -5.8zM1370.2 262.5v11.5l-9.5 -5.8zM1373.9 262.4v11.5l-9.5 -5.8zM1377.5 262.4v11.5l-9.5 -5.8zM1381.1 262.4v11.5l-9.5 -5.8zM1384.8 262.4v11.5l-9.5 -5.8zM1388.4 262.3v11.5l-9.5 -5.8zM1392 262.3v11.5l-9.5 -5.8zM1395.7 262.3v11.5l-9.5 -5.8zM1399.3 262.3v11.5l-9.5 -5.8zM1402.9 262.3v11.5l-9.5 -5.8zM1406.5 262.2v11.5l-9.5 -5.8zM1410.2 262.2v11.5l-9.5 -5.8zM1413.8 262.2v11.5l-9.5 -5.8zM1417.4 262.2v11.5l-9.5 -5.8zM1421.1 262.2v11.5l-9.5 -5.8zM1424.7 262.1v11.5l-9.5 -5.8zM1428.3 262.1v11.5l-9.5 -5.8zM1432 262.1v11.5l-9.5 -5.8zM1435.6 262.1v11.5l-9.5 -5.8zM1439.2 262.1v11.5l-9.5 -5.8zM1442.8 262.1v11.5l-9.5 -5.8zM1446.5 262v11.5l-9.5 -5.8zM1450.1 262v11.5l-9.5 -5.8zM1453.7 262v11.5l-9.5 -5.8zM1457.4 262v11.5l-9.5 -5.8zM1461 262v11.5l-9.5 -5.8zM1464.6 262v11.5l-9.5 -5.8zM1468.2 261.9v11.5l-9.5 -5.8zM1471.9 261.9v11.5l-9.5 -5.8zM1475.5 261.9v11.5l-9.5 -5.8zM1479.1 261.9v11.5l-9.5 -5.8zM1482.8 261.9v11.5l-9.5 -5.8zM1486.4 261.9v11.5l-9.5 -5.8zM1490 261.9v11.5l-9.5 -5.8zM1493.7 261.8v11.5l-9.5 -5.8zM1497.3 261.8v11.5l-9.5 -5.8zM1500.9 261.8v11.5l-9.5 -5.8zM1504.5 261.8v11.5l-9.5 -5.8zM1508.2 261.8v11.5l-9.5 -5.8zM1511.8 261.8v11.5l-9.5 -5.8zM1515.4 261.8v11.5l-9.5 -5.8zM1519.1 261.8v11.5l-9.5 -5.8zM1522.7 261.7v11.5l-9.5 -5.8zM1526.3 261.7v11.5l-9.5 -5.8zM1530 261.7v11.5l-9.5 -5.8zM1533.6 261.7v11.5l-9.5 -5.8zM1537.2 261.7v11.5l-9.5 -5.8zM1540.9 261.7v11.5l-9.5 -5.8zM1544.5 261.7v11.5l-9.5 -5.8zM1548.1 261.7v11.5l-9.5 -5.8zM1551.7 261.7v11.5l-9.5 -5.8zM1555.4 261.7v11.5l-9.5 -5.8zM1559 261.6v11.5l-9.5 -5.8zM1562.6 261.6v11.5l-9.5 -5.8zM1566.3 261.6v11.5l-9.5 -5.8zM1569.9 261.6v11.5l-9.5 -5.8zM1573.5 261.6v11.5l-9.5 -5.8zM1577.2 261.6v11.5l-9.5 -5.8z" fill="#ff00ff"/>
</g>
<rect x="119.8" y="36.7" width="3" height="1168.4" fill="#bbb"/><rect x="119.8" y="36.7" width="1448.7" height="2.9" fill="#888"/><rect x="119.8" y="1205.1" width="1448.7" height="2.9" fill="#888"/><rect x="117.1" y="34" width="2.7" height="1176.8" fill="#000"/><rect x="117.1" y="34" width="1456.7" height="2.7" fill="#000"/><rect x="1568.5" y="34" width="2.6" height="1173.7" fill="#1a1a1a"/><rect x="1571.1" y="34" width="2.7" height="1173.7" fill="#4a4a4a"/><rect x="117.1" y="1208" width="1454" height="2.8" fill="#000"/>
<path d="M167.4 1208v-11M167.4 36v11.6M215.8 1208v-11M215.8 36v11.6M264.2 1208v-24M264.2 36v22M312.6 1208v-11M312.6 36v11.6M361 1208v-11M361 36v11.6M409.4 1208v-24M409.4 36v22M457.8 1208v-11M457.8 36v11.6M506.2 1208v-11M506.2 36v11.6M554.6 1208v-24M554.6 36v22M603 1208v-11M603 36v11.6M651.4 1208v-11M651.4 36v11.6M699.8 1208v-24M699.8 36v22M748.2 1208v-11M748.2 36v11.6M796.6 1208v-11M796.6 36v11.6M845 1208v-24M845 36v22M893.4 1208v-11M893.4 36v11.6M941.8 1208v-11M941.8 36v11.6M990.2 1208v-24M990.2 36v22M1038.6 1208v-11M1038.6 36v11.6M1087 1208v-11M1087 36v11.6M1135.4 1208v-24M1135.4 36v22M1183.8 1208v-11M1183.8 36v11.6M1232.2 1208v-11M1232.2 36v11.6M1280.6 1208v-24M1280.6 36v22M1329 1208v-11M1329 36v11.6M1377.4 1208v-11M1377.4 36v11.6M1425.8 1208v-24M1425.8 36v22M1474.2 1208v-11M1474.2 36v11.6M1522.6 1208v-11M1522.6 36v11.6" stroke="#000" stroke-width="3.3"/>
<g font-family="Liberation Sans, Arial, sans-serif" font-size="52" fill="#000"><text x="273.7" y="1272.7" text-anchor="middle">8</text><rect x="225.3" y="1259.4" width="32.5" height="2.7" fill="#000"/><text x="417.0" y="1272.7" text-anchor="middle">6</text><rect x="371.0" y="1259.4" width="32.5" height="2.7" fill="#000"/><text x="562.5" y="1272.7" text-anchor="middle">4</text><rect x="516.0" y="1259.4" width="32.5" height="2.7" fill="#000"/><text x="708.0" y="1272.7" text-anchor="middle">2</text><rect x="659.0" y="1259.4" width="32.5" height="2.7" fill="#000"/><text x="844.0" y="1272.7" text-anchor="middle">0</text><text x="991.0" y="1272.7" text-anchor="middle">2</text><text x="1134.4" y="1272.7" text-anchor="middle">4</text><text x="1280.8" y="1272.7" text-anchor="middle">6</text><text x="1425.7" y="1272.7" text-anchor="middle">8</text><rect x="68.7" y="1259.4" width="32.5" height="2.7" fill="#000"/><text x="102.5" y="1272.7">1</text><text x="127.5" y="1272.7">0</text><text x="1545.0" y="1272.7">1</text><text x="1571.0" y="1272.7">0</text><rect x="105.0" y="1267.6" width="10.7" height="6.2" fill="#fff"/><rect x="120.3" y="1267.6" width="8.799999999999994" height="6.2" fill="#fff"/><rect x="1547.5" y="1267.6" width="10.7" height="6.2" fill="#fff"/><rect x="1562.8" y="1267.6" width="9.799999999999908" height="6.2" fill="#fff"/></g>
<text x="647" y="1366" textLength="209.1" lengthAdjust="spacing" font-family="Liberation Sans, Arial, sans-serif" font-size="62" fill="#000">Velocity</text>
<text x="866.3" y="1366" textLength="204.4" lengthAdjust="spacing" font-family="Liberation Sans, Arial, sans-serif" font-size="62" fill="#000">(mm/s)</text>
<text transform="translate(74.6 1082.7) rotate(-90)" textLength="580.5" lengthAdjust="spacing" font-family="Liberation Sans, Arial, sans-serif" font-size="62" fill="#000">Relative transmission</text>
<text transform="translate(74.6 484.9) rotate(-90)" textLength="317.4" lengthAdjust="spacing" font-family="Liberation Sans, Arial, sans-serif" font-size="62" fill="#000">(arb. units)</text>
<rect x="1604.8" y="32.5" width="474.5" height="461.5" fill="#fff" stroke="#222" stroke-width="2.4"/><circle cx="1679.2" cy="74.5" r="4.3" fill="none" stroke="#333" stroke-width="2"/><text x="1763.2" y="95.9" textLength="304.1" lengthAdjust="spacing" font-family="Liberation Sans, Arial, sans-serif" font-size="59.5" fill="#000">Experi data</text><line x1="1611.5" x2="1749" y1="151.3" y2="151.3" stroke="#ff5555" stroke-width="2.8"/><text x="1763.2" y="171.5" textLength="166.3" lengthAdjust="spacing" font-family="Liberation Sans, Arial, sans-serif" font-size="59.5" fill="#000">Fitting</text><line x1="1611.5" x2="1749" y1="225.7" y2="225.7" stroke="#a0ffa0" stroke-width="4.4"/><path d="M1674.5 230.8h12.5l-6.2 -11z" fill="#00ff00"/><text x="1764.2" y="244.3" textLength="173.9" lengthAdjust="spacing" font-family="Liberation Sans, Arial, sans-serif" font-size="59.5" fill="#000">Sextet</text><text x="1955.7" y="244.3" font-family="Liberation Sans, Arial, sans-serif" font-size="59.5" fill="#000">1</text><rect x="1958.5" y="238.70000000000002" width="12.2" height="6.8" fill="#fff"/><rect x="1976.1000000000001" y="238.70000000000002" width="10.5" height="6.8" fill="#fff"/><line x1="1611.5" x2="1749" y1="300.6" y2="300.6" stroke="#7878ff" stroke-width="3.4"/><path d="M1674.5 298.5h12.3l-6.2 8z" fill="#0000ff"/><text x="1764.2" y="319.3" textLength="173.9" lengthAdjust="spacing" font-family="Liberation Sans, Arial, sans-serif" font-size="59.5" fill="#000">Sextet</text><text x="1953.5" y="319.3" font-family="Liberation Sans, Arial, sans-serif" font-size="59.5" fill="#000">2</text><line x1="1611.5" x2="1749" y1="375.6" y2="375.6" stroke="#40ffff" stroke-width="2.8"/><path d="M1686.2 375.8a5.5 6.2 0 1 0 -11 0a5.5 6.2 0 1 0 11 0z" fill="#00ffff"/><text x="1763.2" y="394.5" textLength="210.6" lengthAdjust="spacing" font-family="Liberation Sans, Arial, sans-serif" font-size="59.5" fill="#000">Doublet</text><text x="1994.4" y="394.5" font-family="Liberation Sans, Arial, sans-serif" font-size="59.5" fill="#000">1</text><rect x="1997.2" y="388.9" width="12.2" height="6.8" fill="#fff"/><rect x="2014.8000000000002" y="388.9" width="10.5" height="6.8" fill="#fff"/><line x1="1611.5" x2="1749" y1="451.1" y2="451.1" stroke="#ff30ff" stroke-width="2.8"/><path d="M1686 444v14l-10.5 -7z" fill="#ff00ff"/><text x="1763.2" y="469.6" textLength="210.6" lengthAdjust="spacing" font-family="Liberation Sans, Arial, sans-serif" font-size="59.5" fill="#000">Doublet</text><text x="1991.1" y="469.6" font-family="Liberation Sans, Arial, sans-serif" font-size="59.5" fill="#000">2</text>
<rect x="1398.4" y="1324" width="2.8" height="2.8" fill="#ccffff"/>
</svg></body></html>
